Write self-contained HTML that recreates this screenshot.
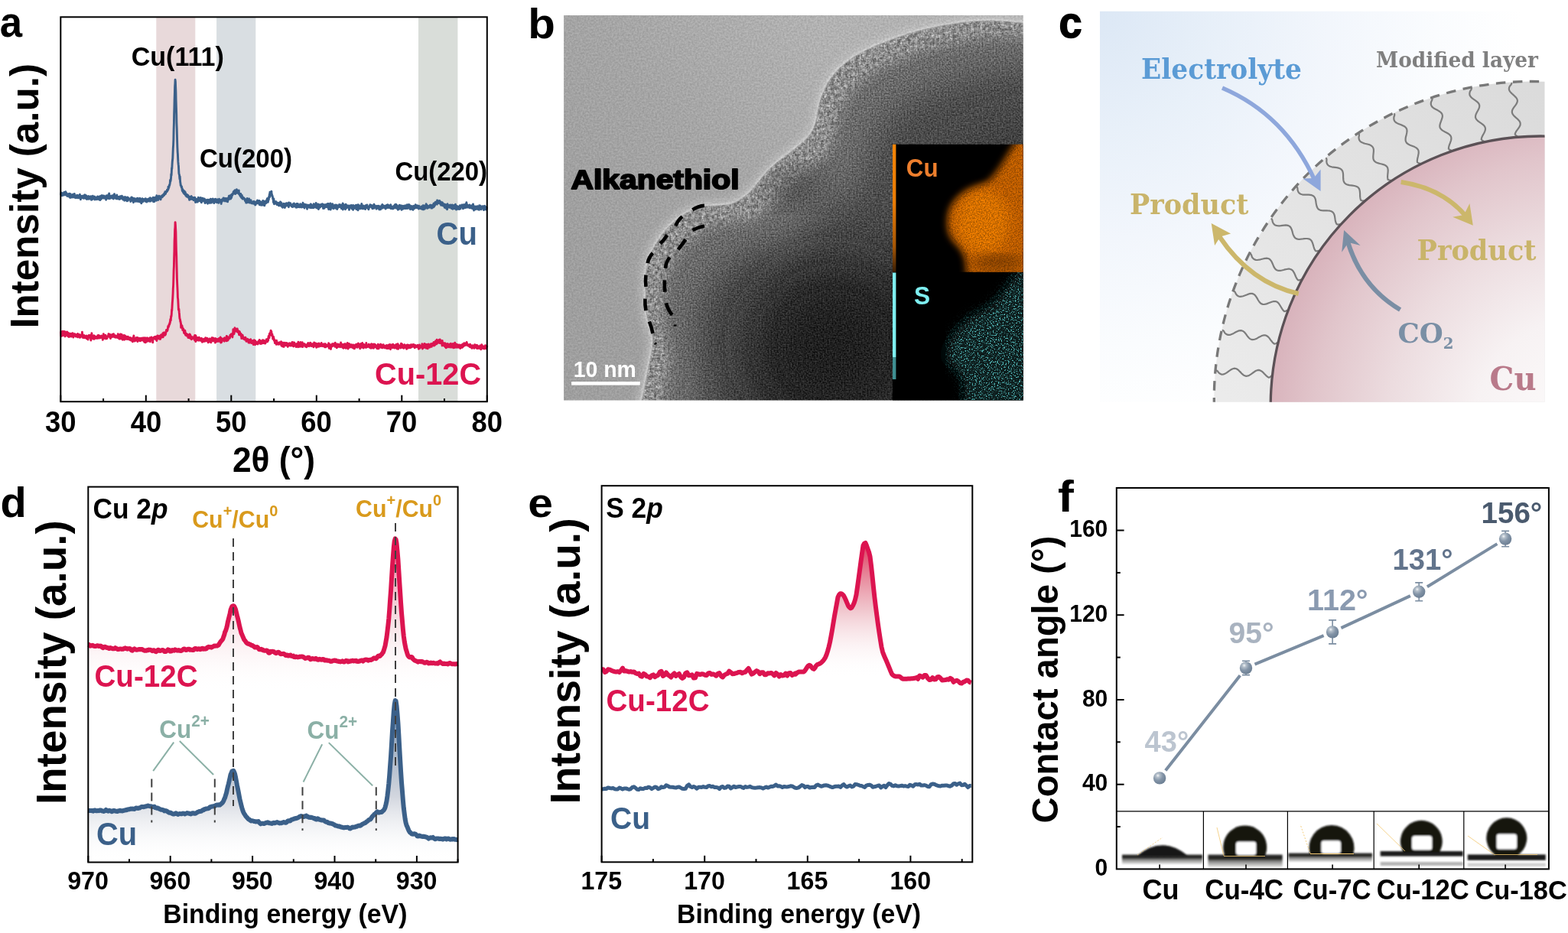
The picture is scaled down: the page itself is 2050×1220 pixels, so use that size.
<!DOCTYPE html>
<html lang="en"><head><meta charset="utf-8"><title>Figure</title>
<style>
html,body{margin:0;padding:0;background:#fff;overflow:hidden}
svg{display:block;position:absolute;left:0;top:0}
text{font-family:"Liberation Sans",sans-serif}
.sf{font-family:"DejaVu Serif","Liberation Serif",serif}
</style></head><body>
<svg width="2050" height="1220" viewBox="0 0 2050 1220">
<rect width="2050" height="1220" fill="#fff"/>
<defs>
<clipPath id="cb"><rect x="737.1" y="19.9" width="600.7" height="503.6"/></clipPath>
<linearGradient id="bbg" gradientUnits="userSpaceOnUse" x1="737" y1="330" x2="1080" y2="40"><stop offset="0" stop-color="#9f9f9f"/><stop offset="0.5" stop-color="#a5a5a5"/><stop offset="1" stop-color="#b2b2b2"/></linearGradient>
<filter id="bl1" x="-20%" y="-20%" width="140%" height="140%"><feGaussianBlur stdDeviation="1.3"/></filter>
<filter id="bl3" x="-20%" y="-20%" width="140%" height="140%"><feGaussianBlur stdDeviation="2.5"/></filter>
<filter id="bl5" x="-20%" y="-20%" width="140%" height="140%"><feGaussianBlur stdDeviation="5"/></filter>
<filter id="bl8" x="-20%" y="-20%" width="140%" height="140%"><feGaussianBlur stdDeviation="8"/></filter>
<filter id="bl20" x="-30%" y="-30%" width="160%" height="160%"><feGaussianBlur stdDeviation="20"/></filter>
<filter id="bl40" x="-40%" y="-40%" width="180%" height="180%"><feGaussianBlur stdDeviation="36"/></filter>
<filter id="temn" x="0" y="0" width="100%" height="100%" color-interpolation-filters="sRGB">
<feTurbulence type="fractalNoise" baseFrequency="0.42" numOctaves="2" seed="5" result="t"/>
<feColorMatrix in="t" type="matrix" values="1.6 0 0 0 -0.3  1.6 0 0 0 -0.3  1.6 0 0 0 -0.3  0 0 0 0 1" result="g"/>
<feComposite in="SourceGraphic" in2="g" operator="arithmetic" k1="0.16" k2="0.92" k3="0" k4="0"/>
</filter>
<filter id="shn" x="-5%" y="-5%" width="110%" height="110%" color-interpolation-filters="sRGB">
<feGaussianBlur in="SourceGraphic" stdDeviation="1.3" result="b"/>
<feTurbulence type="fractalNoise" baseFrequency="0.22" numOctaves="2" seed="17" result="t"/>
<feColorMatrix in="t" type="matrix" values="2 0 0 0 -0.5  2 0 0 0 -0.5  2 0 0 0 -0.5  0 0 0 0 1" result="g"/>
<feComposite in="b" in2="g" operator="arithmetic" k1="0.5" k2="0.75" k3="0" k4="0" result="c"/>
<feComposite in="c" in2="b" operator="in"/>
</filter>
<filter id="pn" x="0" y="0" width="100%" height="100%" color-interpolation-filters="sRGB">
<feTurbulence type="fractalNoise" baseFrequency="0.5" numOctaves="2" seed="33" result="t"/>
<feColorMatrix in="t" type="matrix" values="1.8 0 0 0 -0.4  1.8 0 0 0 -0.4  1.8 0 0 0 -0.4  0 0 0 0 1" result="g"/>
<feComposite in="SourceGraphic" in2="g" operator="arithmetic" k1="0.25" k2="0.875" k3="0.16" k4="-0.08" result="c"/>
<feComposite in="c" in2="SourceGraphic" operator="in"/>
</filter>
<filter id="cun" x="0" y="0" width="100%" height="100%" color-interpolation-filters="sRGB">
<feTurbulence type="fractalNoise" baseFrequency="0.6" numOctaves="2" seed="9" result="t"/>
<feColorMatrix in="t" type="matrix" values="0 0 0 0 0  0 0 0 0 0  0 0 0 0 0  -3 0 0 0 1.95" result="g"/>
<feComposite in="g" in2="SourceGraphic" operator="in"/>
</filter>
<filter id="sn" x="0" y="0" width="100%" height="100%" color-interpolation-filters="sRGB">
<feGaussianBlur in="SourceGraphic" stdDeviation="8" result="b"/>
<feTurbulence type="fractalNoise" baseFrequency="0.55" numOctaves="2" seed="21" result="t"/>
<feColorMatrix in="t" type="matrix" values="0 0 0 0 0.32  0 0 0 0 0.72  0 0 0 0 0.72  6.5 0 0 0 -3.5" result="g"/>
<feComposite in="g" in2="b" operator="in"/>
</filter>
</defs>
<g clip-path="url(#cb)">
<g filter="url(#temn)">
<rect x="735.1" y="17.9" width="604.7" height="507.6" fill="url(#bbg)"/>
<path d="M1350.0 31.0C1347.9 30.7 1344.9 29.9 1337.4 29.2C1329.9 28.4 1316.0 26.9 1305.0 26.5C1294.0 26.1 1283.0 26.1 1271.3 27.0C1259.6 27.9 1247.1 29.9 1235.0 32.0C1222.9 34.1 1210.6 36.6 1198.9 39.8C1187.2 43.0 1175.7 47.1 1165.0 51.0C1154.3 54.9 1143.5 59.3 1135.0 63.3C1126.5 67.3 1120.4 70.7 1114.0 75.0C1107.6 79.3 1101.6 84.1 1096.6 88.9C1091.6 93.7 1087.5 98.7 1084.0 104.0C1080.5 109.3 1077.7 115.1 1075.3 120.8C1072.9 126.5 1070.9 132.3 1069.5 138.0C1068.1 143.7 1068.0 149.7 1066.7 154.9C1065.5 160.1 1064.1 164.7 1062.0 169.0C1059.9 173.3 1057.3 176.8 1054.0 180.5C1050.7 184.2 1046.3 187.4 1042.0 191.0C1037.7 194.6 1032.9 198.3 1028.4 201.8C1023.9 205.3 1019.3 208.4 1015.0 212.0C1010.7 215.6 1006.6 219.1 1002.8 223.1C999.0 227.1 995.5 231.7 992.0 236.0C988.5 240.3 985.2 244.9 981.5 248.7C977.8 252.4 974.3 255.7 970.0 258.5C965.7 261.3 961.4 264.1 955.9 265.7C950.4 267.3 943.4 267.4 937.0 268.0C930.6 268.6 923.8 268.2 917.6 269.5C911.4 270.8 905.7 273.1 900.0 276.0C894.3 278.9 888.7 282.9 883.5 287.1C878.3 291.3 873.3 296.0 869.0 301.0C864.7 306.0 861.1 311.9 857.9 316.9C854.7 321.9 852.1 326.0 850.0 331.0C847.9 336.0 846.3 341.2 845.1 346.7C843.9 352.2 843.4 358.3 843.0 364.0C842.6 369.7 842.9 375.1 843.0 380.8C843.1 386.5 843.1 392.3 843.5 398.0C843.9 403.7 844.1 409.7 845.1 415.0C846.1 420.3 848.3 425.0 849.5 430.0C850.7 435.0 852.3 439.5 852.5 444.8C852.7 450.1 851.4 456.3 850.5 462.0C849.6 467.7 848.5 472.6 847.2 478.9C846.0 485.2 844.4 492.9 843.0 500.0C841.6 507.1 839.7 516.2 838.7 521.5C837.7 526.8 837.3 530.2 837.0 532.0L1350 532Z" fill="none" stroke="#c4c4c4" stroke-width="14" filter="url(#bl5)" opacity="0.6"/>
<g filter="url(#pn)">
<path d="M1350.0 31.0C1347.9 30.7 1344.9 29.9 1337.4 29.2C1329.9 28.4 1316.0 26.9 1305.0 26.5C1294.0 26.1 1283.0 26.1 1271.3 27.0C1259.6 27.9 1247.1 29.9 1235.0 32.0C1222.9 34.1 1210.6 36.6 1198.9 39.8C1187.2 43.0 1175.7 47.1 1165.0 51.0C1154.3 54.9 1143.5 59.3 1135.0 63.3C1126.5 67.3 1120.4 70.7 1114.0 75.0C1107.6 79.3 1101.6 84.1 1096.6 88.9C1091.6 93.7 1087.5 98.7 1084.0 104.0C1080.5 109.3 1077.7 115.1 1075.3 120.8C1072.9 126.5 1070.9 132.3 1069.5 138.0C1068.1 143.7 1068.0 149.7 1066.7 154.9C1065.5 160.1 1064.1 164.7 1062.0 169.0C1059.9 173.3 1057.3 176.8 1054.0 180.5C1050.7 184.2 1046.3 187.4 1042.0 191.0C1037.7 194.6 1032.9 198.3 1028.4 201.8C1023.9 205.3 1019.3 208.4 1015.0 212.0C1010.7 215.6 1006.6 219.1 1002.8 223.1C999.0 227.1 995.5 231.7 992.0 236.0C988.5 240.3 985.2 244.9 981.5 248.7C977.8 252.4 974.3 255.7 970.0 258.5C965.7 261.3 961.4 264.1 955.9 265.7C950.4 267.3 943.4 267.4 937.0 268.0C930.6 268.6 923.8 268.2 917.6 269.5C911.4 270.8 905.7 273.1 900.0 276.0C894.3 278.9 888.7 282.9 883.5 287.1C878.3 291.3 873.3 296.0 869.0 301.0C864.7 306.0 861.1 311.9 857.9 316.9C854.7 321.9 852.1 326.0 850.0 331.0C847.9 336.0 846.3 341.2 845.1 346.7C843.9 352.2 843.4 358.3 843.0 364.0C842.6 369.7 842.9 375.1 843.0 380.8C843.1 386.5 843.1 392.3 843.5 398.0C843.9 403.7 844.1 409.7 845.1 415.0C846.1 420.3 848.3 425.0 849.5 430.0C850.7 435.0 852.3 439.5 852.5 444.8C852.7 450.1 851.4 456.3 850.5 462.0C849.6 467.7 848.5 472.6 847.2 478.9C846.0 485.2 844.4 492.9 843.0 500.0C841.6 507.1 839.7 516.2 838.7 521.5C837.7 526.8 837.3 530.2 837.0 532.0L1350 532Z" fill="#8e8e8e" filter="url(#shn)"/>
<path d="M1350.0 31.0C1347.9 30.7 1344.9 29.9 1337.4 29.2C1329.9 28.4 1316.0 26.9 1305.0 26.5C1294.0 26.1 1283.0 26.1 1271.3 27.0C1259.6 27.9 1247.1 29.9 1235.0 32.0C1222.9 34.1 1210.6 36.6 1198.9 39.8C1187.2 43.0 1175.7 47.1 1165.0 51.0C1154.3 54.9 1143.5 59.3 1135.0 63.3C1126.5 67.3 1120.4 70.7 1114.0 75.0C1107.6 79.3 1101.6 84.1 1096.6 88.9C1091.6 93.7 1087.5 98.7 1084.0 104.0C1080.5 109.3 1077.7 115.1 1075.3 120.8C1072.9 126.5 1070.9 132.3 1069.5 138.0C1068.1 143.7 1068.0 149.7 1066.7 154.9C1065.5 160.1 1064.1 164.7 1062.0 169.0C1059.9 173.3 1057.3 176.8 1054.0 180.5C1050.7 184.2 1046.3 187.4 1042.0 191.0C1037.7 194.6 1032.9 198.3 1028.4 201.8C1023.9 205.3 1019.3 208.4 1015.0 212.0C1010.7 215.6 1006.6 219.1 1002.8 223.1C999.0 227.1 995.5 231.7 992.0 236.0C988.5 240.3 985.2 244.9 981.5 248.7C977.8 252.4 974.3 255.7 970.0 258.5C965.7 261.3 961.4 264.1 955.9 265.7C950.4 267.3 943.4 267.4 937.0 268.0C930.6 268.6 923.8 268.2 917.6 269.5C911.4 270.8 905.7 273.1 900.0 276.0C894.3 278.9 888.7 282.9 883.5 287.1C878.3 291.3 873.3 296.0 869.0 301.0C864.7 306.0 861.1 311.9 857.9 316.9C854.7 321.9 852.1 326.0 850.0 331.0C847.9 336.0 846.3 341.2 845.1 346.7C843.9 352.2 843.4 358.3 843.0 364.0C842.6 369.7 842.9 375.1 843.0 380.8C843.1 386.5 843.1 392.3 843.5 398.0C843.9 403.7 844.1 409.7 845.1 415.0C846.1 420.3 848.3 425.0 849.5 430.0C850.7 435.0 852.3 439.5 852.5 444.8C852.7 450.1 851.4 456.3 850.5 462.0C849.6 467.7 848.5 472.6 847.2 478.9C846.0 485.2 844.4 492.9 843.0 500.0C841.6 507.1 839.7 516.2 838.7 521.5C837.7 526.8 837.3 530.2 837.0 532.0L1350 532Z" fill="#6c6c6c" filter="url(#bl8)" transform="translate(25,23)"/>
<path d="M1350.0 31.0C1347.9 30.7 1344.9 29.9 1337.4 29.2C1329.9 28.4 1316.0 26.9 1305.0 26.5C1294.0 26.1 1283.0 26.1 1271.3 27.0C1259.6 27.9 1247.1 29.9 1235.0 32.0C1222.9 34.1 1210.6 36.6 1198.9 39.8C1187.2 43.0 1175.7 47.1 1165.0 51.0C1154.3 54.9 1143.5 59.3 1135.0 63.3C1126.5 67.3 1120.4 70.7 1114.0 75.0C1107.6 79.3 1101.6 84.1 1096.6 88.9C1091.6 93.7 1087.5 98.7 1084.0 104.0C1080.5 109.3 1077.7 115.1 1075.3 120.8C1072.9 126.5 1070.9 132.3 1069.5 138.0C1068.1 143.7 1068.0 149.7 1066.7 154.9C1065.5 160.1 1064.1 164.7 1062.0 169.0C1059.9 173.3 1057.3 176.8 1054.0 180.5C1050.7 184.2 1046.3 187.4 1042.0 191.0C1037.7 194.6 1032.9 198.3 1028.4 201.8C1023.9 205.3 1019.3 208.4 1015.0 212.0C1010.7 215.6 1006.6 219.1 1002.8 223.1C999.0 227.1 995.5 231.7 992.0 236.0C988.5 240.3 985.2 244.9 981.5 248.7C977.8 252.4 974.3 255.7 970.0 258.5C965.7 261.3 961.4 264.1 955.9 265.7C950.4 267.3 943.4 267.4 937.0 268.0C930.6 268.6 923.8 268.2 917.6 269.5C911.4 270.8 905.7 273.1 900.0 276.0C894.3 278.9 888.7 282.9 883.5 287.1C878.3 291.3 873.3 296.0 869.0 301.0C864.7 306.0 861.1 311.9 857.9 316.9C854.7 321.9 852.1 326.0 850.0 331.0C847.9 336.0 846.3 341.2 845.1 346.7C843.9 352.2 843.4 358.3 843.0 364.0C842.6 369.7 842.9 375.1 843.0 380.8C843.1 386.5 843.1 392.3 843.5 398.0C843.9 403.7 844.1 409.7 845.1 415.0C846.1 420.3 848.3 425.0 849.5 430.0C850.7 435.0 852.3 439.5 852.5 444.8C852.7 450.1 851.4 456.3 850.5 462.0C849.6 467.7 848.5 472.6 847.2 478.9C846.0 485.2 844.4 492.9 843.0 500.0C841.6 507.1 839.7 516.2 838.7 521.5C837.7 526.8 837.3 530.2 837.0 532.0L1350 532Z" fill="#4e4e4e" filter="url(#bl20)" transform="translate(66,60)"/>
<path d="M1350.0 31.0C1347.9 30.7 1344.9 29.9 1337.4 29.2C1329.9 28.4 1316.0 26.9 1305.0 26.5C1294.0 26.1 1283.0 26.1 1271.3 27.0C1259.6 27.9 1247.1 29.9 1235.0 32.0C1222.9 34.1 1210.6 36.6 1198.9 39.8C1187.2 43.0 1175.7 47.1 1165.0 51.0C1154.3 54.9 1143.5 59.3 1135.0 63.3C1126.5 67.3 1120.4 70.7 1114.0 75.0C1107.6 79.3 1101.6 84.1 1096.6 88.9C1091.6 93.7 1087.5 98.7 1084.0 104.0C1080.5 109.3 1077.7 115.1 1075.3 120.8C1072.9 126.5 1070.9 132.3 1069.5 138.0C1068.1 143.7 1068.0 149.7 1066.7 154.9C1065.5 160.1 1064.1 164.7 1062.0 169.0C1059.9 173.3 1057.3 176.8 1054.0 180.5C1050.7 184.2 1046.3 187.4 1042.0 191.0C1037.7 194.6 1032.9 198.3 1028.4 201.8C1023.9 205.3 1019.3 208.4 1015.0 212.0C1010.7 215.6 1006.6 219.1 1002.8 223.1C999.0 227.1 995.5 231.7 992.0 236.0C988.5 240.3 985.2 244.9 981.5 248.7C977.8 252.4 974.3 255.7 970.0 258.5C965.7 261.3 961.4 264.1 955.9 265.7C950.4 267.3 943.4 267.4 937.0 268.0C930.6 268.6 923.8 268.2 917.6 269.5C911.4 270.8 905.7 273.1 900.0 276.0C894.3 278.9 888.7 282.9 883.5 287.1C878.3 291.3 873.3 296.0 869.0 301.0C864.7 306.0 861.1 311.9 857.9 316.9C854.7 321.9 852.1 326.0 850.0 331.0C847.9 336.0 846.3 341.2 845.1 346.7C843.9 352.2 843.4 358.3 843.0 364.0C842.6 369.7 842.9 375.1 843.0 380.8C843.1 386.5 843.1 392.3 843.5 398.0C843.9 403.7 844.1 409.7 845.1 415.0C846.1 420.3 848.3 425.0 849.5 430.0C850.7 435.0 852.3 439.5 852.5 444.8C852.7 450.1 851.4 456.3 850.5 462.0C849.6 467.7 848.5 472.6 847.2 478.9C846.0 485.2 844.4 492.9 843.0 500.0C841.6 507.1 839.7 516.2 838.7 521.5C837.7 526.8 837.3 530.2 837.0 532.0L1350 532Z" fill="#343434" filter="url(#bl40)" transform="translate(140,135)"/>
<ellipse cx="1090" cy="450" rx="110" ry="110" fill="#1a1a1a" filter="url(#bl40)" opacity="0.85"/>
<ellipse cx="1040" cy="245" rx="38" ry="22" fill="#333" filter="url(#bl20)" opacity="0.55"/>
</g>
<path d="M1350.0 31.0C1347.9 30.7 1344.9 29.9 1337.4 29.2C1329.9 28.4 1316.0 26.9 1305.0 26.5C1294.0 26.1 1283.0 26.1 1271.3 27.0C1259.6 27.9 1247.1 29.9 1235.0 32.0C1222.9 34.1 1210.6 36.6 1198.9 39.8C1187.2 43.0 1175.7 47.1 1165.0 51.0C1154.3 54.9 1143.5 59.3 1135.0 63.3C1126.5 67.3 1120.4 70.7 1114.0 75.0C1107.6 79.3 1101.6 84.1 1096.6 88.9C1091.6 93.7 1087.5 98.7 1084.0 104.0C1080.5 109.3 1077.7 115.1 1075.3 120.8C1072.9 126.5 1070.9 132.3 1069.5 138.0C1068.1 143.7 1068.0 149.7 1066.7 154.9C1065.5 160.1 1064.1 164.7 1062.0 169.0C1059.9 173.3 1057.3 176.8 1054.0 180.5C1050.7 184.2 1046.3 187.4 1042.0 191.0C1037.7 194.6 1032.9 198.3 1028.4 201.8C1023.9 205.3 1019.3 208.4 1015.0 212.0C1010.7 215.6 1006.6 219.1 1002.8 223.1C999.0 227.1 995.5 231.7 992.0 236.0C988.5 240.3 985.2 244.9 981.5 248.7C977.8 252.4 974.3 255.7 970.0 258.5C965.7 261.3 961.4 264.1 955.9 265.7C950.4 267.3 943.4 267.4 937.0 268.0C930.6 268.6 923.8 268.2 917.6 269.5C911.4 270.8 905.7 273.1 900.0 276.0C894.3 278.9 888.7 282.9 883.5 287.1C878.3 291.3 873.3 296.0 869.0 301.0C864.7 306.0 861.1 311.9 857.9 316.9C854.7 321.9 852.1 326.0 850.0 331.0C847.9 336.0 846.3 341.2 845.1 346.7C843.9 352.2 843.4 358.3 843.0 364.0C842.6 369.7 842.9 375.1 843.0 380.8C843.1 386.5 843.1 392.3 843.5 398.0C843.9 403.7 844.1 409.7 845.1 415.0C846.1 420.3 848.3 425.0 849.5 430.0C850.7 435.0 852.3 439.5 852.5 444.8C852.7 450.1 851.4 456.3 850.5 462.0C849.6 467.7 848.5 472.6 847.2 478.9C846.0 485.2 844.4 492.9 843.0 500.0C841.6 507.1 839.7 516.2 838.7 521.5C837.7 526.8 837.3 530.2 837.0 532.0L1350 532Z" fill="none" stroke="#dadada" stroke-width="2.4" filter="url(#bl1)" opacity="0.85"/>
</g>
<path d="M920.9 268.9Q912.9 269.4 905.4 274.4" stroke="#000" stroke-width="4.6" fill="none"/>
<path d="M892 283.2Q886.4 287.7 883.2 295.4" stroke="#000" stroke-width="4.6" fill="none"/>
<path d="M872.2 307.6Q868.2 313.9 863.3 318.7" stroke="#000" stroke-width="4.6" fill="none"/>
<path d="M853.4 330.8Q848.0 336.5 846.7 344.1" stroke="#000" stroke-width="4.6" fill="none"/>
<path d="M844.5 359.6Q843.5 366.6 844.5 375.1" stroke="#000" stroke-width="4.6" fill="none"/>
<path d="M843.4 390.6Q843.0 398.6 844.5 406.1" stroke="#000" stroke-width="4.6" fill="none"/>
<path d="M848.9 420.5Q851.9 427.8 853.4 436" stroke="#000" stroke-width="4.6" fill="none"/>
<path d="M920.9 295.4Q912.9 296.8 905.4 301" stroke="#000" stroke-width="4.6" fill="none"/>
<path d="M896.5 313.1Q891.5 320.2 886.6 326.4" stroke="#000" stroke-width="4.6" fill="none"/>
<path d="M875.5 336.4Q870.8 342.4 870 350.8" stroke="#000" stroke-width="4.6" fill="none"/>
<path d="M868.9 366.3Q868.4 373.9 869.5 381.8" stroke="#000" stroke-width="4.6" fill="none"/>
<path d="M871 396.2Q873.1 405.1 878.8 411.7" stroke="#000" stroke-width="4.6" fill="none"/>
<path d="M880.5 425.5h4M855.5 450l3-1.5" stroke="#000" stroke-width="2" fill="none"/>
<rect x="1167" y="188.8" width="171" height="335" fill="#000"/>
<clipPath id="ccu"><rect x="1167" y="188.8" width="170.8" height="166.9"/></clipPath>
<g clip-path="url(#ccu)">
<path d="M1334.0 176.0C1332.7 178.2 1329.0 184.2 1326.0 189.0C1323.0 193.8 1319.5 199.5 1316.0 205.0C1312.5 210.5 1309.0 216.7 1305.0 222.0C1301.0 227.3 1296.7 233.3 1292.0 237.0C1287.3 240.7 1282.0 241.7 1277.0 244.0C1272.0 246.3 1266.5 248.2 1262.0 251.0C1257.5 253.8 1253.3 257.3 1250.0 261.0C1246.7 264.7 1243.8 268.7 1242.0 273.0C1240.2 277.3 1239.3 282.2 1239.0 287.0C1238.7 291.8 1238.8 297.5 1240.0 302.0C1241.2 306.5 1243.5 310.5 1246.0 314.0C1248.5 317.5 1252.5 319.5 1255.0 323.0C1257.5 326.5 1259.6 330.5 1261.0 335.0C1262.4 339.5 1263.0 345.2 1263.5 350.0C1264.0 354.8 1263.9 361.7 1264.0 364.0L1350 364L1350 176Z" fill="#d66a06" filter="url(#bl5)"/>
<ellipse cx="1285" cy="290" rx="34" ry="42" fill="#fb8506" filter="url(#bl8)" opacity="0.9"/>
<ellipse cx="1305" cy="343" rx="34" ry="9" fill="#5e2e04" filter="url(#bl8)" opacity="0.6"/>
<g filter="url(#cun)" opacity="0.3"><path d="M1334.0 176.0C1332.7 178.2 1329.0 184.2 1326.0 189.0C1323.0 193.8 1319.5 199.5 1316.0 205.0C1312.5 210.5 1309.0 216.7 1305.0 222.0C1301.0 227.3 1296.7 233.3 1292.0 237.0C1287.3 240.7 1282.0 241.7 1277.0 244.0C1272.0 246.3 1266.5 248.2 1262.0 251.0C1257.5 253.8 1253.3 257.3 1250.0 261.0C1246.7 264.7 1243.8 268.7 1242.0 273.0C1240.2 277.3 1239.3 282.2 1239.0 287.0C1238.7 291.8 1238.8 297.5 1240.0 302.0C1241.2 306.5 1243.5 310.5 1246.0 314.0C1248.5 317.5 1252.5 319.5 1255.0 323.0C1257.5 326.5 1259.6 330.5 1261.0 335.0C1262.4 339.5 1263.0 345.2 1263.5 350.0C1264.0 354.8 1263.9 361.7 1264.0 364.0L1350 364L1350 176Z" fill="#000"/></g>
</g>
<linearGradient id="lno" x1="0" y1="0" x2="0" y2="1"><stop offset="0" stop-color="#f38406"/><stop offset="0.45" stop-color="#e97c06"/><stop offset="0.8" stop-color="#a45606"/><stop offset="1" stop-color="#3a1e04"/></linearGradient><rect x="1167" y="188.8" width="4.4" height="167" fill="url(#lno)"/>
<clipPath id="ccs"><rect x="1167" y="356.2" width="170.8" height="167.3"/></clipPath>
<g clip-path="url(#ccs)">
<path d="M1338.0 343.0C1336.7 345.3 1332.8 352.5 1330.0 357.0C1327.2 361.5 1324.0 365.8 1321.0 370.0C1318.0 374.2 1315.2 378.6 1312.0 382.4C1308.8 386.2 1305.2 389.8 1302.0 393.0C1298.8 396.2 1296.3 399.1 1293.0 401.6C1289.7 404.1 1285.8 405.9 1282.0 408.0C1278.2 410.1 1273.5 411.7 1270.0 414.0C1266.5 416.3 1264.0 419.2 1261.0 422.0C1258.0 424.8 1254.7 427.8 1252.0 431.0C1249.3 434.2 1247.0 437.7 1245.0 441.0C1243.0 444.3 1241.3 447.8 1240.0 451.0C1238.7 454.2 1237.5 457.2 1237.0 460.0C1236.5 462.8 1236.2 465.3 1237.0 468.0C1237.8 470.7 1239.8 473.5 1242.0 476.0C1244.2 478.5 1247.7 480.7 1250.0 483.0C1252.3 485.3 1254.3 487.6 1256.0 490.0C1257.7 492.4 1259.2 494.2 1260.0 497.5C1260.8 500.8 1261.0 504.2 1261.0 510.0C1261.0 515.8 1260.2 528.3 1260.0 532.0L1350 532L1350 343Z" fill="#0a1f1f" filter="url(#bl8)"/>
<g filter="url(#sn)"><path d="M1338.0 343.0C1336.7 345.3 1332.8 352.5 1330.0 357.0C1327.2 361.5 1324.0 365.8 1321.0 370.0C1318.0 374.2 1315.2 378.6 1312.0 382.4C1308.8 386.2 1305.2 389.8 1302.0 393.0C1298.8 396.2 1296.3 399.1 1293.0 401.6C1289.7 404.1 1285.8 405.9 1282.0 408.0C1278.2 410.1 1273.5 411.7 1270.0 414.0C1266.5 416.3 1264.0 419.2 1261.0 422.0C1258.0 424.8 1254.7 427.8 1252.0 431.0C1249.3 434.2 1247.0 437.7 1245.0 441.0C1243.0 444.3 1241.3 447.8 1240.0 451.0C1238.7 454.2 1237.5 457.2 1237.0 460.0C1236.5 462.8 1236.2 465.3 1237.0 468.0C1237.8 470.7 1239.8 473.5 1242.0 476.0C1244.2 478.5 1247.7 480.7 1250.0 483.0C1252.3 485.3 1254.3 487.6 1256.0 490.0C1257.7 492.4 1259.2 494.2 1260.0 497.5C1260.8 500.8 1261.0 504.2 1261.0 510.0C1261.0 515.8 1260.2 528.3 1260.0 532.0L1350 532L1350 343Z" fill="#000"/></g>
</g>
<rect x="1167" y="356.5" width="4.4" height="110.5" fill="#7eeef0"/><rect x="1167" y="467" width="4.4" height="29" fill="#3f8f92"/>
</g>
<text x="1184.8" y="230.9" font-size="32.7" font-weight="bold" fill="#ee7f2d" textLength="41.7" lengthAdjust="spacingAndGlyphs">Cu</text>
<text x="1195.0" y="398.4" font-size="33.1" font-weight="bold" fill="#7eeef0" textLength="21.1" lengthAdjust="spacingAndGlyphs">S</text>
<rect x="747.1" y="499" width="89.7" height="4.6" fill="#fff"/>
<text x="749.7" y="492.9" font-size="29.7" font-weight="bold" fill="#fff" textLength="82.2" lengthAdjust="spacingAndGlyphs">10 nm</text>
<text x="746.5" y="247" font-size="34.5" font-weight="bold" fill="#000" stroke="#000" stroke-width="1.9" stroke-linejoin="round" textLength="220" lengthAdjust="spacingAndGlyphs">Alkanethiol</text>
<text x="690.2" y="50.0" font-size="55.2" font-weight="bold" textLength="35.6" lengthAdjust="spacingAndGlyphs">b</text>
<defs>
<clipPath id="cc"><rect x="1438" y="14.6" width="581.5" height="511.1"/></clipPath>
<radialGradient id="cbg" gradientUnits="userSpaceOnUse" cx="1430" cy="5" r="560"><stop offset="0" stop-color="#dbe7f5"/><stop offset="0.3" stop-color="#e8f0f9"/><stop offset="0.55" stop-color="#f2f6fc"/><stop offset="0.8" stop-color="#fafcfe"/><stop offset="1" stop-color="#ffffff"/></radialGradient>
<radialGradient id="cpk" gradientUnits="userSpaceOnUse" cx="2074.1" cy="560.9" r="420.9"><stop offset="0" stop-color="#fdfcfc"/><stop offset="0.35" stop-color="#f7f2f3"/><stop offset="0.62" stop-color="#ecdcdf"/><stop offset="0.85" stop-color="#e1c5cb"/><stop offset="1" stop-color="#d8b2bb"/></radialGradient>
<linearGradient id="cring" gradientUnits="userSpaceOnUse" x1="2000" y1="110" x2="1600" y2="520"><stop offset="0" stop-color="#dbdbdb"/><stop offset="1" stop-color="#ebebeb"/></linearGradient>
</defs>
<g clip-path="url(#cc)">
<rect x="1438" y="14.6" width="581.5" height="511.1" fill="url(#cbg)"/>
<circle cx="2002.7" cy="521.9" r="415.4" fill="url(#cring)"/>
<circle cx="2014.1" cy="530.9" r="352.9" fill="url(#cpk)"/>
<path d="M1976.4 108.9L1975.7 110.5L1974.2 112.2L1973.3 113.8L1972.9 115.4L1972.9 117.0L1973.4 118.5L1974.3 119.9L1975.6 121.4L1977.1 122.8L1978.7 124.2L1980.3 125.7L1981.7 127.1L1982.9 128.6L1983.6 130.1L1983.9 131.6L1983.7 133.2L1983.1 134.8L1982.2 136.4L1981.0 138.1L1979.8 139.7L1978.6 141.4L1977.6 143.0L1977.0 144.6L1976.8 146.2L1977.0 147.7L1977.6 149.2L1978.7 150.7L1980.1 152.1L1981.7 153.6L1983.3 155.0L1984.8 156.4L1986.2 157.9L1987.1 159.3L1987.6 160.8L1987.7 162.4L1987.4 164.0L1986.6 165.6L1985.6 167.2L1984.4 168.9L1983.1 170.6L1982.0 172.2L1981.2 173.9L1980.7 175.4L1981.7 176.9L1983.7 178.3" fill="none" stroke="#7c7c7c" stroke-width="2.2" stroke-linejoin="round" stroke-linecap="round"/>
<path d="M1923.9 115.6L1923.4 117.3L1922.1 119.2L1921.5 121.0L1921.3 122.6L1921.5 124.2L1922.2 125.7L1923.2 127.0L1924.7 128.4L1926.4 129.6L1928.2 130.8L1929.9 132.1L1931.5 133.4L1932.8 134.7L1933.7 136.1L1934.2 137.6L1934.2 139.2L1933.9 140.9L1933.1 142.7L1932.2 144.5L1931.2 146.3L1930.2 148.2L1929.5 149.9L1929.1 151.6L1929.0 153.3L1929.5 154.8L1930.3 156.2L1931.6 157.6L1933.1 158.9L1934.9 160.1L1936.7 161.3L1938.4 162.6L1939.9 163.9L1941.0 165.2L1941.7 166.7L1942.0 168.3L1941.8 169.9L1941.3 171.6L1940.5 173.4L1939.5 175.3L1938.5 177.1L1937.6 178.9L1937.0 180.6L1936.7 182.3L1937.9 183.7L1940.0 184.8" fill="none" stroke="#7c7c7c" stroke-width="2.2" stroke-linejoin="round" stroke-linecap="round"/>
<path d="M1872.6 129.0L1872.3 130.8L1871.2 132.9L1870.8 134.7L1870.8 136.4L1871.3 138.0L1872.1 139.4L1873.4 140.6L1875.0 141.8L1876.8 142.8L1878.8 143.8L1880.7 144.9L1882.4 146.0L1883.9 147.2L1885.0 148.5L1885.6 149.9L1885.9 151.6L1885.7 153.3L1885.2 155.2L1884.5 157.1L1883.8 159.1L1883.1 161.0L1882.6 162.9L1882.3 164.7L1882.5 166.3L1883.1 167.8L1884.2 169.1L1885.6 170.3L1887.3 171.4L1889.2 172.5L1891.2 173.5L1893.0 174.5L1894.7 175.7L1896.0 176.9L1896.9 178.3L1897.3 179.8L1897.4 181.5L1897.1 183.3L1896.5 185.2L1895.8 187.2L1895.0 189.1L1894.4 191.1L1894.0 192.9L1893.9 194.6L1895.3 195.8L1897.5 196.8" fill="none" stroke="#7c7c7c" stroke-width="2.2" stroke-linejoin="round" stroke-linecap="round"/>
<path d="M1823.2 149.0L1823.2 150.8L1822.4 153.0L1822.3 154.9L1822.5 156.6L1823.1 158.1L1824.1 159.4L1825.6 160.5L1827.3 161.4L1829.3 162.3L1831.3 163.1L1833.4 163.9L1835.2 164.8L1836.9 165.8L1838.1 167.0L1839.0 168.3L1839.4 169.9L1839.5 171.7L1839.2 173.7L1838.8 175.7L1838.3 177.7L1837.8 179.8L1837.6 181.7L1837.6 183.5L1838.0 185.1L1838.8 186.6L1840.0 187.8L1841.6 188.8L1843.4 189.7L1845.4 190.5L1847.5 191.3L1849.5 192.1L1851.3 193.1L1852.7 194.2L1853.8 195.4L1854.5 196.9L1854.7 198.6L1854.7 200.4L1854.3 202.4L1853.9 204.5L1853.4 206.5L1853.0 208.5L1852.8 210.4L1853.0 212.1L1854.5 213.2L1856.8 213.9" fill="none" stroke="#7c7c7c" stroke-width="2.2" stroke-linejoin="round" stroke-linecap="round"/>
<path d="M1776.8 175.1L1777.0 176.9L1776.5 179.2L1776.6 181.1L1777.0 182.8L1777.9 184.2L1779.0 185.4L1780.6 186.3L1782.5 187.1L1784.5 187.7L1786.7 188.2L1788.8 188.8L1790.8 189.4L1792.5 190.3L1793.9 191.3L1794.9 192.6L1795.6 194.1L1795.9 195.9L1795.9 197.8L1795.7 199.9L1795.5 202.0L1795.3 204.1L1795.3 206.1L1795.5 207.9L1796.1 209.5L1797.1 210.8L1798.5 211.9L1800.2 212.7L1802.1 213.4L1804.2 214.0L1806.4 214.5L1808.5 215.1L1810.4 215.8L1812.0 216.7L1813.2 217.9L1814.1 219.2L1814.5 220.9L1814.7 222.7L1814.6 224.8L1814.4 226.9L1814.2 229.0L1814.1 231.0L1814.2 232.9L1814.5 234.7L1816.2 235.5L1818.6 235.9" fill="none" stroke="#7c7c7c" stroke-width="2.2" stroke-linejoin="round" stroke-linecap="round"/>
<path d="M1734.1 207.0L1734.5 208.8L1734.3 211.2L1734.6 213.1L1735.3 214.7L1736.3 216.0L1737.6 217.0L1739.3 217.8L1741.2 218.3L1743.3 218.6L1745.5 218.9L1747.7 219.2L1749.8 219.6L1751.6 220.2L1753.1 221.1L1754.3 222.3L1755.2 223.7L1755.7 225.4L1756.0 227.4L1756.1 229.5L1756.1 231.6L1756.2 233.7L1756.4 235.7L1756.9 237.5L1757.7 238.9L1758.8 240.1L1760.3 241.0L1762.1 241.7L1764.1 242.1L1766.3 242.4L1768.5 242.7L1770.7 243.0L1772.6 243.5L1774.3 244.2L1775.7 245.2L1776.8 246.5L1777.4 248.1L1777.8 249.9L1778.0 251.9L1778.1 254.0L1778.1 256.2L1778.3 258.2L1778.6 260.1L1779.2 261.8L1780.9 262.5L1783.4 262.5" fill="none" stroke="#7c7c7c" stroke-width="2.2" stroke-linejoin="round" stroke-linecap="round"/>
<path d="M1695.7 244.3L1696.4 246.0L1696.5 248.4L1697.1 250.2L1697.9 251.7L1699.1 252.9L1700.5 253.8L1702.3 254.3L1704.3 254.6L1706.4 254.6L1708.7 254.6L1710.9 254.7L1713.0 254.8L1714.9 255.2L1716.5 255.9L1717.8 256.9L1718.8 258.2L1719.6 259.9L1720.1 261.8L1720.4 263.8L1720.7 266.0L1721.1 268.0L1721.6 270.0L1722.3 271.7L1723.3 273.1L1724.5 274.1L1726.1 274.8L1728.0 275.2L1730.1 275.4L1732.3 275.4L1734.5 275.4L1736.7 275.5L1738.7 275.7L1740.5 276.2L1742.0 277.1L1743.2 278.2L1744.0 279.7L1744.7 281.5L1745.1 283.4L1745.4 285.6L1745.7 287.7L1746.1 289.7L1746.7 291.5L1747.5 293.1L1749.3 293.6L1751.8 293.3" fill="none" stroke="#7c7c7c" stroke-width="2.2" stroke-linejoin="round" stroke-linecap="round"/>
<path d="M1662.5 286.1L1663.4 287.7L1663.8 290.1L1664.6 291.8L1665.6 293.2L1666.9 294.3L1668.5 294.9L1670.3 295.2L1672.3 295.3L1674.4 295.1L1676.6 294.8L1678.8 294.6L1680.9 294.4L1682.9 294.6L1684.6 295.1L1686.0 295.9L1687.2 297.1L1688.1 298.6L1688.9 300.5L1689.5 302.5L1690.0 304.5L1690.6 306.6L1691.4 308.4L1692.3 310.0L1693.4 311.3L1694.8 312.1L1696.5 312.6L1698.4 312.8L1700.5 312.7L1702.7 312.5L1704.9 312.2L1707.0 312.0L1709.1 312.0L1710.9 312.3L1712.5 312.9L1713.8 313.9L1714.9 315.3L1715.7 316.9L1716.4 318.8L1717.0 320.9L1717.6 323.0L1718.2 324.9L1719.0 326.7L1720.0 328.1L1721.9 328.4L1724.3 327.8" fill="none" stroke="#7c7c7c" stroke-width="2.2" stroke-linejoin="round" stroke-linecap="round"/>
<path d="M1635.0 331.9L1636.1 333.4L1636.7 335.7L1637.7 337.3L1638.9 338.5L1640.3 339.4L1642.0 339.9L1643.8 340.0L1645.8 339.7L1647.9 339.3L1650.0 338.7L1652.2 338.2L1654.2 337.8L1656.2 337.7L1657.9 338.0L1659.4 338.6L1660.7 339.7L1661.9 341.1L1662.8 342.8L1663.7 344.7L1664.5 346.7L1665.3 348.6L1666.3 350.4L1667.4 351.8L1668.7 352.9L1670.2 353.6L1671.9 353.9L1673.8 353.9L1675.8 353.5L1678.0 353.0L1680.1 352.4L1682.2 352.0L1684.3 351.7L1686.1 351.7L1687.7 352.2L1689.2 353.0L1690.4 354.2L1691.4 355.8L1692.4 357.6L1693.2 359.5L1694.0 361.5L1694.9 363.4L1695.9 365.0L1697.1 366.3L1698.9 366.3L1701.2 365.5" fill="none" stroke="#7c7c7c" stroke-width="2.2" stroke-linejoin="round" stroke-linecap="round"/>
<path d="M1613.6 380.8L1614.8 382.1L1615.8 384.3L1617.0 385.8L1618.3 386.9L1619.8 387.6L1621.4 387.8L1623.2 387.7L1625.2 387.2L1627.2 386.5L1629.3 385.7L1631.3 384.9L1633.3 384.2L1635.2 383.9L1637.0 383.9L1638.5 384.4L1640.0 385.2L1641.2 386.5L1642.4 388.1L1643.5 389.9L1644.5 391.7L1645.6 393.5L1646.7 395.1L1648.0 396.5L1649.4 397.4L1651.0 397.9L1652.7 398.0L1654.6 397.7L1656.5 397.1L1658.6 396.3L1660.7 395.5L1662.7 394.7L1664.6 394.2L1666.5 394.0L1668.1 394.2L1669.7 394.8L1671.0 395.9L1672.2 397.3L1673.3 399.0L1674.4 400.8L1675.5 402.7L1676.6 404.4L1677.7 405.9L1679.1 407.1L1680.9 406.8L1683.1 405.7" fill="none" stroke="#7c7c7c" stroke-width="2.2" stroke-linejoin="round" stroke-linecap="round"/>
<path d="M1598.7 431.9L1600.1 433.1L1601.2 435.2L1602.6 436.5L1604.0 437.4L1605.6 437.9L1607.3 437.9L1609.0 437.6L1610.9 436.8L1612.8 435.9L1614.7 434.8L1616.6 433.8L1618.5 432.9L1620.3 432.3L1622.0 432.1L1623.7 432.4L1625.2 433.0L1626.6 434.1L1627.9 435.5L1629.2 437.2L1630.4 438.9L1631.7 440.6L1633.0 442.0L1634.4 443.1L1635.9 443.9L1637.5 444.2L1639.2 444.0L1641.0 443.5L1642.9 442.7L1644.8 441.6L1646.8 440.6L1648.7 439.6L1650.5 438.8L1652.3 438.4L1654.0 438.4L1655.5 438.8L1657.0 439.7L1658.4 440.9L1659.7 442.4L1660.9 444.1L1662.2 445.8L1663.5 447.4L1664.8 448.8L1666.3 449.7L1668.1 449.3L1670.1 447.9" fill="none" stroke="#7c7c7c" stroke-width="2.2" stroke-linejoin="round" stroke-linecap="round"/>
<path d="M1590.5 484.5L1592.0 485.5L1593.4 487.4L1594.9 488.5L1596.4 489.3L1598.0 489.6L1599.6 489.4L1601.3 488.8L1603.0 487.9L1604.8 486.7L1606.5 485.3L1608.3 484.1L1610.0 483.0L1611.7 482.2L1613.4 481.7L1615.0 481.8L1616.6 482.3L1618.1 483.2L1619.6 484.4L1621.0 485.9L1622.5 487.4L1623.9 488.9L1625.4 490.2L1626.9 491.1L1628.4 491.7L1630.0 491.8L1631.7 491.4L1633.4 490.7L1635.1 489.6L1636.9 488.3L1638.7 487.0L1640.4 485.8L1642.1 484.8L1643.8 484.2L1645.5 483.9L1647.1 484.2L1648.6 484.9L1650.1 485.9L1651.6 487.3L1653.0 488.8L1654.5 490.3L1655.9 491.7L1657.4 492.9L1658.9 493.7L1660.6 493.0L1662.4 491.4" fill="none" stroke="#7c7c7c" stroke-width="2.2" stroke-linejoin="round" stroke-linecap="round"/>
<circle cx="2002.7" cy="521.9" r="415.4" fill="none" stroke="#787878" stroke-width="3.3" stroke-dasharray="12.5 9.5" stroke-dashoffset="4"/>
<circle cx="2014.1" cy="530.9" r="352.9" fill="none" stroke="#5b5156" stroke-width="3.3"/>
</g>
<path d="M1598 115 Q1680 150 1719 236" fill="none" stroke="#8ea7dc" stroke-width="5.5"/>
<path d="M1726.6 250L1703.3 233.6L1717.5 233L1726.6 221.4Z" fill="#8ea7dc"/>
<path d="M1697.7 384 Q1635 370 1594 309" fill="none" stroke="#ccb76b" stroke-width="6"/>
<path d="M1583.7 292.1L1609.1 305.4L1595.5 309.5L1588.1 320.9Z" fill="#ccb76b"/>
<path d="M1831.7 238 Q1885 246 1916 282" fill="none" stroke="#ccb76b" stroke-width="6"/>
<path d="M1925.8 294.8L1899.2 283.7L1914 281L1921.4 266Z" fill="#ccb76b"/>
<path d="M1830.6 405 Q1780 375 1762 316" fill="none" stroke="#7a8ea4" stroke-width="6"/>
<path d="M1757.1 301L1778.6 320.9L1763 317L1754.2 329.8Z" fill="#7a8ea4"/>
<text x="1492" y="103.2" font-size="36.5" font-weight="bold" fill="#5b9bd5" class="sf" textLength="210" lengthAdjust="spacingAndGlyphs">Electrolyte</text>
<text x="1799" y="88.1" font-size="27.5" font-weight="bold" fill="#7f7f7f" class="sf" textLength="212" lengthAdjust="spacingAndGlyphs">Modified layer</text>
<text x="1477" y="280" font-size="36.5" font-weight="bold" fill="#c9b46a" class="sf" textLength="155.5" lengthAdjust="spacingAndGlyphs">Product</text>
<text x="1852.5" y="340.4" font-size="36.5" font-weight="bold" fill="#c9b46a" class="sf" textLength="156" lengthAdjust="spacingAndGlyphs">Product</text>
<text x="1827.5" y="448.2" font-size="36" font-weight="bold" fill="#7a8fa5" class="sf" textLength="73" lengthAdjust="spacingAndGlyphs">CO<tspan dy="7.5" font-size="20">2</tspan></text>
<text x="1947.5" y="510.2" font-size="42" font-weight="bold" fill="#b97a8a" class="sf" textLength="61" lengthAdjust="spacingAndGlyphs">Cu</text>
<text x="1384.5" y="49.3" font-size="57" font-weight="bold" stroke="#000" stroke-width="1.6" textLength="30" lengthAdjust="spacingAndGlyphs">c</text>
<rect x="204.3" y="22.3" width="51" height="502.9" fill="#e8d9da"/>
<rect x="283.1" y="22.3" width="51.2" height="502.9" fill="#d9dee2"/>
<rect x="547" y="22.3" width="51.4" height="502.9" fill="#d9ddd9"/>
<polyline points="79.3,253.5 79.6,254.0 79.8,253.2 80.1,252.3 80.3,253.0 80.6,252.2 80.8,253.8 81.1,255.8 81.3,253.1 81.6,252.9 81.8,254.7 82.1,254.5 82.3,254.2 82.6,252.7 82.8,254.1 83.1,255.2 83.4,252.2 83.6,253.5 83.9,251.4 84.1,252.4 84.4,251.6 84.6,254.0 84.9,252.5 85.1,254.9 85.4,254.8 85.6,254.3 85.9,250.8 86.1,253.8 86.4,254.6 86.7,254.9 86.9,252.5 87.2,254.1 87.4,253.4 87.7,253.7 87.9,256.5 88.2,253.8 88.4,255.0 88.7,256.4 88.9,254.2 89.2,255.0 89.4,255.3 89.7,255.3 89.9,253.4 90.2,255.4 90.5,257.4 90.7,253.1 91.0,256.7 91.2,255.6 91.5,254.5 91.7,258.5 92.0,256.7 92.2,253.8 92.5,255.8 92.7,256.6 93.0,255.4 93.2,256.8 93.5,255.7 93.8,256.8 94.0,258.0 94.3,254.9 94.5,256.3 94.8,255.3 95.0,256.2 95.3,254.3 95.5,255.2 95.8,255.8 96.0,257.5 96.3,257.9 96.5,254.3 96.8,255.1 97.0,257.3 97.3,253.4 97.6,255.7 97.8,256.3 98.1,258.3 98.3,257.5 98.6,256.0 98.8,256.0 99.1,256.2 99.3,258.9 99.6,256.0 99.8,256.2 100.1,257.3 100.3,256.6 100.6,256.5 100.8,255.2 101.1,256.8 101.4,256.2 101.6,258.7 101.9,257.9 102.1,257.0 102.4,258.0 102.6,256.5 102.9,258.7 103.1,257.1 103.4,258.0 103.6,255.2 103.9,257.7 104.1,254.7 104.4,254.2 104.7,256.9 104.9,256.0 105.2,257.6 105.4,260.8 105.7,256.2 105.9,256.5 106.2,257.8 106.4,258.3 106.7,257.3 106.9,257.3 107.2,258.7 107.4,258.4 107.7,256.1 107.9,257.6 108.2,257.8 108.5,256.2 108.7,258.2 109.0,256.5 109.2,259.3 109.5,258.2 109.7,258.0 110.0,257.1 110.2,257.8 110.5,255.0 110.7,256.3 111.0,258.6 111.2,254.9 111.5,259.4 111.8,255.5 112.0,259.3 112.3,256.9 112.5,259.4 112.8,258.4 113.0,256.0 113.3,260.2 113.5,260.5 113.8,258.2 114.0,257.9 114.3,258.1 114.5,256.9 114.8,260.1 115.0,257.6 115.3,258.4 115.6,257.3 115.8,257.6 116.1,256.6 116.3,260.4 116.6,258.3 116.8,260.0 117.1,258.6 117.3,257.6 117.6,258.2 117.8,257.8 118.1,258.7 118.3,258.1 118.6,258.3 118.8,256.7 119.1,257.6 119.4,261.3 119.6,257.8 119.9,257.2 120.1,259.3 120.4,260.9 120.6,256.7 120.9,258.5 121.1,257.9 121.4,256.2 121.6,260.0 121.9,258.9 122.1,259.0 122.4,257.8 122.7,259.6 122.9,258.1 123.2,258.7 123.4,257.3 123.7,257.1 123.9,261.0 124.2,258.2 124.4,259.4 124.7,258.9 124.9,258.3 125.2,258.2 125.4,259.9 125.7,258.5 125.9,258.7 126.2,259.0 126.5,260.7 126.7,260.0 127.0,259.5 127.2,258.1 127.5,256.9 127.7,260.4 128.0,260.4 128.2,258.7 128.5,259.7 128.7,260.1 129.0,260.2 129.2,260.3 129.5,258.2 129.8,261.1 130.0,257.0 130.3,260.1 130.5,259.6 130.8,260.1 131.0,261.6 131.3,261.0 131.5,257.1 131.8,256.2 132.0,260.0 132.3,257.2 132.5,258.7 132.8,259.9 133.0,256.2 133.3,255.5 133.6,259.0 133.8,258.7 134.1,258.2 134.3,258.6 134.6,257.3 134.8,256.2 135.1,258.2 135.3,257.0 135.6,256.0 135.8,259.2 136.1,258.3 136.3,259.0 136.6,256.9 136.9,257.3 137.1,256.8 137.4,256.9 137.6,258.5 137.9,257.0 138.1,258.7 138.4,258.7 138.6,261.2 138.9,256.0 139.1,259.4 139.4,257.9 139.6,258.0 139.9,255.8 140.1,257.3 140.4,259.1 140.7,257.8 140.9,258.0 141.2,257.4 141.4,259.6 141.7,257.8 141.9,254.5 142.2,256.8 142.4,254.8 142.7,252.9 142.9,256.9 143.2,259.7 143.4,257.8 143.7,255.9 143.9,256.2 144.2,259.3 144.5,257.8 144.7,257.7 145.0,257.5 145.2,257.6 145.5,258.8 145.7,258.4 146.0,257.8 146.2,256.0 146.5,258.3 146.7,256.5 147.0,259.1 147.2,255.6 147.5,257.3 147.8,257.5 148.0,255.5 148.3,260.0 148.5,259.7 148.8,256.8 149.0,258.6 149.3,258.0 149.5,253.6 149.8,257.9 150.0,257.4 150.3,257.6 150.5,255.9 150.8,257.1 151.0,257.3 151.3,259.3 151.6,258.1 151.8,257.6 152.1,259.9 152.3,256.8 152.6,257.0 152.8,254.9 153.1,260.0 153.3,259.1 153.6,259.1 153.8,258.7 154.1,257.9 154.3,258.1 154.6,257.4 154.9,257.5 155.1,258.0 155.4,260.2 155.6,258.8 155.9,257.9 156.1,257.1 156.4,257.1 156.6,260.5 156.9,258.9 157.1,258.3 157.4,257.7 157.6,256.6 157.9,258.2 158.1,259.6 158.4,257.8 158.7,258.1 158.9,258.1 159.2,258.7 159.4,256.2 159.7,258.2 159.9,257.4 160.2,260.0 160.4,257.6 160.7,259.6 160.9,261.1 161.2,258.4 161.4,258.0 161.7,259.3 161.9,259.0 162.2,257.6 162.5,259.8 162.7,262.2 163.0,258.8 163.2,259.0 163.5,257.8 163.7,259.9 164.0,257.6 164.2,257.8 164.5,261.5 164.7,258.2 165.0,261.3 165.2,262.0 165.5,260.1 165.8,260.6 166.0,262.8 166.3,259.6 166.5,259.1 166.8,258.0 167.0,260.1 167.3,262.3 167.5,261.6 167.8,258.8 168.0,259.0 168.3,259.5 168.5,260.8 168.8,260.1 169.0,260.7 169.3,260.9 169.6,260.1 169.8,260.5 170.1,260.9 170.3,260.5 170.6,261.4 170.8,263.5 171.1,261.7 171.3,260.9 171.6,258.3 171.8,261.5 172.1,258.0 172.3,258.9 172.6,262.3 172.9,262.1 173.1,260.9 173.4,258.6 173.6,260.6 173.9,260.2 174.1,262.2 174.4,264.7 174.6,261.6 174.9,260.2 175.1,259.6 175.4,261.3 175.6,261.2 175.9,259.8 176.1,261.7 176.4,259.8 176.7,263.2 176.9,263.2 177.2,263.3 177.4,260.9 177.7,262.5 177.9,261.5 178.2,261.2 178.4,261.3 178.7,259.8 178.9,259.6 179.2,263.0 179.4,261.6 179.7,262.2 179.9,263.4 180.2,259.3 180.5,260.8 180.7,262.2 181.0,262.5 181.2,261.4 181.5,263.5 181.7,262.3 182.0,260.2 182.2,260.6 182.5,263.3 182.7,262.7 183.0,259.2 183.2,264.1 183.5,263.0 183.8,264.1 184.0,261.5 184.3,261.7 184.5,260.4 184.8,265.9 185.0,261.9 185.3,264.5 185.5,261.1 185.8,262.4 186.0,259.6 186.3,261.5 186.5,263.6 186.8,260.2 187.0,263.7 187.3,262.6 187.6,260.5 187.8,261.3 188.1,261.4 188.3,262.0 188.6,261.3 188.8,260.8 189.1,261.6 189.3,260.5 189.6,260.1 189.8,262.0 190.1,263.3 190.3,259.7 190.6,262.0 190.9,261.0 191.1,260.5 191.4,263.2 191.6,261.1 191.9,264.1 192.1,260.7 192.4,262.4 192.6,261.5 192.9,260.7 193.1,262.7 193.4,261.5 193.6,262.7 193.9,261.7 194.1,260.1 194.4,261.5 194.7,261.7 194.9,263.1 195.2,260.2 195.4,261.5 195.7,259.0 195.9,262.5 196.2,259.9 196.4,258.8 196.7,261.4 196.9,263.1 197.2,259.1 197.4,259.7 197.7,260.2 197.9,259.6 198.2,261.8 198.5,260.0 198.7,260.1 199.0,262.0 199.2,260.0 199.5,261.7 199.7,259.6 200.0,259.2 200.2,258.2 200.5,263.7 200.7,260.4 201.0,261.2 201.2,260.7 201.5,261.0 201.8,260.8 202.0,263.5 202.3,259.0 202.5,258.2 202.8,259.0 203.0,258.4 203.3,261.5 203.5,261.5 203.8,258.8 204.0,258.1 204.3,259.6 204.5,262.2 204.8,255.8 205.0,260.7 205.3,258.3 205.6,261.4 205.8,258.1 206.1,259.2 206.3,257.3 206.6,258.0 206.8,261.5 207.1,260.6 207.3,258.6 207.6,257.8 207.8,256.2 208.1,258.4 208.3,258.8 208.6,258.6 208.9,258.5 209.1,256.9 209.4,258.3 209.6,258.3 209.9,260.1 210.1,260.9 210.4,257.8 210.6,256.7 210.9,257.6 211.1,256.7 211.4,256.3 211.6,257.2 211.9,255.6 212.1,257.9 212.4,256.6 212.7,257.0 212.9,256.2 213.2,255.2 213.4,254.6 213.7,255.5 213.9,254.8 214.2,255.8 214.4,255.2 214.7,253.0 214.9,254.9 215.2,252.5 215.4,253.3 215.7,253.5 215.9,250.6 216.2,253.5 216.5,253.3 216.7,252.5 217.0,251.8 217.2,251.5 217.5,250.2 217.7,250.9 218.0,250.1 218.2,250.6 218.5,248.2 218.7,249.9 219.0,249.3 219.2,248.3 219.5,247.3 219.8,248.2 220.0,244.3 220.3,246.8 220.5,245.8 220.8,245.1 221.0,244.5 221.3,242.1 221.5,241.8 221.8,242.1 222.0,240.8 222.3,239.3 222.5,235.5 222.8,237.3 223.0,236.8 223.3,235.0 223.6,232.2 223.8,227.6 224.1,229.3 224.3,225.4 224.6,219.3 224.8,220.8 225.1,214.8 225.3,211.5 225.6,208.5 225.8,206.8 226.1,199.1 226.3,194.2 226.6,189.7 226.9,182.0 227.1,171.0 227.4,161.5 227.6,150.0 227.9,140.3 228.1,131.5 228.4,121.8 228.6,113.3 228.9,109.1 229.1,104.3 229.4,106.9 229.6,113.0 229.9,120.4 230.1,130.6 230.4,140.0 230.7,149.5 230.9,160.7 231.2,168.0 231.4,175.7 231.7,186.7 231.9,192.6 232.2,199.1 232.4,201.4 232.7,208.1 232.9,211.9 233.2,215.2 233.4,216.3 233.7,222.1 233.9,226.5 234.2,228.1 234.5,228.7 234.7,231.5 235.0,234.4 235.2,230.7 235.5,236.1 235.7,238.4 236.0,239.9 236.2,242.5 236.5,242.7 236.7,242.5 237.0,243.4 237.2,245.0 237.5,243.8 237.8,245.3 238.0,247.4 238.3,249.6 238.5,247.1 238.8,247.8 239.0,248.8 239.3,251.0 239.5,249.5 239.8,252.2 240.0,249.0 240.3,250.6 240.5,251.0 240.8,252.9 241.0,253.6 241.3,250.1 241.6,251.4 241.8,253.6 242.1,252.4 242.3,251.4 242.6,255.5 242.8,255.0 243.1,255.3 243.3,254.1 243.6,256.6 243.8,254.9 244.1,257.1 244.3,254.3 244.6,254.6 244.9,256.4 245.1,255.3 245.4,257.5 245.6,257.1 245.9,255.5 246.1,257.1 246.4,256.7 246.6,258.7 246.9,256.6 247.1,257.0 247.4,259.6 247.6,261.3 247.9,261.1 248.1,258.3 248.4,258.6 248.7,260.7 248.9,258.4 249.2,257.2 249.4,259.0 249.7,259.6 249.9,257.7 250.2,256.6 250.4,257.0 250.7,260.3 250.9,258.2 251.2,259.3 251.4,259.9 251.7,260.6 252.0,259.2 252.2,260.5 252.5,258.5 252.7,259.4 253.0,258.5 253.2,261.8 253.5,260.1 253.7,259.1 254.0,259.8 254.2,260.0 254.5,261.5 254.7,258.1 255.0,259.0 255.2,260.0 255.5,264.5 255.8,262.2 256.0,260.6 256.3,261.9 256.5,264.0 256.8,260.6 257.0,260.4 257.3,262.8 257.5,261.8 257.8,262.1 258.0,260.4 258.3,264.1 258.5,263.8 258.8,262.1 259.0,262.4 259.3,258.3 259.6,262.4 259.8,261.2 260.1,262.1 260.3,262.6 260.6,261.1 260.8,259.1 261.1,262.2 261.3,260.6 261.6,261.2 261.8,260.8 262.1,261.3 262.3,258.4 262.6,263.7 262.9,262.3 263.1,263.6 263.4,264.9 263.6,262.0 263.9,259.3 264.1,260.7 264.4,260.3 264.6,261.4 264.9,262.3 265.1,259.2 265.4,262.7 265.6,260.0 265.9,262.7 266.1,262.1 266.4,261.8 266.7,262.2 266.9,261.5 267.2,261.5 267.4,259.9 267.7,262.4 267.9,265.2 268.2,265.5 268.4,264.5 268.7,263.6 268.9,261.5 269.2,264.7 269.4,262.5 269.7,262.5 270.0,262.2 270.2,262.8 270.5,262.0 270.7,262.6 271.0,261.1 271.2,262.2 271.5,266.2 271.7,262.7 272.0,262.4 272.2,263.6 272.5,263.9 272.7,261.2 273.0,262.6 273.2,264.3 273.5,263.3 273.8,263.1 274.0,265.3 274.3,261.9 274.5,263.1 274.8,262.2 275.0,265.2 275.3,260.1 275.5,262.0 275.8,262.2 276.0,264.0 276.3,263.9 276.5,265.1 276.8,260.7 277.0,264.2 277.3,262.6 277.6,262.1 277.8,263.9 278.1,261.7 278.3,260.0 278.6,262.5 278.8,260.9 279.1,262.1 279.3,263.7 279.6,263.6 279.8,265.5 280.1,262.8 280.3,260.8 280.6,262.0 280.9,261.7 281.1,261.3 281.4,263.8 281.6,262.1 281.9,260.1 282.1,264.1 282.4,262.9 282.6,263.6 282.9,263.2 283.1,264.0 283.4,263.1 283.6,264.9 283.9,263.7 284.1,263.6 284.4,263.6 284.7,260.8 284.9,262.8 285.2,262.6 285.4,263.3 285.7,260.9 285.9,265.4 286.2,263.1 286.4,261.1 286.7,260.3 286.9,262.4 287.2,262.7 287.4,261.7 287.7,262.9 288.0,261.8 288.2,263.6 288.5,261.6 288.7,262.6 289.0,264.1 289.2,266.5 289.5,261.1 289.7,261.8 290.0,261.2 290.2,263.6 290.5,260.7 290.7,261.6 291.0,262.3 291.2,260.8 291.5,260.8 291.8,261.5 292.0,259.0 292.3,259.9 292.5,261.4 292.8,262.2 293.0,261.6 293.3,259.1 293.5,261.0 293.8,262.9 294.0,262.4 294.3,261.4 294.5,260.1 294.8,262.3 295.0,260.4 295.3,259.4 295.6,259.8 295.8,263.1 296.1,261.2 296.3,262.5 296.6,259.9 296.8,261.9 297.1,259.4 297.3,260.0 297.6,263.8 297.8,261.1 298.1,259.0 298.3,259.5 298.6,259.9 298.9,261.1 299.1,258.4 299.4,256.3 299.6,258.3 299.9,258.5 300.1,258.5 300.4,260.1 300.6,258.3 300.9,258.8 301.1,255.7 301.4,258.4 301.6,260.0 301.9,257.8 302.1,256.7 302.4,256.3 302.7,258.4 302.9,254.1 303.2,255.0 303.4,255.5 303.7,255.6 303.9,253.5 304.2,254.3 304.4,253.1 304.7,253.4 304.9,252.7 305.2,250.8 305.4,252.2 305.7,253.2 306.0,250.2 306.2,251.0 306.5,252.1 306.7,249.2 307.0,250.8 307.2,248.8 307.5,251.9 307.7,253.5 308.0,252.9 308.2,249.4 308.5,250.8 308.7,249.8 309.0,249.8 309.2,252.0 309.5,247.7 309.8,251.4 310.0,249.9 310.3,252.2 310.5,250.6 310.8,249.5 311.0,251.1 311.3,252.1 311.5,251.3 311.8,252.3 312.0,251.1 312.3,249.0 312.5,253.9 312.8,253.9 313.0,253.4 313.3,253.6 313.6,255.4 313.8,253.5 314.1,253.5 314.3,254.6 314.6,257.0 314.8,253.5 315.1,257.7 315.3,255.3 315.6,254.9 315.8,258.7 316.1,257.0 316.3,255.5 316.6,257.2 316.9,259.4 317.1,260.0 317.4,257.9 317.6,259.4 317.9,260.1 318.1,258.2 318.4,260.0 318.6,259.6 318.9,259.1 319.1,259.3 319.4,260.4 319.6,260.5 319.9,259.8 320.1,260.1 320.4,262.6 320.7,261.4 320.9,262.6 321.2,263.2 321.4,262.4 321.7,265.1 321.9,260.6 322.2,263.2 322.4,261.6 322.7,265.0 322.9,264.9 323.2,259.5 323.4,261.1 323.7,263.6 324.0,263.9 324.2,264.0 324.5,262.8 324.7,263.7 325.0,264.1 325.2,263.1 325.5,264.8 325.7,260.0 326.0,264.4 326.2,262.0 326.5,265.0 326.7,263.3 327.0,262.4 327.2,264.4 327.5,262.5 327.8,262.6 328.0,261.7 328.3,264.0 328.5,264.9 328.8,265.7 329.0,264.0 329.3,265.9 329.5,264.4 329.8,264.3 330.0,265.3 330.3,266.1 330.5,264.0 330.8,264.2 331.0,264.4 331.3,264.8 331.6,263.4 331.8,266.3 332.1,264.2 332.3,265.5 332.6,263.6 332.8,265.4 333.1,265.5 333.3,264.3 333.6,268.0 333.8,265.6 334.1,267.7 334.3,266.5 334.6,264.1 334.9,264.6 335.1,265.9 335.4,265.3 335.6,265.3 335.9,264.8 336.1,262.6 336.4,265.0 336.6,262.0 336.9,265.9 337.1,264.3 337.4,264.3 337.6,265.1 337.9,265.9 338.1,263.3 338.4,262.9 338.7,263.9 338.9,262.4 339.2,264.1 339.4,267.9 339.7,264.0 339.9,266.5 340.2,263.5 340.4,266.0 340.7,265.1 340.9,265.5 341.2,266.4 341.4,268.2 341.7,265.9 342.0,265.7 342.2,264.1 342.5,266.4 342.7,265.2 343.0,266.8 343.2,265.4 343.5,268.1 343.7,262.5 344.0,265.0 344.2,266.7 344.5,264.8 344.7,264.1 345.0,264.9 345.2,263.2 345.5,265.4 345.8,268.8 346.0,266.8 346.3,263.3 346.5,263.6 346.8,264.2 347.0,266.2 347.3,263.4 347.5,263.4 347.8,265.6 348.0,265.5 348.3,263.4 348.5,262.1 348.8,261.3 349.0,262.3 349.3,259.7 349.6,263.9 349.8,261.5 350.1,262.8 350.3,264.4 350.6,262.9 350.8,258.9 351.1,261.4 351.3,261.2 351.6,257.7 351.8,256.6 352.1,257.1 352.3,254.0 352.6,257.8 352.9,251.2 353.1,252.4 353.4,253.0 353.6,252.5 353.9,252.8 354.1,252.8 354.4,252.2 354.6,254.5 354.9,250.1 355.1,254.0 355.4,253.7 355.6,255.8 355.9,256.8 356.1,256.0 356.4,257.2 356.7,260.2 356.9,260.2 357.2,259.4 357.4,264.1 357.7,265.0 357.9,259.9 358.2,263.0 358.4,266.7 358.7,264.5 358.9,264.0 359.2,263.7 359.4,263.5 359.7,264.2 360.0,263.9 360.2,266.1 360.5,264.6 360.7,264.7 361.0,263.7 361.2,265.6 361.5,264.5 361.7,265.7 362.0,267.6 362.2,266.7 362.5,267.0 362.7,266.9 363.0,266.6 363.2,266.4 363.5,266.2 363.8,267.8 364.0,265.2 364.3,268.9 364.5,267.0 364.8,265.8 365.0,266.3 365.3,266.1 365.5,267.4 365.8,266.1 366.0,268.9 366.3,266.1 366.5,263.9 366.8,266.3 367.1,264.4 367.3,267.4 367.6,269.1 367.8,268.5 368.1,265.5 368.3,266.4 368.6,270.3 368.8,268.1 369.1,267.7 369.3,269.3 369.6,271.4 369.8,269.7 370.1,268.0 370.3,268.3 370.6,268.7 370.9,266.9 371.1,266.3 371.4,268.0 371.6,266.5 371.9,267.8 372.1,268.1 372.4,271.5 372.6,266.7 372.9,267.8 373.1,267.8 373.4,268.7 373.6,269.6 373.9,267.3 374.1,266.9 374.4,265.6 374.7,266.7 374.9,268.9 375.2,268.2 375.4,266.6 375.7,267.6 375.9,268.2 376.2,269.0 376.4,267.3 376.7,267.9 376.9,265.5 377.2,266.5 377.4,270.7 377.7,265.0 378.0,267.8 378.2,268.6 378.5,267.8 378.7,267.1 379.0,268.3 379.2,268.4 379.5,268.3 379.7,265.6 380.0,268.2 380.2,267.1 380.5,267.6 380.7,268.8 381.0,269.4 381.2,269.8 381.5,267.7 381.8,269.9 382.0,270.3 382.3,270.2 382.5,270.6 382.8,268.3 383.0,268.3 383.3,269.8 383.5,266.5 383.8,268.9 384.0,267.8 384.3,268.0 384.5,266.0 384.8,267.3 385.1,268.6 385.3,270.0 385.6,270.1 385.8,268.5 386.1,268.4 386.3,267.4 386.6,269.3 386.8,268.3 387.1,269.6 387.3,271.3 387.6,268.7 387.8,266.5 388.1,267.4 388.3,266.5 388.6,266.9 388.9,270.7 389.1,269.1 389.4,266.5 389.6,269.7 389.9,270.7 390.1,268.2 390.4,267.8 390.6,268.3 390.9,269.2 391.1,269.8 391.4,270.6 391.6,270.6 391.9,270.6 392.1,270.9 392.4,269.8 392.7,266.6 392.9,268.7 393.2,269.3 393.4,268.3 393.7,270.3 393.9,268.4 394.2,267.5 394.4,271.1 394.7,269.9 394.9,269.3 395.2,270.3 395.4,270.5 395.7,269.5 396.0,265.3 396.2,267.9 396.5,268.3 396.7,267.5 397.0,269.3 397.2,270.8 397.5,268.3 397.7,267.3 398.0,272.1 398.2,268.3 398.5,267.2 398.7,269.4 399.0,269.7 399.2,268.0 399.5,270.2 399.8,268.3 400.0,267.7 400.3,269.3 400.5,270.2 400.8,268.1 401.0,269.6 401.3,269.0 401.5,273.3 401.8,268.0 402.0,271.2 402.3,269.0 402.5,268.9 402.8,270.2 403.1,270.5 403.3,271.0 403.6,269.6 403.8,268.3 404.1,268.4 404.3,269.9 404.6,270.0 404.8,271.3 405.1,269.8 405.3,270.8 405.6,271.5 405.8,269.5 406.1,267.0 406.3,267.4 406.6,267.1 406.9,271.6 407.1,268.0 407.4,271.1 407.6,270.1 407.9,271.8 408.1,270.8 408.4,269.1 408.6,269.0 408.9,269.4 409.1,269.5 409.4,268.5 409.6,269.2 409.9,271.7 410.1,266.8 410.4,269.7 410.7,268.0 410.9,269.6 411.2,270.6 411.4,269.3 411.7,270.5 411.9,267.0 412.2,271.0 412.4,268.5 412.7,270.3 412.9,269.6 413.2,265.5 413.4,268.3 413.7,269.7 414.0,271.7 414.2,269.8 414.5,269.8 414.7,267.3 415.0,271.6 415.2,272.1 415.5,269.5 415.7,269.1 416.0,267.0 416.2,270.8 416.5,273.5 416.7,270.5 417.0,271.4 417.2,270.3 417.5,268.0 417.8,271.5 418.0,267.6 418.3,269.2 418.5,269.9 418.8,270.8 419.0,270.1 419.3,270.1 419.5,268.4 419.8,267.6 420.0,269.6 420.3,268.5 420.5,267.6 420.8,267.7 421.1,268.8 421.3,266.8 421.6,267.6 421.8,267.1 422.1,269.9 422.3,270.2 422.6,272.6 422.8,267.4 423.1,268.6 423.3,271.0 423.6,269.3 423.8,269.1 424.1,272.2 424.3,269.1 424.6,267.9 424.9,267.7 425.1,270.2 425.4,270.1 425.6,267.6 425.9,268.2 426.1,270.5 426.4,270.6 426.6,268.7 426.9,270.6 427.1,270.6 427.4,267.0 427.6,269.2 427.9,270.3 428.1,268.9 428.4,266.5 428.7,269.3 428.9,270.9 429.2,272.1 429.4,266.5 429.7,273.7 429.9,268.1 430.2,271.2 430.4,271.6 430.7,271.3 430.9,270.0 431.2,268.0 431.4,270.7 431.7,268.7 432.0,266.0 432.2,274.1 432.5,270.9 432.7,272.6 433.0,268.5 433.2,272.0 433.5,272.2 433.7,272.2 434.0,269.8 434.2,268.1 434.5,269.6 434.7,266.6 435.0,267.3 435.2,270.0 435.5,268.4 435.8,269.6 436.0,269.7 436.3,272.8 436.5,271.9 436.8,269.8 437.0,271.7 437.3,268.8 437.5,269.4 437.8,271.3 438.0,268.1 438.3,269.5 438.5,268.0 438.8,270.1 439.1,272.4 439.3,268.8 439.6,270.3 439.8,268.6 440.1,268.3 440.3,268.1 440.6,272.2 440.8,273.5 441.1,270.7 441.3,268.9 441.6,271.1 441.8,269.5 442.1,271.2 442.3,270.5 442.6,270.5 442.9,270.9 443.1,269.2 443.4,269.4 443.6,267.5 443.9,269.4 444.1,267.9 444.4,269.9 444.6,268.6 444.9,270.2 445.1,270.8 445.4,268.0 445.6,268.9 445.9,268.7 446.1,271.2 446.4,272.7 446.7,271.4 446.9,269.6 447.2,272.3 447.4,267.9 447.7,272.4 447.9,269.2 448.2,266.0 448.4,274.1 448.7,272.5 448.9,268.6 449.2,270.4 449.4,269.8 449.7,270.3 450.0,267.9 450.2,269.2 450.5,270.9 450.7,270.5 451.0,272.0 451.2,270.3 451.5,273.7 451.7,269.1 452.0,270.6 452.2,267.3 452.5,268.3 452.7,272.2 453.0,268.8 453.2,271.0 453.5,270.1 453.8,268.7 454.0,269.7 454.3,269.5 454.5,269.5 454.8,271.4 455.0,271.2 455.3,269.4 455.5,268.9 455.8,270.7 456.0,270.1 456.3,271.8 456.5,274.3 456.8,271.6 457.1,270.2 457.3,270.0 457.6,269.0 457.8,269.0 458.1,268.8 458.3,269.7 458.6,269.7 458.8,271.4 459.1,269.7 459.3,270.0 459.6,268.5 459.8,272.8 460.1,271.1 460.3,273.0 460.6,271.6 460.9,272.6 461.1,270.0 461.4,271.4 461.6,274.4 461.9,268.5 462.1,272.1 462.4,272.9 462.6,271.0 462.9,271.5 463.1,272.3 463.4,269.4 463.6,271.0 463.9,269.1 464.1,269.4 464.4,269.5 464.7,270.2 464.9,270.6 465.2,271.1 465.4,268.3 465.7,273.5 465.9,272.2 466.2,271.6 466.4,269.9 466.7,270.3 466.9,271.3 467.2,271.1 467.4,267.9 467.7,271.6 468.0,274.9 468.2,267.6 468.5,272.0 468.7,271.0 469.0,270.3 469.2,272.6 469.5,268.7 469.7,270.7 470.0,272.7 470.2,270.2 470.5,269.8 470.7,270.7 471.0,269.8 471.2,272.9 471.5,269.1 471.8,271.9 472.0,268.6 472.3,271.5 472.5,270.4 472.8,266.5 473.0,270.5 473.3,268.9 473.5,269.8 473.8,272.9 474.0,268.8 474.3,268.9 474.5,272.8 474.8,270.7 475.1,272.9 475.3,271.0 475.6,269.2 475.8,270.5 476.1,272.5 476.3,272.0 476.6,270.6 476.8,270.6 477.1,270.4 477.3,269.7 477.6,273.6 477.8,270.6 478.1,268.8 478.3,269.8 478.6,271.7 478.9,271.6 479.1,270.4 479.4,269.6 479.6,270.6 479.9,268.0 480.1,268.6 480.4,271.8 480.6,269.9 480.9,271.2 481.1,272.5 481.4,271.6 481.6,270.6 481.9,273.9 482.2,271.6 482.4,270.1 482.7,271.8 482.9,271.3 483.2,269.3 483.4,270.7 483.7,270.4 483.9,267.6 484.2,270.4 484.4,270.2 484.7,270.0 484.9,268.1 485.2,270.1 485.4,270.6 485.7,270.8 486.0,268.9 486.2,271.6 486.5,268.8 486.7,270.3 487.0,272.7 487.2,269.6 487.5,269.9 487.7,272.3 488.0,270.1 488.2,270.2 488.5,271.0 488.7,272.3 489.0,267.3 489.2,269.4 489.5,269.1 489.8,269.0 490.0,269.4 490.3,269.4 490.5,271.2 490.8,269.3 491.0,270.9 491.3,271.3 491.5,269.6 491.8,270.9 492.0,273.2 492.3,271.2 492.5,269.7 492.8,270.6 493.1,269.3 493.3,271.1 493.6,272.0 493.8,269.5 494.1,270.4 494.3,272.4 494.6,270.0 494.8,271.0 495.1,269.2 495.3,269.5 495.6,269.9 495.8,274.0 496.1,270.1 496.3,269.9 496.6,269.9 496.9,270.5 497.1,271.7 497.4,271.0 497.6,273.8 497.9,271.1 498.1,272.9 498.4,271.2 498.6,271.7 498.9,268.6 499.1,270.6 499.4,270.7 499.6,270.4 499.9,267.5 500.2,272.1 500.4,270.2 500.7,270.1 500.9,270.4 501.2,270.4 501.4,271.4 501.7,268.9 501.9,269.4 502.2,271.2 502.4,271.0 502.7,270.2 502.9,269.9 503.2,269.5 503.4,270.7 503.7,272.6 504.0,269.2 504.2,273.1 504.5,272.1 504.7,270.1 505.0,272.0 505.2,268.6 505.5,268.2 505.7,268.9 506.0,270.2 506.2,270.3 506.5,270.0 506.7,271.0 507.0,267.6 507.2,271.6 507.5,268.7 507.8,269.8 508.0,270.2 508.3,269.1 508.5,268.8 508.8,269.3 509.0,270.8 509.3,271.7 509.5,271.7 509.8,269.3 510.0,269.6 510.3,269.5 510.5,271.5 510.8,267.8 511.1,272.7 511.3,270.1 511.6,269.7 511.8,271.4 512.1,272.4 512.3,271.4 512.6,272.4 512.8,271.0 513.1,272.7 513.3,272.7 513.6,270.7 513.8,273.0 514.1,271.1 514.3,271.0 514.6,269.5 514.9,270.4 515.1,272.0 515.4,268.9 515.6,271.8 515.9,271.4 516.1,271.3 516.4,267.6 516.6,270.7 516.9,271.8 517.1,269.7 517.4,271.0 517.6,267.3 517.9,271.9 518.2,269.9 518.4,272.2 518.7,268.1 518.9,271.9 519.2,270.5 519.4,272.1 519.7,269.5 519.9,270.0 520.2,274.2 520.4,269.6 520.7,269.8 520.9,270.5 521.2,269.4 521.4,272.7 521.7,273.5 522.0,269.8 522.2,268.3 522.5,272.7 522.7,272.6 523.0,272.1 523.2,272.6 523.5,269.6 523.7,270.6 524.0,268.8 524.2,268.8 524.5,272.4 524.7,269.9 525.0,274.3 525.2,271.0 525.5,269.9 525.8,272.1 526.0,273.6 526.3,271.6 526.5,269.1 526.8,271.5 527.0,273.0 527.3,270.2 527.5,269.8 527.8,272.4 528.0,271.1 528.3,269.3 528.5,270.3 528.8,269.8 529.1,271.4 529.3,271.1 529.6,272.6 529.8,272.0 530.1,268.6 530.3,271.5 530.6,272.3 530.8,271.6 531.1,272.5 531.3,270.1 531.6,269.5 531.8,272.3 532.1,269.3 532.3,267.7 532.6,272.5 532.9,269.8 533.1,270.5 533.4,268.8 533.6,268.9 533.9,269.2 534.1,270.4 534.4,271.5 534.6,267.5 534.9,272.1 535.1,269.1 535.4,269.3 535.6,271.9 535.9,270.8 536.2,268.6 536.4,273.7 536.7,269.6 536.9,271.3 537.2,271.2 537.4,273.0 537.7,270.2 537.9,272.4 538.2,269.8 538.4,272.6 538.7,269.8 538.9,270.4 539.2,273.8 539.4,271.4 539.7,271.1 540.0,274.3 540.2,271.4 540.5,269.7 540.7,272.0 541.0,269.1 541.2,272.6 541.5,272.7 541.7,270.0 542.0,269.9 542.2,271.1 542.5,270.9 542.7,269.4 543.0,271.7 543.2,267.8 543.5,270.2 543.8,270.3 544.0,270.5 544.3,271.3 544.5,269.0 544.8,271.7 545.0,270.6 545.3,269.9 545.5,268.8 545.8,269.1 546.0,271.4 546.3,269.4 546.5,270.9 546.8,272.4 547.1,272.4 547.3,273.1 547.6,270.4 547.8,269.2 548.1,272.3 548.3,271.2 548.6,272.5 548.8,270.8 549.1,272.6 549.3,272.0 549.6,271.8 549.8,271.5 550.1,271.3 550.3,271.1 550.6,271.0 550.9,272.2 551.1,269.9 551.4,273.3 551.6,270.5 551.9,272.1 552.1,270.5 552.4,270.3 552.6,273.7 552.9,270.1 553.1,268.7 553.4,269.5 553.6,270.1 553.9,273.8 554.2,270.8 554.4,271.9 554.7,269.0 554.9,271.0 555.2,271.5 555.4,273.1 555.7,269.4 555.9,271.3 556.2,270.8 556.4,268.8 556.7,270.3 556.9,269.9 557.2,266.8 557.4,271.2 557.7,271.0 558.0,269.6 558.2,268.2 558.5,272.4 558.7,270.5 559.0,271.6 559.2,272.2 559.5,269.2 559.7,271.2 560.0,269.6 560.2,269.8 560.5,269.7 560.7,269.8 561.0,271.4 561.2,269.9 561.5,269.4 561.8,269.2 562.0,270.0 562.3,268.1 562.5,268.7 562.8,269.3 563.0,268.4 563.3,269.0 563.5,268.2 563.8,272.1 564.0,271.0 564.3,269.6 564.5,268.7 564.8,272.0 565.1,269.1 565.3,268.4 565.6,268.8 565.8,268.7 566.1,270.3 566.3,268.0 566.6,271.0 566.8,266.4 567.1,268.7 567.3,266.0 567.6,270.1 567.8,266.7 568.1,266.9 568.3,268.2 568.6,268.6 568.9,264.9 569.1,265.8 569.4,264.1 569.6,266.2 569.9,265.7 570.1,265.2 570.4,264.5 570.6,264.8 570.9,264.1 571.1,265.9 571.4,267.2 571.6,261.9 571.9,264.5 572.2,264.0 572.4,265.3 572.7,263.1 572.9,264.3 573.2,262.9 573.4,265.5 573.7,264.6 573.9,264.3 574.2,265.2 574.4,264.3 574.7,262.4 574.9,265.8 575.2,265.4 575.4,264.9 575.7,266.8 576.0,267.3 576.2,264.0 576.5,264.6 576.7,268.3 577.0,268.3 577.2,265.2 577.5,264.7 577.7,265.7 578.0,266.1 578.2,264.6 578.5,267.2 578.7,265.4 579.0,265.7 579.2,269.0 579.5,266.7 579.8,267.8 580.0,269.0 580.3,269.4 580.5,267.8 580.8,268.5 581.0,267.3 581.3,271.3 581.5,269.7 581.8,267.2 582.0,268.9 582.3,270.1 582.5,269.8 582.8,272.0 583.1,271.3 583.3,268.6 583.6,269.3 583.8,267.6 584.1,270.0 584.3,269.9 584.6,273.8 584.8,269.9 585.1,266.7 585.3,268.9 585.6,270.1 585.8,268.1 586.1,268.7 586.3,269.5 586.6,270.6 586.9,269.9 587.1,268.9 587.4,271.4 587.6,269.5 587.9,269.6 588.1,268.3 588.4,269.2 588.6,271.4 588.9,268.0 589.1,270.4 589.4,271.6 589.6,270.0 589.9,270.9 590.2,268.9 590.4,272.6 590.7,272.3 590.9,271.0 591.2,268.0 591.4,269.1 591.7,272.2 591.9,273.3 592.2,271.2 592.4,272.6 592.7,269.9 592.9,270.5 593.2,270.8 593.4,271.4 593.7,268.5 594.0,272.2 594.2,272.8 594.5,269.1 594.7,268.8 595.0,271.4 595.2,269.9 595.5,267.3 595.7,272.1 596.0,271.1 596.2,270.2 596.5,274.1 596.7,271.1 597.0,269.8 597.3,271.1 597.5,269.4 597.8,269.8 598.0,271.5 598.3,270.1 598.5,270.2 598.8,273.4 599.0,272.2 599.3,272.1 599.5,271.7 599.8,271.6 600.0,273.1 600.3,270.8 600.5,273.6 600.8,269.4 601.1,270.4 601.3,268.7 601.6,270.3 601.8,271.5 602.1,272.9 602.3,269.7 602.6,270.7 602.8,270.1 603.1,269.5 603.3,268.8 603.6,270.6 603.8,267.9 604.1,270.6 604.3,270.4 604.6,269.3 604.9,268.7 605.1,268.1 605.4,272.9 605.6,268.0 605.9,272.2 606.1,270.7 606.4,269.1 606.6,267.8 606.9,271.0 607.1,271.9 607.4,267.8 607.6,268.6 607.9,270.4 608.2,269.2 608.4,271.6 608.7,267.6 608.9,269.2 609.2,266.4 609.4,271.3 609.7,267.0 609.9,264.8 610.2,267.9 610.4,267.9 610.7,271.1 610.9,267.8 611.2,268.4 611.4,269.4 611.7,271.1 612.0,268.7 612.2,270.5 612.5,269.9 612.7,268.8 613.0,269.5 613.2,269.6 613.5,268.3 613.7,271.7 614.0,267.9 614.2,271.8 614.5,271.6 614.7,270.1 615.0,269.2 615.3,270.1 615.5,271.2 615.8,271.7 616.0,271.1 616.3,272.2 616.5,270.0 616.8,271.2 617.0,268.6 617.3,272.1 617.5,271.2 617.8,270.4 618.0,272.8 618.3,272.2 618.5,266.9 618.8,271.2 619.1,269.0 619.3,272.8 619.6,275.0 619.8,270.5 620.1,271.4 620.3,271.0 620.6,271.9 620.8,272.4 621.1,273.3 621.3,269.9 621.6,273.8 621.8,270.1 622.1,271.9 622.3,273.2 622.6,272.6 622.9,270.1 623.1,270.5 623.4,270.9 623.6,271.5 623.9,273.3 624.1,269.7 624.4,272.3 624.6,272.5 624.9,272.5 625.1,272.3 625.4,273.9 625.6,272.4 625.9,273.0 626.2,272.5 626.4,274.4 626.7,268.8 626.9,273.6 627.2,271.3 627.4,271.3 627.7,270.3 627.9,268.9 628.2,271.2 628.4,270.7 628.7,272.5 628.9,269.6 629.2,273.9 629.4,272.2 629.7,271.4 630.0,270.7 630.2,270.6 630.5,270.1 630.7,271.0 631.0,271.8 631.2,271.6 631.5,269.7 631.7,271.4 632.0,270.5 632.2,272.1 632.5,274.6 632.7,272.8 633.0,271.4 633.3,269.4 633.5,269.7 633.8,269.3 634.0,273.0 634.3,270.7 634.5,272.0 634.8,271.0 635.0,272.0 635.3,274.0 635.5,270.9 635.8,271.4 636.0,270.7 636.3,273.2 636.5,270.4 636.8,270.2" fill="none" stroke="#3b6089" stroke-width="2.9" stroke-linejoin="round"/>
<polyline points="79.3,433.4 79.6,433.4 79.8,436.3 80.1,439.5 80.3,434.2 80.6,437.1 80.8,436.1 81.1,434.1 81.3,435.4 81.6,435.5 81.8,434.9 82.1,438.9 82.3,433.2 82.6,436.6 82.8,436.6 83.1,435.3 83.4,436.4 83.6,437.5 83.9,436.5 84.1,436.9 84.4,437.4 84.6,433.4 84.9,438.7 85.1,439.9 85.4,438.0 85.6,438.1 85.9,434.5 86.1,436.5 86.4,435.5 86.7,435.9 86.9,438.2 87.2,435.6 87.4,436.7 87.7,434.0 87.9,436.7 88.2,437.1 88.4,436.0 88.7,436.0 88.9,439.9 89.2,435.3 89.4,435.6 89.7,436.0 89.9,439.1 90.2,440.5 90.5,437.8 90.7,436.3 91.0,436.8 91.2,439.1 91.5,436.1 91.7,439.7 92.0,439.7 92.2,437.7 92.5,438.6 92.7,438.8 93.0,440.1 93.2,436.2 93.5,439.6 93.8,437.3 94.0,436.7 94.3,438.1 94.5,437.6 94.8,436.5 95.0,435.6 95.3,436.7 95.5,440.3 95.8,441.1 96.0,439.2 96.3,440.0 96.5,437.5 96.8,438.2 97.0,438.7 97.3,436.7 97.6,436.9 97.8,438.6 98.1,438.0 98.3,436.9 98.6,439.1 98.8,438.2 99.1,440.1 99.3,438.6 99.6,438.2 99.8,438.9 100.1,438.5 100.3,437.8 100.6,438.2 100.8,440.0 101.1,439.8 101.4,440.8 101.6,436.4 101.9,438.4 102.1,438.4 102.4,439.3 102.6,438.4 102.9,438.3 103.1,440.3 103.4,439.4 103.6,437.4 103.9,441.2 104.1,440.7 104.4,438.4 104.7,440.6 104.9,438.2 105.2,441.1 105.4,439.1 105.7,438.2 105.9,438.9 106.2,438.4 106.4,439.8 106.7,439.8 106.9,439.6 107.2,438.8 107.4,434.2 107.7,439.8 107.9,436.9 108.2,440.1 108.5,441.5 108.7,440.2 109.0,439.2 109.2,439.6 109.5,439.7 109.7,439.1 110.0,439.1 110.2,438.6 110.5,441.8 110.7,440.0 111.0,441.5 111.2,439.7 111.5,440.2 111.8,439.9 112.0,440.9 112.3,441.4 112.5,440.6 112.8,439.2 113.0,439.1 113.3,442.8 113.5,439.9 113.8,439.9 114.0,442.6 114.3,442.0 114.5,441.2 114.8,439.8 115.0,444.0 115.3,441.1 115.6,441.3 115.8,440.3 116.1,438.4 116.3,438.6 116.6,441.2 116.8,441.2 117.1,440.3 117.3,438.9 117.6,438.5 117.8,440.2 118.1,438.5 118.3,442.1 118.6,442.5 118.8,445.0 119.1,442.1 119.4,439.9 119.6,439.5 119.9,435.6 120.1,439.9 120.4,440.6 120.6,442.3 120.9,441.8 121.1,441.8 121.4,441.2 121.6,441.9 121.9,443.1 122.1,439.3 122.4,440.2 122.7,438.8 122.9,443.4 123.2,442.9 123.4,442.1 123.7,439.2 123.9,441.2 124.2,440.6 124.4,441.1 124.7,440.7 124.9,441.8 125.2,440.4 125.4,442.3 125.7,441.3 125.9,440.5 126.2,440.8 126.5,440.3 126.7,442.2 127.0,440.6 127.2,441.4 127.5,440.4 127.7,438.7 128.0,442.3 128.2,439.3 128.5,441.9 128.7,441.6 129.0,438.4 129.2,439.5 129.5,440.1 129.8,439.6 130.0,439.1 130.3,442.0 130.5,440.5 130.8,441.4 131.0,440.2 131.3,441.3 131.5,439.7 131.8,440.7 132.0,441.6 132.3,440.8 132.5,440.0 132.8,439.1 133.0,440.9 133.3,441.2 133.6,440.2 133.8,439.5 134.1,441.4 134.3,444.3 134.6,440.1 134.8,441.0 135.1,441.1 135.3,436.6 135.6,440.6 135.8,439.4 136.1,442.5 136.3,440.0 136.6,439.2 136.9,440.0 137.1,440.6 137.4,439.4 137.6,440.2 137.9,438.2 138.1,439.9 138.4,441.3 138.6,443.1 138.9,441.2 139.1,440.5 139.4,441.8 139.6,441.6 139.9,442.5 140.1,441.6 140.4,439.8 140.7,440.3 140.9,440.2 141.2,440.3 141.4,440.2 141.7,438.7 141.9,436.7 142.2,438.8 142.4,436.7 142.7,439.9 142.9,439.7 143.2,437.2 143.4,440.7 143.7,441.0 143.9,439.8 144.2,442.1 144.5,442.4 144.7,437.8 145.0,441.1 145.2,440.2 145.5,440.2 145.7,440.9 146.0,438.5 146.2,438.6 146.5,438.3 146.7,438.4 147.0,439.3 147.2,437.3 147.5,437.9 147.8,440.3 148.0,439.4 148.3,440.0 148.5,436.6 148.8,438.3 149.0,438.6 149.3,439.5 149.5,438.6 149.8,440.9 150.0,439.4 150.3,439.5 150.5,439.5 150.8,440.6 151.0,438.8 151.3,441.2 151.6,440.2 151.8,439.8 152.1,439.6 152.3,440.4 152.6,441.1 152.8,441.1 153.1,440.2 153.3,441.0 153.6,439.9 153.8,441.6 154.1,439.7 154.3,436.7 154.6,441.8 154.9,440.0 155.1,438.1 155.4,439.6 155.6,438.6 155.9,443.1 156.1,440.8 156.4,437.7 156.6,440.9 156.9,439.5 157.1,443.0 157.4,438.6 157.6,436.9 157.9,440.4 158.1,439.8 158.4,439.7 158.7,437.2 158.9,441.1 159.2,443.0 159.4,437.7 159.7,442.3 159.9,439.8 160.2,444.2 160.4,441.4 160.7,440.5 160.9,442.5 161.2,441.7 161.4,440.0 161.7,442.0 161.9,440.3 162.2,438.4 162.5,444.2 162.7,440.7 163.0,440.3 163.2,441.8 163.5,439.0 163.7,439.4 164.0,440.7 164.2,440.7 164.5,441.7 164.7,443.3 165.0,440.9 165.2,442.4 165.5,442.7 165.8,440.2 166.0,442.2 166.3,440.5 166.5,443.5 166.8,442.7 167.0,442.1 167.3,440.1 167.5,442.3 167.8,441.0 168.0,443.3 168.3,442.1 168.5,441.1 168.8,443.8 169.0,443.5 169.3,441.6 169.6,444.3 169.8,442.1 170.1,442.1 170.3,442.8 170.6,441.6 170.8,442.1 171.1,442.5 171.3,445.1 171.6,445.1 171.8,442.5 172.1,445.4 172.3,442.9 172.6,443.6 172.9,444.4 173.1,443.5 173.4,446.8 173.6,443.6 173.9,441.4 174.1,445.2 174.4,442.7 174.6,442.9 174.9,438.9 175.1,444.9 175.4,444.7 175.6,444.7 175.9,445.0 176.1,446.1 176.4,443.5 176.7,445.0 176.9,442.5 177.2,443.1 177.4,445.3 177.7,444.3 177.9,441.7 178.2,444.3 178.4,443.5 178.7,442.6 178.9,444.5 179.2,443.2 179.4,441.5 179.7,442.2 179.9,446.6 180.2,441.6 180.5,444.3 180.7,444.9 181.0,444.9 181.2,442.1 181.5,443.5 181.7,444.2 182.0,445.2 182.2,443.1 182.5,442.3 182.7,445.6 183.0,445.7 183.2,444.6 183.5,443.2 183.8,444.7 184.0,444.3 184.3,445.4 184.5,442.2 184.8,444.3 185.0,443.9 185.3,442.5 185.5,444.5 185.8,444.2 186.0,443.5 186.3,444.7 186.5,442.0 186.8,444.1 187.0,444.8 187.3,444.6 187.6,445.7 187.8,442.3 188.1,441.8 188.3,444.5 188.6,444.8 188.8,447.3 189.1,445.0 189.3,442.8 189.6,445.3 189.8,442.8 190.1,441.8 190.3,447.9 190.6,444.5 190.9,445.1 191.1,444.8 191.4,446.7 191.6,444.4 191.9,445.7 192.1,442.4 192.4,441.8 192.6,446.0 192.9,446.0 193.1,444.6 193.4,444.1 193.6,444.0 193.9,442.7 194.1,446.0 194.4,444.7 194.7,444.4 194.9,444.2 195.2,445.2 195.4,444.4 195.7,444.7 195.9,441.8 196.2,444.3 196.4,446.8 196.7,442.7 196.9,443.2 197.2,444.7 197.4,444.8 197.7,444.3 197.9,440.9 198.2,444.0 198.5,441.5 198.7,442.0 199.0,444.0 199.2,442.7 199.5,444.3 199.7,447.8 200.0,444.2 200.2,444.1 200.5,441.6 200.7,441.9 201.0,441.3 201.2,442.0 201.5,441.1 201.8,441.7 202.0,442.4 202.3,441.1 202.5,440.4 202.8,440.5 203.0,443.1 203.3,442.5 203.5,443.9 203.8,443.9 204.0,441.7 204.3,443.2 204.5,439.9 204.8,445.5 205.0,443.8 205.3,441.6 205.6,440.1 205.8,442.3 206.1,438.9 206.3,440.4 206.6,442.7 206.8,441.6 207.1,440.6 207.3,442.7 207.6,439.6 207.8,441.5 208.1,440.3 208.3,439.7 208.6,441.5 208.9,439.2 209.1,443.5 209.4,439.6 209.6,443.4 209.9,438.6 210.1,441.1 210.4,438.2 210.6,437.9 210.9,440.0 211.1,440.7 211.4,437.6 211.6,441.1 211.9,438.0 212.1,439.2 212.4,439.4 212.7,439.6 212.9,435.8 213.2,440.8 213.4,439.0 213.7,437.3 213.9,436.2 214.2,435.0 214.4,435.3 214.7,437.9 214.9,436.4 215.2,434.9 215.4,435.6 215.7,438.4 215.9,435.3 216.2,434.7 216.5,437.3 216.7,435.6 217.0,434.6 217.2,433.3 217.5,431.5 217.7,431.7 218.0,432.4 218.2,432.3 218.5,432.8 218.7,432.6 219.0,431.6 219.2,431.1 219.5,428.7 219.8,426.4 220.0,428.3 220.3,427.0 220.5,426.8 220.8,426.6 221.0,424.4 221.3,423.8 221.5,424.4 221.8,423.8 222.0,421.6 222.3,422.2 222.5,420.0 222.8,417.5 223.0,417.7 223.3,419.0 223.6,413.5 223.8,414.4 224.1,412.8 224.3,410.7 224.6,404.8 224.8,406.3 225.1,400.4 225.3,396.4 225.6,392.5 225.8,389.3 226.1,383.5 226.3,377.5 226.6,373.2 226.9,362.9 227.1,354.3 227.4,348.1 227.6,338.3 227.9,328.7 228.1,315.4 228.4,309.2 228.6,300.5 228.9,297.2 229.1,290.6 229.4,294.2 229.6,298.2 229.9,303.7 230.1,314.1 230.4,326.9 230.7,334.7 230.9,344.1 231.2,355.6 231.4,364.1 231.7,371.5 231.9,375.4 232.2,382.3 232.4,389.1 232.7,391.1 232.9,395.0 233.2,400.9 233.4,405.1 233.7,403.8 233.9,404.2 234.2,408.2 234.5,410.8 234.7,414.0 235.0,416.8 235.2,417.2 235.5,417.8 235.7,420.4 236.0,419.9 236.2,422.4 236.5,422.5 236.7,428.4 237.0,426.5 237.2,424.9 237.5,425.4 237.8,427.0 238.0,425.9 238.3,427.9 238.5,428.5 238.8,431.5 239.0,430.1 239.3,430.0 239.5,429.7 239.8,430.4 240.0,432.5 240.3,432.7 240.5,435.2 240.8,432.9 241.0,435.8 241.3,435.0 241.6,434.9 241.8,432.2 242.1,433.6 242.3,437.0 242.6,438.2 242.8,436.7 243.1,437.8 243.3,436.3 243.6,436.6 243.8,436.4 244.1,439.1 244.3,438.3 244.6,437.7 244.9,437.7 245.1,439.2 245.4,439.1 245.6,437.5 245.9,441.5 246.1,439.5 246.4,439.3 246.6,441.6 246.9,441.1 247.1,439.6 247.4,440.7 247.6,438.4 247.9,439.2 248.1,436.9 248.4,442.2 248.7,437.7 248.9,441.6 249.2,439.5 249.4,439.4 249.7,440.6 249.9,441.4 250.2,442.1 250.4,443.9 250.7,441.9 250.9,442.7 251.2,440.6 251.4,442.7 251.7,441.9 252.0,441.1 252.2,441.7 252.5,441.8 252.7,442.3 253.0,442.7 253.2,441.4 253.5,441.1 253.7,443.4 254.0,439.8 254.2,441.5 254.5,444.8 254.7,438.5 255.0,441.5 255.2,443.7 255.5,440.2 255.8,446.6 256.0,438.9 256.3,445.0 256.5,445.2 256.8,444.3 257.0,442.7 257.3,443.6 257.5,441.8 257.8,444.4 258.0,441.5 258.3,442.8 258.5,444.8 258.8,441.6 259.0,442.8 259.3,443.6 259.6,441.4 259.8,445.2 260.1,444.0 260.3,441.3 260.6,443.5 260.8,442.5 261.1,442.7 261.3,443.8 261.6,442.7 261.8,445.2 262.1,442.7 262.3,445.3 262.6,443.8 262.9,445.2 263.1,443.1 263.4,443.2 263.6,442.3 263.9,444.9 264.1,445.5 264.4,447.3 264.6,446.1 264.9,444.5 265.1,443.9 265.4,444.8 265.6,444.2 265.9,446.5 266.1,445.7 266.4,443.1 266.7,443.3 266.9,446.4 267.2,444.9 267.4,444.1 267.7,446.2 267.9,443.9 268.2,444.1 268.4,443.8 268.7,441.6 268.9,445.9 269.2,442.8 269.4,443.8 269.7,443.5 270.0,445.7 270.2,444.6 270.5,444.7 270.7,442.2 271.0,444.6 271.2,442.5 271.5,445.2 271.7,445.3 272.0,444.8 272.2,447.9 272.5,445.6 272.7,445.8 273.0,445.1 273.2,444.6 273.5,446.4 273.8,446.6 274.0,443.0 274.3,446.5 274.5,445.7 274.8,446.4 275.0,445.7 275.3,443.1 275.5,443.3 275.8,447.8 276.0,445.4 276.3,442.9 276.5,445.6 276.8,444.5 277.0,442.3 277.3,441.6 277.6,442.7 277.8,445.5 278.1,445.0 278.3,444.7 278.6,445.5 278.8,446.0 279.1,442.0 279.3,444.7 279.6,443.9 279.8,443.3 280.1,444.3 280.3,444.9 280.6,444.7 280.9,442.9 281.1,444.4 281.4,448.1 281.6,443.5 281.9,442.6 282.1,445.5 282.4,446.0 282.6,445.8 282.9,443.4 283.1,446.6 283.4,443.9 283.6,443.4 283.9,444.1 284.1,444.9 284.4,446.1 284.7,446.0 284.9,445.0 285.2,446.4 285.4,445.1 285.7,446.3 285.9,442.8 286.2,442.6 286.4,446.1 286.7,442.8 286.9,444.4 287.2,444.7 287.4,444.1 287.7,444.1 288.0,446.9 288.2,441.0 288.5,446.0 288.7,448.1 289.0,444.7 289.2,444.6 289.5,445.7 289.7,447.3 290.0,442.7 290.2,444.6 290.5,444.1 290.7,445.2 291.0,444.6 291.2,445.3 291.5,443.6 291.8,444.3 292.0,443.1 292.3,443.1 292.5,443.8 292.8,443.7 293.0,442.1 293.3,446.2 293.5,443.5 293.8,441.6 294.0,445.2 294.3,442.4 294.5,444.2 294.8,443.3 295.0,443.6 295.3,443.4 295.6,442.2 295.8,443.0 296.1,445.9 296.3,439.4 296.6,442.7 296.8,443.1 297.1,440.8 297.3,440.2 297.6,445.3 297.8,441.4 298.1,444.9 298.3,442.4 298.6,441.6 298.9,442.0 299.1,442.1 299.4,442.7 299.6,441.4 299.9,440.7 300.1,440.6 300.4,442.1 300.6,441.1 300.9,438.1 301.1,438.4 301.4,439.6 301.6,437.9 301.9,438.0 302.1,436.9 302.4,437.6 302.7,438.4 302.9,438.9 303.2,437.2 303.4,439.9 303.7,436.4 303.9,441.0 304.2,437.4 304.4,436.3 304.7,434.5 304.9,430.6 305.2,434.3 305.4,434.5 305.7,436.8 306.0,431.6 306.2,436.2 306.5,432.7 306.7,433.9 307.0,428.8 307.2,432.6 307.5,431.7 307.7,433.0 308.0,432.0 308.2,430.0 308.5,433.1 308.7,432.7 309.0,432.5 309.2,433.2 309.5,433.4 309.8,431.8 310.0,429.9 310.3,430.0 310.5,434.3 310.8,433.6 311.0,432.9 311.3,432.3 311.5,433.3 311.8,433.6 312.0,433.4 312.3,433.1 312.5,437.8 312.8,435.2 313.0,434.3 313.3,433.6 313.6,434.8 313.8,437.3 314.1,437.7 314.3,436.6 314.6,437.3 314.8,437.1 315.1,436.3 315.3,440.2 315.6,439.1 315.8,442.6 316.1,438.0 316.3,439.2 316.6,441.0 316.9,439.6 317.1,438.2 317.4,439.1 317.6,440.9 317.9,441.5 318.1,441.1 318.4,442.9 318.6,443.1 318.9,442.3 319.1,442.1 319.4,441.9 319.6,443.3 319.9,444.0 320.1,442.9 320.4,443.6 320.7,442.6 320.9,441.2 321.2,441.9 321.4,444.7 321.7,444.4 321.9,446.2 322.2,444.1 322.4,445.4 322.7,446.2 322.9,445.8 323.2,443.5 323.4,444.3 323.7,444.8 324.0,443.3 324.2,445.6 324.5,446.5 324.7,444.3 325.0,448.1 325.2,444.8 325.5,445.0 325.7,445.0 326.0,444.4 326.2,446.2 326.5,445.6 326.7,448.2 327.0,446.7 327.2,446.6 327.5,445.6 327.8,443.8 328.0,445.9 328.3,444.8 328.5,447.6 328.8,446.1 329.0,448.7 329.3,447.4 329.5,447.6 329.8,446.7 330.0,446.8 330.3,447.5 330.5,447.9 330.8,445.5 331.0,447.4 331.3,450.6 331.6,446.6 331.8,446.4 332.1,445.8 332.3,444.7 332.6,448.7 332.8,447.0 333.1,447.4 333.3,449.8 333.6,450.8 333.8,445.7 334.1,448.7 334.3,448.0 334.6,447.7 334.9,447.9 335.1,447.2 335.4,449.6 335.6,448.2 335.9,447.8 336.1,449.2 336.4,448.7 336.6,448.0 336.9,447.9 337.1,450.0 337.4,448.2 337.6,447.3 337.9,446.2 338.1,447.0 338.4,445.9 338.7,447.7 338.9,447.9 339.2,444.4 339.4,447.6 339.7,448.5 339.9,447.8 340.2,446.1 340.4,449.5 340.7,446.5 340.9,445.7 341.2,446.0 341.4,447.6 341.7,449.0 342.0,449.3 342.2,447.9 342.5,445.8 342.7,446.6 343.0,446.2 343.2,447.2 343.5,444.8 343.7,447.6 344.0,448.4 344.2,447.2 344.5,448.1 344.7,445.9 345.0,445.1 345.2,446.3 345.5,448.9 345.8,448.7 346.0,446.4 346.3,448.8 346.5,446.4 346.8,449.1 347.0,447.4 347.3,445.9 347.5,447.7 347.8,445.2 348.0,444.8 348.3,443.8 348.5,446.2 348.8,445.5 349.0,445.2 349.3,444.5 349.6,446.9 349.8,443.8 350.1,443.0 350.3,445.5 350.6,445.3 350.8,443.2 351.1,439.5 351.3,440.6 351.6,441.7 351.8,440.1 352.1,441.6 352.3,436.4 352.6,438.6 352.9,435.8 353.1,438.0 353.4,435.2 353.6,436.4 353.9,433.5 354.1,432.3 354.4,432.8 354.6,433.9 354.9,433.8 355.1,437.8 355.4,438.8 355.6,438.0 355.9,436.9 356.1,439.2 356.4,439.2 356.7,443.2 356.9,442.2 357.2,443.1 357.4,442.4 357.7,440.5 357.9,442.9 358.2,442.9 358.4,445.5 358.7,445.5 358.9,444.5 359.2,445.4 359.4,448.6 359.7,445.1 360.0,445.4 360.2,446.6 360.5,446.1 360.7,446.7 361.0,448.3 361.2,450.3 361.5,445.1 361.7,447.9 362.0,448.1 362.2,448.0 362.5,448.0 362.7,447.9 363.0,450.0 363.2,447.9 363.5,448.4 363.8,448.7 364.0,448.9 364.3,448.6 364.5,450.4 364.8,449.0 365.0,449.3 365.3,449.0 365.5,447.6 365.8,447.9 366.0,447.7 366.3,449.6 366.5,448.2 366.8,447.8 367.1,449.8 367.3,450.2 367.6,446.8 367.8,452.0 368.1,449.6 368.3,449.4 368.6,451.2 368.8,449.7 369.1,448.8 369.3,453.0 369.6,448.1 369.8,449.6 370.1,451.0 370.3,448.2 370.6,449.7 370.9,450.4 371.1,453.5 371.4,448.5 371.6,449.8 371.9,450.9 372.1,450.1 372.4,448.2 372.6,450.6 372.9,450.2 373.1,450.7 373.4,451.7 373.6,451.6 373.9,450.7 374.1,450.6 374.4,448.5 374.7,449.9 374.9,450.5 375.2,449.6 375.4,450.3 375.7,448.9 375.9,452.5 376.2,453.4 376.4,449.6 376.7,450.8 376.9,449.9 377.2,452.2 377.4,450.9 377.7,450.4 378.0,450.0 378.2,450.5 378.5,448.8 378.7,451.4 379.0,449.3 379.2,451.2 379.5,450.6 379.7,452.0 380.0,450.4 380.2,452.0 380.5,449.0 380.7,451.4 381.0,450.1 381.2,450.8 381.5,450.6 381.8,451.9 382.0,447.5 382.3,451.0 382.5,448.3 382.8,452.3 383.0,447.6 383.3,449.0 383.5,448.0 383.8,453.0 384.0,448.6 384.3,450.8 384.5,449.8 384.8,447.9 385.1,450.1 385.3,451.6 385.6,450.4 385.8,452.1 386.1,450.1 386.3,450.7 386.6,450.1 386.8,451.2 387.1,453.5 387.3,451.2 387.6,451.0 387.8,449.8 388.1,449.6 388.3,452.9 388.6,449.1 388.9,449.4 389.1,450.6 389.4,450.1 389.6,453.7 389.9,447.2 390.1,451.3 390.4,451.9 390.6,449.1 390.9,449.8 391.1,451.5 391.4,453.3 391.6,449.4 391.9,448.5 392.1,452.3 392.4,453.1 392.7,450.4 392.9,447.5 393.2,453.1 393.4,450.6 393.7,452.6 393.9,450.8 394.2,450.3 394.4,450.2 394.7,453.1 394.9,453.1 395.2,447.7 395.4,449.5 395.7,453.6 396.0,450.4 396.2,448.9 396.5,451.0 396.7,450.8 397.0,450.8 397.2,450.3 397.5,450.5 397.7,450.3 398.0,451.5 398.2,449.8 398.5,450.6 398.7,450.8 399.0,453.0 399.2,451.6 399.5,450.9 399.8,451.9 400.0,451.7 400.3,452.7 400.5,451.8 400.8,453.8 401.0,453.1 401.3,451.0 401.5,450.5 401.8,452.4 402.0,451.9 402.3,451.0 402.5,448.9 402.8,448.4 403.1,451.7 403.3,452.3 403.6,452.4 403.8,449.2 404.1,452.7 404.3,450.4 404.6,451.8 404.8,451.8 405.1,450.0 405.3,450.3 405.6,448.1 405.8,449.8 406.1,448.5 406.3,451.9 406.6,451.3 406.9,452.6 407.1,451.8 407.4,450.3 407.6,451.8 407.9,450.7 408.1,452.2 408.4,451.7 408.6,449.8 408.9,451.3 409.1,451.4 409.4,450.8 409.6,452.6 409.9,453.9 410.1,450.8 410.4,450.8 410.7,447.9 410.9,451.1 411.2,450.7 411.4,448.1 411.7,451.8 411.9,452.2 412.2,450.3 412.4,450.8 412.7,449.9 412.9,452.5 413.2,449.1 413.4,450.9 413.7,454.3 414.0,451.5 414.2,452.1 414.5,451.2 414.7,449.7 415.0,451.4 415.2,452.0 415.5,449.9 415.7,452.0 416.0,453.3 416.2,453.1 416.5,449.1 416.7,450.0 417.0,449.0 417.2,453.1 417.5,452.4 417.8,452.5 418.0,450.2 418.3,449.7 418.5,451.6 418.8,451.7 419.0,450.2 419.3,451.7 419.5,452.5 419.8,451.9 420.0,450.0 420.3,448.4 420.5,451.2 420.8,451.8 421.1,451.2 421.3,450.9 421.6,450.5 421.8,452.7 422.1,451.5 422.3,451.8 422.6,450.1 422.8,450.7 423.1,451.9 423.3,450.1 423.6,449.7 423.8,451.1 424.1,453.4 424.3,451.9 424.6,453.8 424.9,451.5 425.1,451.2 425.4,449.6 425.6,450.8 425.9,453.8 426.1,452.2 426.4,452.8 426.6,452.7 426.9,451.7 427.1,451.4 427.4,451.9 427.6,452.7 427.9,452.4 428.1,452.5 428.4,452.0 428.7,450.6 428.9,451.3 429.2,450.3 429.4,453.3 429.7,448.6 429.9,451.4 430.2,455.4 430.4,451.3 430.7,450.1 430.9,451.8 431.2,453.7 431.4,451.6 431.7,452.7 432.0,452.0 432.2,451.3 432.5,456.5 432.7,451.9 433.0,451.0 433.2,451.1 433.5,452.4 433.7,452.5 434.0,453.0 434.2,452.1 434.5,449.7 434.7,452.7 435.0,451.4 435.2,451.5 435.5,449.7 435.8,451.0 436.0,450.8 436.3,451.8 436.5,449.7 436.8,452.0 437.0,452.1 437.3,450.2 437.5,451.0 437.8,450.6 438.0,453.3 438.3,448.2 438.5,451.4 438.8,449.5 439.1,451.3 439.3,453.2 439.6,451.0 439.8,452.2 440.1,450.7 440.3,454.9 440.6,453.4 440.8,453.7 441.1,450.0 441.3,450.4 441.6,453.6 441.8,451.7 442.1,451.6 442.3,452.5 442.6,450.1 442.9,453.2 443.1,452.1 443.4,452.8 443.6,451.0 443.9,452.8 444.1,451.0 444.4,453.5 444.6,453.8 444.9,453.4 445.1,452.9 445.4,453.0 445.6,448.0 445.9,453.4 446.1,451.7 446.4,452.3 446.7,451.7 446.9,450.0 447.2,451.3 447.4,453.1 447.7,454.3 447.9,451.2 448.2,450.8 448.4,454.3 448.7,450.8 448.9,455.3 449.2,452.2 449.4,450.8 449.7,453.6 450.0,454.7 450.2,450.0 450.5,454.5 450.7,451.8 451.0,454.4 451.2,451.6 451.5,449.8 451.7,453.0 452.0,453.6 452.2,455.4 452.5,454.8 452.7,453.3 453.0,451.9 453.2,451.5 453.5,451.8 453.8,451.0 454.0,451.8 454.3,448.4 454.5,452.5 454.8,452.2 455.0,456.1 455.3,453.4 455.5,451.6 455.8,453.1 456.0,450.4 456.3,451.4 456.5,449.5 456.8,454.4 457.1,453.2 457.3,450.5 457.6,452.2 457.8,453.7 458.1,453.1 458.3,452.9 458.6,451.0 458.8,451.4 459.1,452.5 459.3,453.7 459.6,451.1 459.8,450.7 460.1,454.1 460.3,451.0 460.6,454.0 460.9,452.7 461.1,453.7 461.4,455.0 461.6,453.4 461.9,453.5 462.1,451.0 462.4,451.3 462.6,453.4 462.9,454.7 463.1,454.5 463.4,455.9 463.6,452.9 463.9,452.7 464.1,453.9 464.4,452.4 464.7,452.3 464.9,450.8 465.2,453.9 465.4,450.8 465.7,453.2 465.9,450.3 466.2,454.1 466.4,450.9 466.7,453.7 466.9,450.1 467.2,451.8 467.4,454.2 467.7,451.3 468.0,452.6 468.2,451.7 468.5,449.0 468.7,452.9 469.0,453.1 469.2,450.8 469.5,453.3 469.7,451.3 470.0,451.0 470.2,452.5 470.5,451.5 470.7,455.9 471.0,450.2 471.2,453.6 471.5,454.0 471.8,449.5 472.0,449.9 472.3,453.4 472.5,451.8 472.8,453.1 473.0,454.2 473.3,452.0 473.5,450.9 473.8,448.4 474.0,452.8 474.3,451.1 474.5,453.0 474.8,452.9 475.1,450.5 475.3,455.1 475.6,454.2 475.8,453.8 476.1,450.8 476.3,451.9 476.6,451.7 476.8,451.9 477.1,450.9 477.3,453.2 477.6,452.9 477.8,453.1 478.1,451.8 478.3,454.5 478.6,452.9 478.9,448.5 479.1,451.6 479.4,452.5 479.6,454.0 479.9,452.1 480.1,452.2 480.4,451.6 480.6,453.6 480.9,451.9 481.1,451.7 481.4,451.5 481.6,453.4 481.9,451.8 482.2,450.1 482.4,453.6 482.7,451.6 482.9,453.2 483.2,453.2 483.4,454.4 483.7,454.2 483.9,451.8 484.2,452.4 484.4,450.7 484.7,455.2 484.9,453.3 485.2,454.7 485.4,452.2 485.7,449.6 486.0,455.0 486.2,452.8 486.5,452.9 486.7,452.7 487.0,453.6 487.2,453.5 487.5,450.3 487.7,454.3 488.0,451.9 488.2,452.0 488.5,455.3 488.7,454.1 489.0,452.2 489.2,449.9 489.5,452.9 489.8,453.5 490.0,452.6 490.3,450.8 490.5,451.5 490.8,450.8 491.0,453.0 491.3,453.9 491.5,454.2 491.8,451.6 492.0,453.1 492.3,453.5 492.5,451.9 492.8,452.5 493.1,455.9 493.3,453.0 493.6,454.0 493.8,452.1 494.1,452.8 494.3,450.2 494.6,452.7 494.8,454.5 495.1,455.9 495.3,454.5 495.6,453.8 495.8,452.8 496.1,451.8 496.3,452.5 496.6,453.7 496.9,451.6 497.1,454.1 497.4,451.3 497.6,450.1 497.9,451.2 498.1,450.3 498.4,450.7 498.6,454.5 498.9,452.5 499.1,453.1 499.4,454.5 499.6,454.7 499.9,452.0 500.2,454.8 500.4,453.3 500.7,452.8 500.9,453.4 501.2,450.6 501.4,451.6 501.7,452.6 501.9,453.7 502.2,452.2 502.4,452.6 502.7,454.2 502.9,454.9 503.2,453.9 503.4,454.7 503.7,452.2 504.0,452.3 504.2,453.3 504.5,452.3 504.7,452.0 505.0,455.3 505.2,452.5 505.5,451.4 505.7,453.5 506.0,455.6 506.2,452.9 506.5,454.7 506.7,452.2 507.0,452.1 507.2,451.8 507.5,452.6 507.8,455.6 508.0,451.1 508.3,455.3 508.5,451.3 508.8,452.5 509.0,454.1 509.3,453.8 509.5,453.3 509.8,450.4 510.0,453.4 510.3,451.3 510.5,456.7 510.8,452.5 511.1,453.1 511.3,451.1 511.6,452.1 511.8,450.9 512.1,454.3 512.3,452.5 512.6,453.7 512.8,451.8 513.1,452.1 513.3,454.8 513.6,451.4 513.8,450.2 514.1,453.5 514.3,451.1 514.6,452.2 514.9,454.2 515.1,451.6 515.4,454.2 515.6,451.8 515.9,455.1 516.1,454.9 516.4,452.2 516.6,452.5 516.9,451.6 517.1,453.2 517.4,454.6 517.6,450.7 517.9,454.3 518.2,450.9 518.4,451.6 518.7,450.2 518.9,456.0 519.2,453.0 519.4,453.2 519.7,451.9 519.9,454.5 520.2,449.7 520.4,452.9 520.7,456.2 520.9,452.3 521.2,452.9 521.4,453.9 521.7,451.7 522.0,452.9 522.2,454.3 522.5,453.2 522.7,453.5 523.0,452.4 523.2,453.4 523.5,453.0 523.7,455.1 524.0,454.0 524.2,452.5 524.5,449.2 524.7,454.0 525.0,454.0 525.2,451.5 525.5,449.9 525.8,451.2 526.0,454.3 526.3,451.3 526.5,452.2 526.8,453.2 527.0,454.8 527.3,452.9 527.5,452.8 527.8,452.1 528.0,455.4 528.3,454.5 528.5,452.8 528.8,450.8 529.1,451.7 529.3,453.8 529.6,451.8 529.8,454.3 530.1,453.5 530.3,453.4 530.6,453.9 530.8,453.7 531.1,451.6 531.3,452.4 531.6,456.4 531.8,451.1 532.1,452.2 532.3,454.5 532.6,452.7 532.9,451.7 533.1,450.9 533.4,453.7 533.6,454.5 533.9,455.0 534.1,453.0 534.4,454.5 534.6,451.4 534.9,453.2 535.1,451.9 535.4,453.2 535.6,454.0 535.9,454.5 536.2,451.4 536.4,454.8 536.7,452.2 536.9,451.4 537.2,452.7 537.4,450.7 537.7,452.9 537.9,453.3 538.2,452.6 538.4,453.7 538.7,452.4 538.9,452.9 539.2,450.7 539.4,453.0 539.7,451.6 540.0,452.2 540.2,452.8 540.5,453.2 540.7,450.4 541.0,450.6 541.2,452.4 541.5,453.6 541.7,453.4 542.0,454.2 542.2,454.8 542.5,453.6 542.7,452.8 543.0,451.3 543.2,451.5 543.5,452.2 543.8,453.3 544.0,453.2 544.3,452.9 544.5,452.6 544.8,453.8 545.0,453.2 545.3,453.3 545.5,453.3 545.8,452.0 546.0,451.3 546.3,453.6 546.5,453.4 546.8,452.5 547.1,452.2 547.3,456.2 547.6,451.7 547.8,452.5 548.1,453.2 548.3,451.0 548.6,452.9 548.8,455.5 549.1,454.2 549.3,453.7 549.6,453.6 549.8,452.9 550.1,454.2 550.3,452.5 550.6,452.1 550.9,452.9 551.1,454.0 551.4,453.2 551.6,453.7 551.9,449.6 552.1,454.4 552.4,456.1 552.6,454.6 552.9,452.1 553.1,451.3 553.4,453.0 553.6,451.1 553.9,453.6 554.2,451.7 554.4,454.0 554.7,454.5 554.9,449.4 555.2,452.9 555.4,451.4 555.7,450.3 555.9,451.5 556.2,452.1 556.4,453.9 556.7,450.1 556.9,453.9 557.2,455.3 557.4,453.2 557.7,453.1 558.0,452.2 558.2,450.4 558.5,453.0 558.7,452.7 559.0,453.2 559.2,455.9 559.5,453.1 559.7,452.6 560.0,454.3 560.2,449.9 560.5,450.1 560.7,451.2 561.0,450.8 561.2,452.7 561.5,451.2 561.8,454.2 562.0,453.8 562.3,452.6 562.5,450.8 562.8,452.3 563.0,452.5 563.3,449.6 563.5,451.7 563.8,452.1 564.0,451.3 564.3,453.2 564.5,452.6 564.8,449.5 565.1,450.8 565.3,449.2 565.6,451.2 565.8,449.0 566.1,451.5 566.3,450.6 566.6,451.4 566.8,449.5 567.1,447.4 567.3,452.1 567.6,449.1 567.8,451.2 568.1,449.7 568.3,449.9 568.6,451.4 568.9,449.0 569.1,450.5 569.4,446.0 569.6,449.3 569.9,447.5 570.1,447.5 570.4,447.5 570.6,447.9 570.9,449.7 571.1,444.3 571.4,447.0 571.6,445.7 571.9,448.5 572.2,446.0 572.4,447.2 572.7,445.9 572.9,447.5 573.2,448.0 573.4,445.9 573.7,446.6 573.9,444.4 574.2,447.1 574.4,448.0 574.7,445.9 574.9,448.6 575.2,443.9 575.4,444.4 575.7,445.2 576.0,446.7 576.2,447.7 576.5,447.7 576.7,447.9 577.0,449.2 577.2,447.6 577.5,446.6 577.7,446.8 578.0,452.0 578.2,445.5 578.5,448.9 578.7,451.5 579.0,450.2 579.2,448.4 579.5,449.8 579.8,451.2 580.0,451.8 580.3,448.8 580.5,451.4 580.8,450.8 581.0,452.2 581.3,452.7 581.5,450.2 581.8,448.7 582.0,451.5 582.3,453.7 582.5,452.2 582.8,451.6 583.1,454.9 583.3,449.8 583.6,452.8 583.8,450.7 584.1,451.7 584.3,451.8 584.6,454.0 584.8,450.4 585.1,451.0 585.3,449.5 585.6,452.7 585.8,451.3 586.1,452.7 586.3,450.5 586.6,451.6 586.9,453.7 587.1,451.9 587.4,453.2 587.6,453.1 587.9,451.8 588.1,450.0 588.4,453.9 588.6,452.7 588.9,453.9 589.1,449.4 589.4,450.0 589.6,449.3 589.9,451.2 590.2,454.1 590.4,453.4 590.7,452.6 590.9,452.8 591.2,453.8 591.4,452.2 591.7,453.3 591.9,452.9 592.2,449.5 592.4,452.2 592.7,454.8 592.9,452.2 593.2,452.6 593.4,451.9 593.7,452.1 594.0,454.5 594.2,452.4 594.5,451.3 594.7,448.2 595.0,452.0 595.2,449.9 595.5,450.1 595.7,454.1 596.0,454.0 596.2,450.0 596.5,454.2 596.7,453.6 597.0,451.7 597.3,454.0 597.5,450.5 597.8,451.1 598.0,450.8 598.3,451.2 598.5,454.2 598.8,450.9 599.0,451.2 599.3,451.5 599.5,453.2 599.8,452.4 600.0,454.2 600.3,451.8 600.5,450.9 600.8,452.1 601.1,452.9 601.3,451.4 601.6,453.2 601.8,455.5 602.1,451.8 602.3,452.8 602.6,454.7 602.8,451.6 603.1,451.3 603.3,450.9 603.6,453.1 603.8,453.2 604.1,452.2 604.3,452.4 604.6,454.2 604.9,453.5 605.1,450.0 605.4,452.0 605.6,452.1 605.9,452.9 606.1,451.4 606.4,450.7 606.6,450.8 606.9,448.7 607.1,451.2 607.4,450.2 607.6,451.7 607.9,449.3 608.2,450.0 608.4,449.1 608.7,448.8 608.9,451.4 609.2,449.5 609.4,450.8 609.7,448.4 609.9,450.2 610.2,447.5 610.4,449.4 610.7,449.4 610.9,451.1 611.2,450.6 611.4,450.2 611.7,451.9 612.0,451.0 612.2,451.7 612.5,452.2 612.7,451.1 613.0,450.9 613.2,452.0 613.5,451.0 613.7,452.3 614.0,453.5 614.2,453.3 614.5,451.5 614.7,450.3 615.0,452.2 615.3,452.2 615.5,454.1 615.8,452.0 616.0,452.3 616.3,453.8 616.5,452.0 616.8,452.5 617.0,455.4 617.3,455.1 617.5,453.9 617.8,453.4 618.0,451.6 618.3,453.9 618.5,453.2 618.8,453.4 619.1,452.4 619.3,453.2 619.6,452.9 619.8,453.7 620.1,455.4 620.3,453.8 620.6,450.8 620.8,451.9 621.1,451.0 621.3,452.2 621.6,454.2 621.8,454.0 622.1,452.5 622.3,453.8 622.6,452.3 622.9,451.3 623.1,451.4 623.4,452.2 623.6,455.6 623.9,451.5 624.1,455.4 624.4,455.5 624.6,453.3 624.9,453.5 625.1,452.6 625.4,453.5 625.6,454.6 625.9,453.6 626.2,455.1 626.4,455.4 626.7,454.1 626.9,454.1 627.2,453.5 627.4,454.2 627.7,452.0 627.9,454.3 628.2,454.0 628.4,452.4 628.7,456.9 628.9,452.2 629.2,452.4 629.4,454.1 629.7,450.8 630.0,452.5 630.2,451.4 630.5,452.3 630.7,453.5 631.0,454.2 631.2,455.4 631.5,455.0 631.7,455.5 632.0,454.6 632.2,453.1 632.5,455.4 632.7,453.0 633.0,452.9 633.3,456.1 633.5,455.0 633.8,454.1 634.0,454.9 634.3,455.1 634.5,451.8 634.8,453.7 635.0,452.0 635.3,454.0 635.5,452.8 635.8,455.9 636.0,454.6 636.3,452.6 636.5,453.8 636.8,452.0" fill="none" stroke="#dc1450" stroke-width="2.9" stroke-linejoin="round"/>
<rect x="79.3" y="22.3" width="557.5" height="502.9" fill="none" stroke="#000" stroke-width="2"/>
<line x1="79.3" y1="525.2" x2="79.3" y2="516.7" stroke="#000" stroke-width="2"/>
<line x1="135.1" y1="525.2" x2="135.1" y2="521.0" stroke="#000" stroke-width="2"/>
<line x1="190.8" y1="525.2" x2="190.8" y2="516.7" stroke="#000" stroke-width="2"/>
<line x1="246.6" y1="525.2" x2="246.6" y2="521.0" stroke="#000" stroke-width="2"/>
<line x1="302.3" y1="525.2" x2="302.3" y2="516.7" stroke="#000" stroke-width="2"/>
<line x1="358.1" y1="525.2" x2="358.1" y2="521.0" stroke="#000" stroke-width="2"/>
<line x1="413.8" y1="525.2" x2="413.8" y2="516.7" stroke="#000" stroke-width="2"/>
<line x1="469.6" y1="525.2" x2="469.6" y2="521.0" stroke="#000" stroke-width="2"/>
<line x1="525.3" y1="525.2" x2="525.3" y2="516.7" stroke="#000" stroke-width="2"/>
<line x1="581.0" y1="525.2" x2="581.0" y2="521.0" stroke="#000" stroke-width="2"/>
<line x1="636.8" y1="525.2" x2="636.8" y2="516.7" stroke="#000" stroke-width="2"/>
<text x="59.1" y="564.8" font-size="38.0" font-weight="bold" textLength="40.5" lengthAdjust="spacingAndGlyphs">30</text>
<text x="170.8" y="564.8" font-size="38.0" font-weight="bold" textLength="40.5" lengthAdjust="spacingAndGlyphs">40</text>
<text x="282.0" y="564.8" font-size="38.0" font-weight="bold" textLength="40.5" lengthAdjust="spacingAndGlyphs">50</text>
<text x="393.3" y="564.8" font-size="38.0" font-weight="bold" textLength="40.5" lengthAdjust="spacingAndGlyphs">60</text>
<text x="504.8" y="564.8" font-size="38.0" font-weight="bold" textLength="40.5" lengthAdjust="spacingAndGlyphs">70</text>
<text x="616.4" y="564.8" font-size="38.0" font-weight="bold" textLength="40.5" lengthAdjust="spacingAndGlyphs">80</text>
<text x="303.9" y="616.8" font-size="46.3" font-weight="bold" textLength="108.2" lengthAdjust="spacingAndGlyphs">2θ (°)</text>
<text transform="translate(49.7,429.6) rotate(-90)" font-size="52.1" font-weight="bold" textLength="346.5" lengthAdjust="spacingAndGlyphs">Intensity (a.u.)</text>
<text x="-0.3" y="48.2" font-size="55.9" font-weight="bold" textLength="29.3" lengthAdjust="spacingAndGlyphs">a</text>
<text x="171.7" y="86.4" font-size="35.6" font-weight="bold" textLength="121.2" lengthAdjust="spacingAndGlyphs">Cu(111)</text>
<text x="261.0" y="219.2" font-size="34.5" font-weight="bold" textLength="121.1" lengthAdjust="spacingAndGlyphs">Cu(200)</text>
<text x="516.4" y="236.2" font-size="34.4" font-weight="bold" textLength="120.7" lengthAdjust="spacingAndGlyphs">Cu(220)</text>
<text x="570.5" y="319.7" font-size="41.9" font-weight="bold" fill="#3b6089" textLength="53.4" lengthAdjust="spacingAndGlyphs">Cu</text>
<text x="490.0" y="503.1" font-size="41.5" font-weight="bold" fill="#dc1450" textLength="139.1" lengthAdjust="spacingAndGlyphs">Cu-12C</text>
<defs><linearGradient id="gdr" gradientUnits="userSpaceOnUse" x1="0" y1="700" x2="0" y2="905"><stop offset="0" stop-color="#dc1450" stop-opacity="0.6"/><stop offset="0.5" stop-color="#e8a3b0" stop-opacity="0.42"/><stop offset="1" stop-color="#fff" stop-opacity="0"/></linearGradient><linearGradient id="gdb" gradientUnits="userSpaceOnUse" x1="0" y1="915" x2="0" y2="1127"><stop offset="0" stop-color="#3b6089" stop-opacity="0.65"/><stop offset="0.6" stop-color="#c4c9d4" stop-opacity="0.75"/><stop offset="1" stop-color="#fff" stop-opacity="0"/></linearGradient></defs>
<polygon points="115.3,905 115.3,842.8 116.2,843.0 117.2,843.9 118.1,844.6 119.0,844.1 120.0,844.3 120.9,843.7 121.8,844.4 122.7,844.5 123.7,845.1 124.6,844.9 125.5,845.0 126.5,844.4 127.4,844.2 128.3,844.5 129.3,845.0 130.2,845.0 131.1,844.6 132.1,844.8 133.0,846.0 133.9,846.8 134.9,847.2 135.8,846.1 136.7,845.8 137.6,845.8 138.6,846.7 139.5,847.0 140.4,846.8 141.4,847.4 142.3,847.9 143.2,848.0 144.2,847.1 145.1,847.4 146.0,847.4 147.0,848.3 147.9,848.3 148.8,848.2 149.8,848.0 150.7,847.2 151.6,847.9 152.5,847.9 153.5,848.9 154.4,849.0 155.3,848.9 156.3,848.7 157.2,848.4 158.1,848.4 159.1,848.9 160.0,848.7 160.9,848.7 161.9,848.0 162.8,848.0 163.7,847.4 164.7,847.9 165.6,848.0 166.5,848.7 167.4,848.2 168.4,848.2 169.3,848.1 170.2,848.3 171.2,849.6 172.1,850.4 173.0,850.7 174.0,849.3 174.9,849.1 175.8,848.4 176.8,849.3 177.7,849.3 178.6,849.8 179.6,849.5 180.5,849.5 181.4,849.0 182.3,849.3 183.3,849.0 184.2,849.2 185.1,848.9 186.1,849.2 187.0,849.8 187.9,850.3 188.9,850.7 189.8,850.8 190.7,850.4 191.7,850.7 192.6,850.0 193.5,850.2 194.5,849.5 195.4,849.8 196.3,849.7 197.2,849.9 198.2,850.6 199.1,851.1 200.0,850.4 201.0,850.2 201.9,850.5 202.8,851.7 203.8,852.3 204.7,851.6 205.6,850.7 206.6,849.8 207.5,850.0 208.4,850.9 209.4,851.1 210.3,850.7 211.2,850.4 212.1,850.1 213.1,850.0 214.0,850.5 214.9,851.9 215.9,852.0 216.8,852.1 217.7,851.1 218.7,850.8 219.6,849.3 220.5,849.8 221.5,849.9 222.4,851.6 223.3,851.4 224.3,851.5 225.2,850.0 226.1,850.4 227.0,850.2 228.0,850.7 228.9,849.3 229.8,849.8 230.8,850.2 231.7,850.7 232.6,850.4 233.6,850.1 234.5,850.7 235.4,850.6 236.4,851.1 237.3,850.6 238.2,850.3 239.2,849.4 240.1,848.6 241.0,848.4 241.9,848.9 242.9,849.9 243.8,849.9 244.7,849.6 245.7,848.7 246.6,848.8 247.5,848.8 248.5,849.8 249.4,849.6 250.3,849.7 251.3,850.0 252.2,850.1 253.1,850.0 254.1,848.6 255.0,848.0 255.9,847.9 256.8,848.4 257.8,849.1 258.7,848.6 259.6,848.3 260.6,848.5 261.5,849.2 262.4,849.1 263.4,848.1 264.3,847.8 265.2,848.0 266.2,848.7 267.1,848.2 268.0,848.7 269.0,848.4 269.9,848.3 270.8,846.7 271.7,846.3 272.7,845.7 273.6,846.2 274.5,846.3 275.5,846.1 276.4,846.6 277.3,845.9 278.3,845.7 279.2,845.0 280.1,844.6 281.1,844.7 282.0,844.6 282.9,844.5 283.8,844.6 284.8,843.9 285.7,843.5 286.6,841.8 287.6,840.3 288.5,838.9 289.4,837.9 290.4,836.9 291.3,835.6 292.2,832.8 293.2,830.2 294.1,826.5 295.0,824.8 296.0,821.6 296.9,818.4 297.8,813.6 298.7,810.0 299.7,805.9 300.6,802.4 301.5,797.7 302.5,795.1 303.4,792.9 304.3,792.4 305.3,792.2 306.2,792.9 307.1,794.6 308.1,797.2 309.0,800.9 309.9,804.7 310.9,808.5 311.8,812.2 312.7,816.5 313.6,820.6 314.6,824.3 315.5,827.9 316.4,829.8 317.4,832.2 318.3,834.2 319.2,836.5 320.2,837.5 321.1,838.7 322.0,840.2 323.0,841.2 323.9,841.7 324.8,841.8 325.8,842.3 326.7,842.4 327.6,843.1 328.5,843.6 329.5,844.0 330.4,844.2 331.3,845.0 332.3,845.5 333.2,846.5 334.1,846.6 335.1,846.5 336.0,846.1 336.9,846.5 337.9,847.9 338.8,849.0 339.7,849.2 340.7,849.3 341.6,848.8 342.5,849.7 343.4,849.5 344.4,850.4 345.3,850.5 346.2,850.8 347.2,850.8 348.1,850.4 349.0,850.7 350.0,851.2 350.9,853.3 351.8,853.8 352.8,853.6 353.7,851.9 354.6,852.2 355.6,851.8 356.5,852.0 357.4,851.9 358.3,852.3 359.3,853.3 360.2,853.8 361.1,854.2 362.1,853.6 363.0,852.9 363.9,852.8 364.9,853.3 365.8,854.2 366.7,855.0 367.7,855.2 368.6,854.9 369.5,855.1 370.5,854.7 371.4,855.1 372.3,855.6 373.2,856.9 374.2,856.9 375.1,856.4 376.0,856.6 377.0,857.6 377.9,857.4 378.8,856.9 379.8,856.5 380.7,857.7 381.6,857.7 382.6,858.1 383.5,857.7 384.4,859.0 385.4,859.1 386.3,859.3 387.2,858.5 388.1,858.9 389.1,859.4 390.0,859.2 390.9,859.1 391.9,858.5 392.8,858.8 393.7,858.4 394.7,858.5 395.6,858.7 396.5,858.9 397.5,859.8 398.4,860.5 399.3,860.9 400.3,860.4 401.2,860.5 402.1,860.0 403.0,859.8 404.0,860.0 404.9,861.1 405.8,862.3 406.8,862.0 407.7,861.4 408.6,861.0 409.6,861.4 410.5,861.7 411.4,861.8 412.4,861.1 413.3,861.1 414.2,861.8 415.2,862.6 416.1,862.7 417.0,862.1 417.9,861.8 418.9,862.5 419.8,862.6 420.7,862.8 421.7,861.9 422.6,862.0 423.5,862.3 424.5,863.5 425.4,863.6 426.3,863.3 427.3,863.3 428.2,863.7 429.1,863.8 430.1,863.8 431.0,864.1 431.9,864.7 432.8,864.9 433.8,864.7 434.7,864.2 435.6,864.0 436.6,863.7 437.5,863.5 438.4,863.9 439.4,863.8 440.3,864.6 441.2,864.4 442.2,864.9 443.1,864.8 444.0,864.9 444.9,865.4 445.9,865.1 446.8,864.8 447.7,864.3 448.7,865.1 449.6,865.6 450.5,865.3 451.5,864.5 452.4,863.8 453.3,864.1 454.3,864.3 455.2,865.4 456.1,864.7 457.1,865.0 458.0,864.2 458.9,864.6 459.8,864.1 460.8,863.7 461.7,864.0 462.6,864.4 463.6,863.9 464.5,864.3 465.4,863.8 466.4,864.8 467.3,864.4 468.2,865.0 469.2,864.6 470.1,864.7 471.0,864.2 472.0,863.6 472.9,863.4 473.8,863.6 474.7,864.6 475.7,863.5 476.6,863.1 477.5,862.6 478.5,862.7 479.4,862.6 480.3,862.9 481.3,863.7 482.2,863.3 483.1,862.9 484.1,862.7 485.0,863.1 485.9,862.5 486.9,862.0 487.8,861.2 488.7,860.6 489.6,860.5 490.6,860.6 491.5,861.2 492.4,860.4 493.4,859.1 494.3,857.9 495.2,857.6 496.2,858.1 497.1,857.6 498.0,856.3 499.0,855.7 499.9,854.2 500.8,853.1 501.8,850.4 502.7,847.4 503.6,844.2 504.5,838.9 505.5,833.4 506.4,826.1 507.3,818.4 508.3,809.1 509.2,797.4 510.1,784.5 511.1,771.1 512.0,756.6 512.9,742.2 513.9,727.5 514.8,715.9 515.7,707.9 516.7,704.4 517.6,705.4 518.5,710.3 519.4,719.7 520.4,731.3 521.3,745.4 522.2,759.8 523.2,774.7 524.1,788.7 525.0,801.3 526.0,812.6 526.9,822.9 527.8,831.6 528.8,839.1 529.7,843.9 530.6,848.3 531.6,851.6 532.5,854.7 533.4,857.2 534.3,858.4 535.3,859.3 536.2,859.5 537.1,859.1 538.1,859.1 539.0,859.7 539.9,861.7 540.9,862.5 541.8,863.3 542.7,863.8 543.7,864.2 544.6,864.6 545.5,865.0 546.5,865.6 547.4,864.9 548.3,865.0 549.2,864.9 550.2,865.3 551.1,865.0 552.0,865.0 553.0,865.7 553.9,866.0 554.8,866.8 555.8,866.7 556.7,866.3 557.6,865.8 558.6,866.0 559.5,866.3 560.4,867.5 561.4,867.2 562.3,867.2 563.2,866.6 564.1,867.0 565.1,867.3 566.0,866.8 566.9,866.8 567.9,867.2 568.8,867.6 569.7,867.4 570.7,867.3 571.6,867.4 572.5,867.8 573.5,866.6 574.4,866.0 575.3,865.4 576.3,866.5 577.2,867.0 578.1,867.6 579.0,868.0 580.0,867.9 580.9,867.6 581.8,868.1 582.8,867.9 583.7,868.1 584.6,868.0 585.6,868.4 586.5,867.6 587.4,867.2 588.4,867.0 589.3,867.7 590.2,868.0 591.2,868.3 592.1,868.3 593.0,868.3 593.9,868.3 594.9,868.4 595.8,868.3 596.7,868.2 597.7,868.1 598.6,867.8 598.6,905" fill="url(#gdr)"/>
<polygon points="115.3,1127 115.3,1059.8 116.2,1060.0 117.2,1060.0 118.1,1060.1 119.0,1059.9 120.0,1060.2 120.9,1060.0 121.8,1060.6 122.7,1059.7 123.7,1059.6 124.6,1059.6 125.5,1060.2 126.5,1060.3 127.4,1060.2 128.3,1059.9 129.3,1060.2 130.2,1059.4 131.1,1059.6 132.1,1059.4 133.0,1060.2 133.9,1060.6 134.9,1060.6 135.8,1060.9 136.7,1060.4 137.6,1060.1 138.6,1058.9 139.5,1059.5 140.4,1060.1 141.4,1060.7 142.3,1060.0 143.2,1059.7 144.2,1060.3 145.1,1060.5 146.0,1061.3 147.0,1060.9 147.9,1060.2 148.8,1059.9 149.8,1059.9 150.7,1060.5 151.6,1060.7 152.5,1060.7 153.5,1061.1 154.4,1060.5 155.3,1060.3 156.3,1060.0 157.2,1059.8 158.1,1060.3 159.1,1060.3 160.0,1060.4 160.9,1060.1 161.9,1059.8 162.8,1059.6 163.7,1059.5 164.7,1059.1 165.6,1059.3 166.5,1058.5 167.4,1058.5 168.4,1058.3 169.3,1058.2 170.2,1057.9 171.2,1057.4 172.1,1057.8 173.0,1057.5 174.0,1057.7 174.9,1057.8 175.8,1058.0 176.8,1057.2 177.7,1056.6 178.6,1056.6 179.6,1056.8 180.5,1056.9 181.4,1056.6 182.3,1056.6 183.3,1056.0 184.2,1055.5 185.1,1055.1 186.1,1055.0 187.0,1055.1 187.9,1055.2 188.9,1054.9 189.8,1054.6 190.7,1054.5 191.7,1054.1 192.6,1053.8 193.5,1053.4 194.5,1053.9 195.4,1054.1 196.3,1054.3 197.2,1054.2 198.2,1054.7 199.1,1055.0 200.0,1055.0 201.0,1055.0 201.9,1054.8 202.8,1056.1 203.8,1056.2 204.7,1056.7 205.6,1056.4 206.6,1056.8 207.5,1057.1 208.4,1057.8 209.4,1058.2 210.3,1058.7 211.2,1058.8 212.1,1058.7 213.1,1059.3 214.0,1059.5 214.9,1060.4 215.9,1059.9 216.8,1060.3 217.7,1060.5 218.7,1061.0 219.6,1061.8 220.5,1062.2 221.5,1062.7 222.4,1062.4 223.3,1062.8 224.3,1063.5 225.2,1063.9 226.1,1064.3 227.0,1064.6 228.0,1064.2 228.9,1063.9 229.8,1063.3 230.8,1063.8 231.7,1064.4 232.6,1064.9 233.6,1064.5 234.5,1064.0 235.4,1064.1 236.4,1064.2 237.3,1064.2 238.2,1064.0 239.2,1063.6 240.1,1063.8 241.0,1063.8 241.9,1064.4 242.9,1063.8 243.8,1063.5 244.7,1063.1 245.7,1063.4 246.6,1063.5 247.5,1063.7 248.5,1064.1 249.4,1064.4 250.3,1064.1 251.3,1063.2 252.2,1063.3 253.1,1063.3 254.1,1063.8 255.0,1063.7 255.9,1063.5 256.8,1062.9 257.8,1062.2 258.7,1061.8 259.6,1061.4 260.6,1060.9 261.5,1061.1 262.4,1060.9 263.4,1060.6 264.3,1059.8 265.2,1059.1 266.2,1059.3 267.1,1058.3 268.0,1058.1 269.0,1057.5 269.9,1057.4 270.8,1057.4 271.7,1057.2 272.7,1057.0 273.6,1056.4 274.5,1055.2 275.5,1055.2 276.4,1054.7 277.3,1054.6 278.3,1054.5 279.2,1054.3 280.1,1054.3 281.1,1053.8 282.0,1053.2 282.9,1052.7 283.8,1052.6 284.8,1052.5 285.7,1052.7 286.6,1052.4 287.6,1052.7 288.5,1051.6 289.4,1051.0 290.4,1050.1 291.3,1049.0 292.2,1047.5 293.2,1044.9 294.1,1043.1 295.0,1040.0 296.0,1036.9 296.9,1032.6 297.8,1028.8 298.7,1025.4 299.7,1021.1 300.6,1017.2 301.5,1012.9 302.5,1010.6 303.4,1008.5 304.3,1008.3 305.3,1007.8 306.2,1009.7 307.1,1012.0 308.1,1016.7 309.0,1021.5 309.9,1026.5 310.9,1031.3 311.8,1035.9 312.7,1040.8 313.6,1045.4 314.6,1049.5 315.5,1053.2 316.4,1056.6 317.4,1059.8 318.3,1062.1 319.2,1063.8 320.2,1065.3 321.1,1066.9 322.0,1067.9 323.0,1069.0 323.9,1070.1 324.8,1071.2 325.8,1071.4 326.7,1072.3 327.6,1073.1 328.5,1073.5 329.5,1073.2 330.4,1073.4 331.3,1073.6 332.3,1074.1 333.2,1074.1 334.1,1074.4 335.1,1074.4 336.0,1074.2 336.9,1074.5 337.9,1074.1 338.8,1075.4 339.7,1076.2 340.7,1077.3 341.6,1076.8 342.5,1076.7 343.4,1076.7 344.4,1077.0 345.3,1077.0 346.2,1076.4 347.2,1076.2 348.1,1075.8 349.0,1075.7 350.0,1075.3 350.9,1075.6 351.8,1076.2 352.8,1076.2 353.7,1076.6 354.6,1076.7 355.6,1077.0 356.5,1076.3 357.4,1075.8 358.3,1076.2 359.3,1076.2 360.2,1075.8 361.1,1075.6 362.1,1075.1 363.0,1075.4 363.9,1075.6 364.9,1076.3 365.8,1076.4 366.7,1076.2 367.7,1076.3 368.6,1076.0 369.5,1075.6 370.5,1075.2 371.4,1075.0 372.3,1075.5 373.2,1075.8 374.2,1075.7 375.1,1074.8 376.0,1073.8 377.0,1073.3 377.9,1073.5 378.8,1073.5 379.8,1073.1 380.7,1072.0 381.6,1071.7 382.6,1071.4 383.5,1071.2 384.4,1070.5 385.4,1070.5 386.3,1070.1 387.2,1070.2 388.1,1069.7 389.1,1069.5 390.0,1069.0 390.9,1068.3 391.9,1067.9 392.8,1067.4 393.7,1067.1 394.7,1067.4 395.6,1067.5 396.5,1068.0 397.5,1068.1 398.4,1067.3 399.3,1067.3 400.3,1066.6 401.2,1067.8 402.1,1067.5 403.0,1068.3 404.0,1068.8 404.9,1068.8 405.8,1069.0 406.8,1068.8 407.7,1068.9 408.6,1069.3 409.6,1069.6 410.5,1070.2 411.4,1070.0 412.4,1071.2 413.3,1071.5 414.2,1071.4 415.2,1070.4 416.1,1070.7 417.0,1071.4 417.9,1071.8 418.9,1071.9 419.8,1072.4 420.7,1072.4 421.7,1072.6 422.6,1072.4 423.5,1072.7 424.5,1073.7 425.4,1074.3 426.3,1074.7 427.3,1074.7 428.2,1075.0 429.1,1076.0 430.1,1076.1 431.0,1076.6 431.9,1076.5 432.8,1076.7 433.8,1077.0 434.7,1077.2 435.6,1077.7 436.6,1078.1 437.5,1078.7 438.4,1079.5 439.4,1079.6 440.3,1079.7 441.2,1080.3 442.2,1080.4 443.1,1080.7 444.0,1080.5 444.9,1081.1 445.9,1081.5 446.8,1081.5 447.7,1081.9 448.7,1082.2 449.6,1082.3 450.5,1082.2 451.5,1081.9 452.4,1082.0 453.3,1082.0 454.3,1081.7 455.2,1082.0 456.1,1082.5 457.1,1083.3 458.0,1083.4 458.9,1082.5 459.8,1082.4 460.8,1081.6 461.7,1081.8 462.6,1081.7 463.6,1081.4 464.5,1081.5 465.4,1080.8 466.4,1080.8 467.3,1080.1 468.2,1079.9 469.2,1079.5 470.1,1079.8 471.0,1079.7 472.0,1079.1 472.9,1078.3 473.8,1077.6 474.7,1077.3 475.7,1076.7 476.6,1076.3 477.5,1076.1 478.5,1075.2 479.4,1074.3 480.3,1073.8 481.3,1073.1 482.2,1072.1 483.1,1071.6 484.1,1071.5 485.0,1070.5 485.9,1068.8 486.9,1067.5 487.8,1066.5 488.7,1065.8 489.6,1064.5 490.6,1064.2 491.5,1062.9 492.4,1062.1 493.4,1061.3 494.3,1062.2 495.2,1062.7 496.2,1062.4 497.1,1062.0 498.0,1062.0 499.0,1062.0 499.9,1061.1 500.8,1060.1 501.8,1059.3 502.7,1057.8 503.6,1055.6 504.5,1052.0 505.5,1047.4 506.4,1041.2 507.3,1033.8 508.3,1024.6 509.2,1013.9 510.1,1001.5 511.1,987.9 512.0,973.4 512.9,957.7 513.9,943.4 514.8,930.5 515.7,921.4 516.7,916.0 517.6,916.7 518.5,922.6 519.4,932.6 520.4,945.3 521.3,960.5 522.2,977.0 523.2,994.1 524.1,1009.2 525.0,1023.0 526.0,1035.1 526.9,1046.6 527.8,1056.4 528.8,1064.3 529.7,1071.1 530.6,1075.9 531.6,1079.3 532.5,1081.1 533.4,1083.5 534.3,1085.7 535.3,1087.4 536.2,1088.6 537.1,1089.1 538.1,1090.3 539.0,1090.6 539.9,1090.7 540.9,1090.5 541.8,1090.3 542.7,1090.4 543.7,1091.0 544.6,1092.0 545.5,1093.3 546.5,1093.4 547.4,1093.3 548.3,1092.5 549.2,1093.0 550.2,1093.4 551.1,1093.7 552.0,1093.8 553.0,1094.0 553.9,1093.8 554.8,1094.0 555.8,1094.0 556.7,1094.6 557.6,1094.4 558.6,1095.1 559.5,1095.8 560.4,1096.6 561.4,1095.9 562.3,1095.4 563.2,1095.3 564.1,1095.4 565.1,1095.5 566.0,1094.9 566.9,1095.9 567.9,1096.5 568.8,1097.3 569.7,1096.9 570.7,1096.5 571.6,1096.4 572.5,1096.5 573.5,1096.5 574.4,1097.1 575.3,1096.8 576.3,1096.8 577.2,1096.9 578.1,1097.1 579.0,1097.6 580.0,1097.1 580.9,1096.5 581.8,1096.6 582.8,1096.4 583.7,1097.4 584.6,1096.8 585.6,1096.7 586.5,1096.5 587.4,1097.2 588.4,1097.8 589.3,1097.4 590.2,1097.5 591.2,1097.1 592.1,1097.4 593.0,1096.9 593.9,1097.2 594.9,1097.7 595.8,1097.7 596.7,1098.0 597.7,1098.0 598.6,1097.7 598.6,1127" fill="url(#gdb)"/>
<polyline points="115.3,842.8 116.2,843.0 117.2,843.9 118.1,844.6 119.0,844.1 120.0,844.3 120.9,843.7 121.8,844.4 122.7,844.5 123.7,845.1 124.6,844.9 125.5,845.0 126.5,844.4 127.4,844.2 128.3,844.5 129.3,845.0 130.2,845.0 131.1,844.6 132.1,844.8 133.0,846.0 133.9,846.8 134.9,847.2 135.8,846.1 136.7,845.8 137.6,845.8 138.6,846.7 139.5,847.0 140.4,846.8 141.4,847.4 142.3,847.9 143.2,848.0 144.2,847.1 145.1,847.4 146.0,847.4 147.0,848.3 147.9,848.3 148.8,848.2 149.8,848.0 150.7,847.2 151.6,847.9 152.5,847.9 153.5,848.9 154.4,849.0 155.3,848.9 156.3,848.7 157.2,848.4 158.1,848.4 159.1,848.9 160.0,848.7 160.9,848.7 161.9,848.0 162.8,848.0 163.7,847.4 164.7,847.9 165.6,848.0 166.5,848.7 167.4,848.2 168.4,848.2 169.3,848.1 170.2,848.3 171.2,849.6 172.1,850.4 173.0,850.7 174.0,849.3 174.9,849.1 175.8,848.4 176.8,849.3 177.7,849.3 178.6,849.8 179.6,849.5 180.5,849.5 181.4,849.0 182.3,849.3 183.3,849.0 184.2,849.2 185.1,848.9 186.1,849.2 187.0,849.8 187.9,850.3 188.9,850.7 189.8,850.8 190.7,850.4 191.7,850.7 192.6,850.0 193.5,850.2 194.5,849.5 195.4,849.8 196.3,849.7 197.2,849.9 198.2,850.6 199.1,851.1 200.0,850.4 201.0,850.2 201.9,850.5 202.8,851.7 203.8,852.3 204.7,851.6 205.6,850.7 206.6,849.8 207.5,850.0 208.4,850.9 209.4,851.1 210.3,850.7 211.2,850.4 212.1,850.1 213.1,850.0 214.0,850.5 214.9,851.9 215.9,852.0 216.8,852.1 217.7,851.1 218.7,850.8 219.6,849.3 220.5,849.8 221.5,849.9 222.4,851.6 223.3,851.4 224.3,851.5 225.2,850.0 226.1,850.4 227.0,850.2 228.0,850.7 228.9,849.3 229.8,849.8 230.8,850.2 231.7,850.7 232.6,850.4 233.6,850.1 234.5,850.7 235.4,850.6 236.4,851.1 237.3,850.6 238.2,850.3 239.2,849.4 240.1,848.6 241.0,848.4 241.9,848.9 242.9,849.9 243.8,849.9 244.7,849.6 245.7,848.7 246.6,848.8 247.5,848.8 248.5,849.8 249.4,849.6 250.3,849.7 251.3,850.0 252.2,850.1 253.1,850.0 254.1,848.6 255.0,848.0 255.9,847.9 256.8,848.4 257.8,849.1 258.7,848.6 259.6,848.3 260.6,848.5 261.5,849.2 262.4,849.1 263.4,848.1 264.3,847.8 265.2,848.0 266.2,848.7 267.1,848.2 268.0,848.7 269.0,848.4 269.9,848.3 270.8,846.7 271.7,846.3 272.7,845.7 273.6,846.2 274.5,846.3 275.5,846.1 276.4,846.6 277.3,845.9 278.3,845.7 279.2,845.0 280.1,844.6 281.1,844.7 282.0,844.6 282.9,844.5 283.8,844.6 284.8,843.9 285.7,843.5 286.6,841.8 287.6,840.3 288.5,838.9 289.4,837.9 290.4,836.9 291.3,835.6 292.2,832.8 293.2,830.2 294.1,826.5 295.0,824.8 296.0,821.6 296.9,818.4 297.8,813.6 298.7,810.0 299.7,805.9 300.6,802.4 301.5,797.7 302.5,795.1 303.4,792.9 304.3,792.4 305.3,792.2 306.2,792.9 307.1,794.6 308.1,797.2 309.0,800.9 309.9,804.7 310.9,808.5 311.8,812.2 312.7,816.5 313.6,820.6 314.6,824.3 315.5,827.9 316.4,829.8 317.4,832.2 318.3,834.2 319.2,836.5 320.2,837.5 321.1,838.7 322.0,840.2 323.0,841.2 323.9,841.7 324.8,841.8 325.8,842.3 326.7,842.4 327.6,843.1 328.5,843.6 329.5,844.0 330.4,844.2 331.3,845.0 332.3,845.5 333.2,846.5 334.1,846.6 335.1,846.5 336.0,846.1 336.9,846.5 337.9,847.9 338.8,849.0 339.7,849.2 340.7,849.3 341.6,848.8 342.5,849.7 343.4,849.5 344.4,850.4 345.3,850.5 346.2,850.8 347.2,850.8 348.1,850.4 349.0,850.7 350.0,851.2 350.9,853.3 351.8,853.8 352.8,853.6 353.7,851.9 354.6,852.2 355.6,851.8 356.5,852.0 357.4,851.9 358.3,852.3 359.3,853.3 360.2,853.8 361.1,854.2 362.1,853.6 363.0,852.9 363.9,852.8 364.9,853.3 365.8,854.2 366.7,855.0 367.7,855.2 368.6,854.9 369.5,855.1 370.5,854.7 371.4,855.1 372.3,855.6 373.2,856.9 374.2,856.9 375.1,856.4 376.0,856.6 377.0,857.6 377.9,857.4 378.8,856.9 379.8,856.5 380.7,857.7 381.6,857.7 382.6,858.1 383.5,857.7 384.4,859.0 385.4,859.1 386.3,859.3 387.2,858.5 388.1,858.9 389.1,859.4 390.0,859.2 390.9,859.1 391.9,858.5 392.8,858.8 393.7,858.4 394.7,858.5 395.6,858.7 396.5,858.9 397.5,859.8 398.4,860.5 399.3,860.9 400.3,860.4 401.2,860.5 402.1,860.0 403.0,859.8 404.0,860.0 404.9,861.1 405.8,862.3 406.8,862.0 407.7,861.4 408.6,861.0 409.6,861.4 410.5,861.7 411.4,861.8 412.4,861.1 413.3,861.1 414.2,861.8 415.2,862.6 416.1,862.7 417.0,862.1 417.9,861.8 418.9,862.5 419.8,862.6 420.7,862.8 421.7,861.9 422.6,862.0 423.5,862.3 424.5,863.5 425.4,863.6 426.3,863.3 427.3,863.3 428.2,863.7 429.1,863.8 430.1,863.8 431.0,864.1 431.9,864.7 432.8,864.9 433.8,864.7 434.7,864.2 435.6,864.0 436.6,863.7 437.5,863.5 438.4,863.9 439.4,863.8 440.3,864.6 441.2,864.4 442.2,864.9 443.1,864.8 444.0,864.9 444.9,865.4 445.9,865.1 446.8,864.8 447.7,864.3 448.7,865.1 449.6,865.6 450.5,865.3 451.5,864.5 452.4,863.8 453.3,864.1 454.3,864.3 455.2,865.4 456.1,864.7 457.1,865.0 458.0,864.2 458.9,864.6 459.8,864.1 460.8,863.7 461.7,864.0 462.6,864.4 463.6,863.9 464.5,864.3 465.4,863.8 466.4,864.8 467.3,864.4 468.2,865.0 469.2,864.6 470.1,864.7 471.0,864.2 472.0,863.6 472.9,863.4 473.8,863.6 474.7,864.6 475.7,863.5 476.6,863.1 477.5,862.6 478.5,862.7 479.4,862.6 480.3,862.9 481.3,863.7 482.2,863.3 483.1,862.9 484.1,862.7 485.0,863.1 485.9,862.5 486.9,862.0 487.8,861.2 488.7,860.6 489.6,860.5 490.6,860.6 491.5,861.2 492.4,860.4 493.4,859.1 494.3,857.9 495.2,857.6 496.2,858.1 497.1,857.6 498.0,856.3 499.0,855.7 499.9,854.2 500.8,853.1 501.8,850.4 502.7,847.4 503.6,844.2 504.5,838.9 505.5,833.4 506.4,826.1 507.3,818.4 508.3,809.1 509.2,797.4 510.1,784.5 511.1,771.1 512.0,756.6 512.9,742.2 513.9,727.5 514.8,715.9 515.7,707.9 516.7,704.4 517.6,705.4 518.5,710.3 519.4,719.7 520.4,731.3 521.3,745.4 522.2,759.8 523.2,774.7 524.1,788.7 525.0,801.3 526.0,812.6 526.9,822.9 527.8,831.6 528.8,839.1 529.7,843.9 530.6,848.3 531.6,851.6 532.5,854.7 533.4,857.2 534.3,858.4 535.3,859.3 536.2,859.5 537.1,859.1 538.1,859.1 539.0,859.7 539.9,861.7 540.9,862.5 541.8,863.3 542.7,863.8 543.7,864.2 544.6,864.6 545.5,865.0 546.5,865.6 547.4,864.9 548.3,865.0 549.2,864.9 550.2,865.3 551.1,865.0 552.0,865.0 553.0,865.7 553.9,866.0 554.8,866.8 555.8,866.7 556.7,866.3 557.6,865.8 558.6,866.0 559.5,866.3 560.4,867.5 561.4,867.2 562.3,867.2 563.2,866.6 564.1,867.0 565.1,867.3 566.0,866.8 566.9,866.8 567.9,867.2 568.8,867.6 569.7,867.4 570.7,867.3 571.6,867.4 572.5,867.8 573.5,866.6 574.4,866.0 575.3,865.4 576.3,866.5 577.2,867.0 578.1,867.6 579.0,868.0 580.0,867.9 580.9,867.6 581.8,868.1 582.8,867.9 583.7,868.1 584.6,868.0 585.6,868.4 586.5,867.6 587.4,867.2 588.4,867.0 589.3,867.7 590.2,868.0 591.2,868.3 592.1,868.3 593.0,868.3 593.9,868.3 594.9,868.4 595.8,868.3 596.7,868.2 597.7,868.1 598.6,867.8" fill="none" stroke="#dc1450" stroke-width="6" stroke-linejoin="round"/>
<polyline points="115.3,1059.8 116.2,1060.0 117.2,1060.0 118.1,1060.1 119.0,1059.9 120.0,1060.2 120.9,1060.0 121.8,1060.6 122.7,1059.7 123.7,1059.6 124.6,1059.6 125.5,1060.2 126.5,1060.3 127.4,1060.2 128.3,1059.9 129.3,1060.2 130.2,1059.4 131.1,1059.6 132.1,1059.4 133.0,1060.2 133.9,1060.6 134.9,1060.6 135.8,1060.9 136.7,1060.4 137.6,1060.1 138.6,1058.9 139.5,1059.5 140.4,1060.1 141.4,1060.7 142.3,1060.0 143.2,1059.7 144.2,1060.3 145.1,1060.5 146.0,1061.3 147.0,1060.9 147.9,1060.2 148.8,1059.9 149.8,1059.9 150.7,1060.5 151.6,1060.7 152.5,1060.7 153.5,1061.1 154.4,1060.5 155.3,1060.3 156.3,1060.0 157.2,1059.8 158.1,1060.3 159.1,1060.3 160.0,1060.4 160.9,1060.1 161.9,1059.8 162.8,1059.6 163.7,1059.5 164.7,1059.1 165.6,1059.3 166.5,1058.5 167.4,1058.5 168.4,1058.3 169.3,1058.2 170.2,1057.9 171.2,1057.4 172.1,1057.8 173.0,1057.5 174.0,1057.7 174.9,1057.8 175.8,1058.0 176.8,1057.2 177.7,1056.6 178.6,1056.6 179.6,1056.8 180.5,1056.9 181.4,1056.6 182.3,1056.6 183.3,1056.0 184.2,1055.5 185.1,1055.1 186.1,1055.0 187.0,1055.1 187.9,1055.2 188.9,1054.9 189.8,1054.6 190.7,1054.5 191.7,1054.1 192.6,1053.8 193.5,1053.4 194.5,1053.9 195.4,1054.1 196.3,1054.3 197.2,1054.2 198.2,1054.7 199.1,1055.0 200.0,1055.0 201.0,1055.0 201.9,1054.8 202.8,1056.1 203.8,1056.2 204.7,1056.7 205.6,1056.4 206.6,1056.8 207.5,1057.1 208.4,1057.8 209.4,1058.2 210.3,1058.7 211.2,1058.8 212.1,1058.7 213.1,1059.3 214.0,1059.5 214.9,1060.4 215.9,1059.9 216.8,1060.3 217.7,1060.5 218.7,1061.0 219.6,1061.8 220.5,1062.2 221.5,1062.7 222.4,1062.4 223.3,1062.8 224.3,1063.5 225.2,1063.9 226.1,1064.3 227.0,1064.6 228.0,1064.2 228.9,1063.9 229.8,1063.3 230.8,1063.8 231.7,1064.4 232.6,1064.9 233.6,1064.5 234.5,1064.0 235.4,1064.1 236.4,1064.2 237.3,1064.2 238.2,1064.0 239.2,1063.6 240.1,1063.8 241.0,1063.8 241.9,1064.4 242.9,1063.8 243.8,1063.5 244.7,1063.1 245.7,1063.4 246.6,1063.5 247.5,1063.7 248.5,1064.1 249.4,1064.4 250.3,1064.1 251.3,1063.2 252.2,1063.3 253.1,1063.3 254.1,1063.8 255.0,1063.7 255.9,1063.5 256.8,1062.9 257.8,1062.2 258.7,1061.8 259.6,1061.4 260.6,1060.9 261.5,1061.1 262.4,1060.9 263.4,1060.6 264.3,1059.8 265.2,1059.1 266.2,1059.3 267.1,1058.3 268.0,1058.1 269.0,1057.5 269.9,1057.4 270.8,1057.4 271.7,1057.2 272.7,1057.0 273.6,1056.4 274.5,1055.2 275.5,1055.2 276.4,1054.7 277.3,1054.6 278.3,1054.5 279.2,1054.3 280.1,1054.3 281.1,1053.8 282.0,1053.2 282.9,1052.7 283.8,1052.6 284.8,1052.5 285.7,1052.7 286.6,1052.4 287.6,1052.7 288.5,1051.6 289.4,1051.0 290.4,1050.1 291.3,1049.0 292.2,1047.5 293.2,1044.9 294.1,1043.1 295.0,1040.0 296.0,1036.9 296.9,1032.6 297.8,1028.8 298.7,1025.4 299.7,1021.1 300.6,1017.2 301.5,1012.9 302.5,1010.6 303.4,1008.5 304.3,1008.3 305.3,1007.8 306.2,1009.7 307.1,1012.0 308.1,1016.7 309.0,1021.5 309.9,1026.5 310.9,1031.3 311.8,1035.9 312.7,1040.8 313.6,1045.4 314.6,1049.5 315.5,1053.2 316.4,1056.6 317.4,1059.8 318.3,1062.1 319.2,1063.8 320.2,1065.3 321.1,1066.9 322.0,1067.9 323.0,1069.0 323.9,1070.1 324.8,1071.2 325.8,1071.4 326.7,1072.3 327.6,1073.1 328.5,1073.5 329.5,1073.2 330.4,1073.4 331.3,1073.6 332.3,1074.1 333.2,1074.1 334.1,1074.4 335.1,1074.4 336.0,1074.2 336.9,1074.5 337.9,1074.1 338.8,1075.4 339.7,1076.2 340.7,1077.3 341.6,1076.8 342.5,1076.7 343.4,1076.7 344.4,1077.0 345.3,1077.0 346.2,1076.4 347.2,1076.2 348.1,1075.8 349.0,1075.7 350.0,1075.3 350.9,1075.6 351.8,1076.2 352.8,1076.2 353.7,1076.6 354.6,1076.7 355.6,1077.0 356.5,1076.3 357.4,1075.8 358.3,1076.2 359.3,1076.2 360.2,1075.8 361.1,1075.6 362.1,1075.1 363.0,1075.4 363.9,1075.6 364.9,1076.3 365.8,1076.4 366.7,1076.2 367.7,1076.3 368.6,1076.0 369.5,1075.6 370.5,1075.2 371.4,1075.0 372.3,1075.5 373.2,1075.8 374.2,1075.7 375.1,1074.8 376.0,1073.8 377.0,1073.3 377.9,1073.5 378.8,1073.5 379.8,1073.1 380.7,1072.0 381.6,1071.7 382.6,1071.4 383.5,1071.2 384.4,1070.5 385.4,1070.5 386.3,1070.1 387.2,1070.2 388.1,1069.7 389.1,1069.5 390.0,1069.0 390.9,1068.3 391.9,1067.9 392.8,1067.4 393.7,1067.1 394.7,1067.4 395.6,1067.5 396.5,1068.0 397.5,1068.1 398.4,1067.3 399.3,1067.3 400.3,1066.6 401.2,1067.8 402.1,1067.5 403.0,1068.3 404.0,1068.8 404.9,1068.8 405.8,1069.0 406.8,1068.8 407.7,1068.9 408.6,1069.3 409.6,1069.6 410.5,1070.2 411.4,1070.0 412.4,1071.2 413.3,1071.5 414.2,1071.4 415.2,1070.4 416.1,1070.7 417.0,1071.4 417.9,1071.8 418.9,1071.9 419.8,1072.4 420.7,1072.4 421.7,1072.6 422.6,1072.4 423.5,1072.7 424.5,1073.7 425.4,1074.3 426.3,1074.7 427.3,1074.7 428.2,1075.0 429.1,1076.0 430.1,1076.1 431.0,1076.6 431.9,1076.5 432.8,1076.7 433.8,1077.0 434.7,1077.2 435.6,1077.7 436.6,1078.1 437.5,1078.7 438.4,1079.5 439.4,1079.6 440.3,1079.7 441.2,1080.3 442.2,1080.4 443.1,1080.7 444.0,1080.5 444.9,1081.1 445.9,1081.5 446.8,1081.5 447.7,1081.9 448.7,1082.2 449.6,1082.3 450.5,1082.2 451.5,1081.9 452.4,1082.0 453.3,1082.0 454.3,1081.7 455.2,1082.0 456.1,1082.5 457.1,1083.3 458.0,1083.4 458.9,1082.5 459.8,1082.4 460.8,1081.6 461.7,1081.8 462.6,1081.7 463.6,1081.4 464.5,1081.5 465.4,1080.8 466.4,1080.8 467.3,1080.1 468.2,1079.9 469.2,1079.5 470.1,1079.8 471.0,1079.7 472.0,1079.1 472.9,1078.3 473.8,1077.6 474.7,1077.3 475.7,1076.7 476.6,1076.3 477.5,1076.1 478.5,1075.2 479.4,1074.3 480.3,1073.8 481.3,1073.1 482.2,1072.1 483.1,1071.6 484.1,1071.5 485.0,1070.5 485.9,1068.8 486.9,1067.5 487.8,1066.5 488.7,1065.8 489.6,1064.5 490.6,1064.2 491.5,1062.9 492.4,1062.1 493.4,1061.3 494.3,1062.2 495.2,1062.7 496.2,1062.4 497.1,1062.0 498.0,1062.0 499.0,1062.0 499.9,1061.1 500.8,1060.1 501.8,1059.3 502.7,1057.8 503.6,1055.6 504.5,1052.0 505.5,1047.4 506.4,1041.2 507.3,1033.8 508.3,1024.6 509.2,1013.9 510.1,1001.5 511.1,987.9 512.0,973.4 512.9,957.7 513.9,943.4 514.8,930.5 515.7,921.4 516.7,916.0 517.6,916.7 518.5,922.6 519.4,932.6 520.4,945.3 521.3,960.5 522.2,977.0 523.2,994.1 524.1,1009.2 525.0,1023.0 526.0,1035.1 526.9,1046.6 527.8,1056.4 528.8,1064.3 529.7,1071.1 530.6,1075.9 531.6,1079.3 532.5,1081.1 533.4,1083.5 534.3,1085.7 535.3,1087.4 536.2,1088.6 537.1,1089.1 538.1,1090.3 539.0,1090.6 539.9,1090.7 540.9,1090.5 541.8,1090.3 542.7,1090.4 543.7,1091.0 544.6,1092.0 545.5,1093.3 546.5,1093.4 547.4,1093.3 548.3,1092.5 549.2,1093.0 550.2,1093.4 551.1,1093.7 552.0,1093.8 553.0,1094.0 553.9,1093.8 554.8,1094.0 555.8,1094.0 556.7,1094.6 557.6,1094.4 558.6,1095.1 559.5,1095.8 560.4,1096.6 561.4,1095.9 562.3,1095.4 563.2,1095.3 564.1,1095.4 565.1,1095.5 566.0,1094.9 566.9,1095.9 567.9,1096.5 568.8,1097.3 569.7,1096.9 570.7,1096.5 571.6,1096.4 572.5,1096.5 573.5,1096.5 574.4,1097.1 575.3,1096.8 576.3,1096.8 577.2,1096.9 578.1,1097.1 579.0,1097.6 580.0,1097.1 580.9,1096.5 581.8,1096.6 582.8,1096.4 583.7,1097.4 584.6,1096.8 585.6,1096.7 586.5,1096.5 587.4,1097.2 588.4,1097.8 589.3,1097.4 590.2,1097.5 591.2,1097.1 592.1,1097.4 593.0,1096.9 593.9,1097.2 594.9,1097.7 595.8,1097.7 596.7,1098.0 597.7,1098.0 598.6,1097.7" fill="none" stroke="#3b6089" stroke-width="6" stroke-linejoin="round"/>
<line x1="305" y1="704" x2="305" y2="1054" stroke="#404040" stroke-width="2" stroke-dasharray="11 7"/>
<line x1="517" y1="684" x2="517" y2="1006" stroke="#404040" stroke-width="2" stroke-dasharray="11 7"/>
<line x1="198.3" y1="1018.5" x2="198.3" y2="1075.5" stroke="#404040" stroke-width="2" stroke-dasharray="11 7"/>
<line x1="280.8" y1="1018.5" x2="280.8" y2="1075.5" stroke="#404040" stroke-width="2" stroke-dasharray="11 7"/>
<line x1="395.5" y1="1029.3" x2="395.5" y2="1086" stroke="#404040" stroke-width="2" stroke-dasharray="11 7"/>
<line x1="491.8" y1="1029.3" x2="491.8" y2="1086" stroke="#404040" stroke-width="2" stroke-dasharray="11 7"/>
<line x1="227.2" y1="970.6" x2="200.2" y2="1008.2" stroke="#8bb0a6" stroke-width="2"/>
<line x1="234.8" y1="969" x2="279.1" y2="1013" stroke="#8bb0a6" stroke-width="2"/>
<line x1="421.2" y1="973.3" x2="396.6" y2="1022.5" stroke="#8bb0a6" stroke-width="2"/>
<line x1="429.8" y1="971.1" x2="487.2" y2="1027.4" stroke="#8bb0a6" stroke-width="2"/>
<text transform="translate(208.3,964.5) scale(0.9569,1)" font-size="32.9" font-weight="bold" fill="#8bb0a6"><tspan dy="0.0">Cu</tspan><tspan dy="-15.0" font-size="21.7">2+</tspan></text>
<text transform="translate(401.5,965.7) scale(0.9569,1)" font-size="32.9" font-weight="bold" fill="#8bb0a6"><tspan dy="0.0">Cu</tspan><tspan dy="-15.0" font-size="21.7">2+</tspan></text>
<text transform="translate(251.2,689.6) scale(0.9569,1)" font-size="31.7" font-weight="bold" fill="#d99a1c"><tspan dy="0.0">Cu</tspan><tspan dy="-14.4" font-size="20.9">+</tspan><tspan dy="14.4">/Cu</tspan><tspan dy="-14.4" font-size="20.9">0</tspan></text>
<text transform="translate(465.1,675.6) scale(0.9569,1)" font-size="31.7" font-weight="bold" fill="#d99a1c"><tspan dy="0.0">Cu</tspan><tspan dy="-14.4" font-size="20.9">+</tspan><tspan dy="14.4">/Cu</tspan><tspan dy="-14.4" font-size="20.9">0</tspan></text>
<text transform="translate(121.4,678) scale(0.9569,1)" font-size="36.9" font-weight="bold" fill="#000"><tspan dy="0.0">Cu 2</tspan><tspan dy="0.0" font-style="italic">p</tspan></text>
<text x="123.5" y="897.5" font-size="40.3" font-weight="bold" fill="#dc1450" textLength="135.1" lengthAdjust="spacingAndGlyphs">Cu-12C</text>
<text x="126.1" y="1105" font-size="41.6" font-weight="bold" fill="#3b6089" textLength="53.1" lengthAdjust="spacingAndGlyphs">Cu</text>
<rect x="115.3" y="636.6" width="483.3" height="490.9" fill="none" stroke="#000" stroke-width="2"/>
<line x1="115.3" y1="1127.5" x2="115.3" y2="1119.0" stroke="#000" stroke-width="2"/>
<line x1="169.0" y1="1127.5" x2="169.0" y2="1123.3" stroke="#000" stroke-width="2"/>
<line x1="222.7" y1="1127.5" x2="222.7" y2="1119.0" stroke="#000" stroke-width="2"/>
<line x1="276.4" y1="1127.5" x2="276.4" y2="1123.3" stroke="#000" stroke-width="2"/>
<line x1="330.1" y1="1127.5" x2="330.1" y2="1119.0" stroke="#000" stroke-width="2"/>
<line x1="383.8" y1="1127.5" x2="383.8" y2="1123.3" stroke="#000" stroke-width="2"/>
<line x1="437.5" y1="1127.5" x2="437.5" y2="1119.0" stroke="#000" stroke-width="2"/>
<line x1="491.2" y1="1127.5" x2="491.2" y2="1123.3" stroke="#000" stroke-width="2"/>
<line x1="544.9" y1="1127.5" x2="544.9" y2="1119.0" stroke="#000" stroke-width="2"/>
<line x1="598.6" y1="1127.5" x2="598.6" y2="1123.3" stroke="#000" stroke-width="2"/>
<text x="88.2" y="1163.2" font-size="33.6" font-weight="bold" textLength="53.7" lengthAdjust="spacingAndGlyphs">970</text>
<text x="195.6" y="1163.2" font-size="33.6" font-weight="bold" textLength="53.7" lengthAdjust="spacingAndGlyphs">960</text>
<text x="303.0" y="1163.2" font-size="33.6" font-weight="bold" textLength="53.7" lengthAdjust="spacingAndGlyphs">950</text>
<text x="410.4" y="1163.2" font-size="33.6" font-weight="bold" textLength="53.7" lengthAdjust="spacingAndGlyphs">940</text>
<text x="517.8" y="1163.2" font-size="33.6" font-weight="bold" textLength="53.7" lengthAdjust="spacingAndGlyphs">930</text>
<text x="213.3" y="1207" font-size="34.5" font-weight="bold" textLength="319.1" lengthAdjust="spacingAndGlyphs">Binding energy (eV)</text>
<text transform="translate(86.4,1051.9) rotate(-90)" font-size="55.9" font-weight="bold" textLength="371.6" lengthAdjust="spacingAndGlyphs">Intensity (a.u.)</text>
<text x="0.5" y="676.2" font-size="54.8" font-weight="bold" textLength="34.2" lengthAdjust="spacingAndGlyphs">d</text>
<defs><linearGradient id="ger" gradientUnits="userSpaceOnUse" x1="0" y1="710" x2="0" y2="885"><stop offset="0" stop-color="#d6173f" stop-opacity="0.85"/><stop offset="0.5" stop-color="#e7a0ac" stop-opacity="0.6"/><stop offset="1" stop-color="#fff" stop-opacity="0"/></linearGradient></defs>
<polygon points="1062.5,886 1062.5,874.1 1064.0,874.9 1065.5,873.3 1067.0,870.4 1068.5,869.1 1070.0,868.5 1071.5,867.9 1073.0,867.0 1074.5,865.7 1076.0,864.2 1077.5,862.2 1079.0,859.8 1080.5,856.3 1082.0,851.6 1083.5,846.2 1085.0,839.9 1086.5,832.1 1088.0,823.7 1089.5,814.5 1091.0,805.6 1092.5,797.2 1094.0,789.1 1095.5,780.8 1097.0,777.7 1098.5,776.3 1100.0,776.2 1101.5,777.2 1103.0,778.8 1104.5,781.6 1106.0,785.0 1107.5,788.6 1109.0,792.2 1110.5,794.2 1112.0,795.3 1113.5,794.5 1115.0,792.0 1116.5,788.8 1118.0,784.1 1119.5,777.7 1121.0,767.5 1122.5,756.7 1124.0,745.6 1125.5,734.4 1127.0,723.6 1128.5,713.5 1130.0,710.6 1131.5,709.9 1133.0,713.5 1134.5,717.7 1136.0,721.7 1137.5,727.7 1139.0,739.7 1140.5,753.3 1142.0,768.0 1143.5,781.8 1145.0,794.2 1146.5,805.7 1148.0,816.8 1149.5,827.1 1151.0,836.9 1152.5,846.1 1154.0,852.4 1155.5,856.6 1157.0,859.9 1158.5,863.3 1160.0,866.9 1161.5,870.5 1163.0,874.1 1164.5,877.9 1166.0,881.3 1167.5,882.8 1169.0,883.9 1170.5,884.4 1170.5,886" fill="url(#ger)"/>
<polyline points="786.6,874.9 788.7,875.5 790.8,879.0 792.9,878.0 795.0,875.3 797.2,875.6 799.3,876.7 801.4,877.6 803.5,878.2 805.6,878.5 807.7,878.1 809.8,879.1 811.9,876.8 814.0,873.6 816.1,877.5 818.3,877.2 820.4,877.9 822.5,878.6 824.6,878.1 826.7,878.8 828.8,878.4 830.9,880.2 833.0,881.0 835.1,880.6 837.2,883.9 839.4,884.7 841.5,880.8 843.6,882.0 845.7,884.4 847.8,884.8 849.9,886.1 852.0,883.3 854.1,882.4 856.2,885.1 858.3,883.8 860.5,882.7 862.6,878.8 864.7,877.8 866.8,884.0 868.9,882.5 871.0,879.5 873.1,882.2 875.2,883.7 877.3,885.5 879.4,882.5 881.6,880.5 883.7,883.9 885.8,882.2 887.9,881.0 890.0,885.2 892.1,887.0 894.2,885.3 896.3,880.2 898.4,879.4 900.5,883.3 902.7,883.0 904.8,882.3 906.9,886.6 909.0,886.3 911.1,880.9 913.2,881.4 915.3,882.1 917.4,881.3 919.5,881.5 921.6,882.8 923.8,883.1 925.9,880.5 928.0,879.9 930.1,881.9 932.2,881.4 934.3,882.2 936.4,883.7 938.5,880.8 940.6,880.1 942.7,883.9 944.9,885.4 947.0,882.6 949.1,881.6 951.2,880.7 953.3,877.6 955.4,879.1 957.5,881.2 959.6,881.0 961.7,880.4 963.8,879.8 966.0,878.9 968.1,878.7 970.2,880.2 972.3,879.2 974.4,878.8 976.5,876.3 978.6,873.9 980.7,878.0 982.8,881.7 984.9,880.6 987.1,878.6 989.2,877.1 991.3,878.1 993.4,881.2 995.5,879.2 997.6,879.3 999.7,882.3 1001.8,882.2 1003.9,880.2 1006.1,880.4 1008.2,879.9 1010.3,881.2 1012.4,883.4 1014.5,880.0 1016.6,881.6 1018.7,884.6 1020.8,882.1 1022.9,883.5 1025.0,883.1 1027.2,880.6 1029.3,883.5 1031.4,880.2 1033.5,880.0 1035.6,882.9 1037.7,881.6 1039.8,880.4 1040.0,881.8 1041.5,880.4 1043.0,879.2 1044.5,878.5 1046.0,878.4 1047.5,878.4 1049.0,878.4 1050.5,878.4 1052.0,877.4 1053.5,875.2 1055.0,872.8 1056.5,870.7 1058.0,869.8 1059.5,870.5 1061.0,872.3 1062.5,874.1 1064.0,874.9 1065.5,873.3 1067.0,870.4 1068.5,869.1 1070.0,868.5 1071.5,867.9 1073.0,867.0 1074.5,865.7 1076.0,864.2 1077.5,862.2 1079.0,859.8 1080.5,856.3 1082.0,851.6 1083.5,846.2 1085.0,839.9 1086.5,832.1 1088.0,823.7 1089.5,814.5 1091.0,805.6 1092.5,797.2 1094.0,789.1 1095.5,780.8 1097.0,777.7 1098.5,776.3 1100.0,776.2 1101.5,777.2 1103.0,778.8 1104.5,781.6 1106.0,785.0 1107.5,788.6 1109.0,792.2 1110.5,794.2 1112.0,795.3 1113.5,794.5 1115.0,792.0 1116.5,788.8 1118.0,784.1 1119.5,777.7 1121.0,767.5 1122.5,756.7 1124.0,745.6 1125.5,734.4 1127.0,723.6 1128.5,713.5 1130.0,710.6 1131.5,709.9 1133.0,713.5 1134.5,717.7 1136.0,721.7 1137.5,727.7 1139.0,739.7 1140.5,753.3 1142.0,768.0 1143.5,781.8 1145.0,794.2 1146.5,805.7 1148.0,816.8 1149.5,827.1 1151.0,836.9 1152.5,846.1 1154.0,852.4 1155.5,856.6 1157.0,859.9 1158.5,863.3 1160.0,866.9 1161.5,870.5 1163.0,874.1 1164.5,877.9 1166.0,881.3 1167.5,882.8 1169.0,883.9 1170.5,884.4 1172.0,884.4 1173.5,884.4 1175.0,884.4 1176.5,884.9 1178.0,886.1 1179.5,887.3 1181.0,887.8 1182.5,887.8 1184.0,887.8 1185.5,887.7 1187.0,887.6 1188.5,887.5 1190.0,887.4 1191.5,887.3 1193.0,887.2 1194.5,887.0 1196.0,886.8 1197.5,886.3 1199.0,885.7 1200.2,887.8 1202.3,883.5 1204.4,884.3 1206.5,885.7 1208.6,883.0 1210.7,883.1 1212.8,886.6 1215.0,888.9 1217.1,888.7 1219.2,886.1 1221.3,888.4 1223.4,888.3 1225.5,885.3 1227.6,885.1 1229.7,886.9 1231.8,889.5 1233.9,889.3 1236.1,889.1 1238.2,888.3 1240.3,888.7 1242.4,886.8 1244.5,888.1 1246.6,891.8 1248.7,890.5 1250.8,889.7 1252.9,890.8 1255.0,893.0 1257.2,893.5 1259.3,891.9 1261.4,891.1 1263.5,889.6 1265.6,889.8 1267.7,892.0 1269.8,892.7" fill="none" stroke="#dc1450" stroke-width="6" stroke-linejoin="round"/>
<polyline points="786.6,1031.9 788.7,1031.8 790.8,1031.2 792.9,1031.4 795.0,1029.9 797.2,1030.5 799.3,1030.9 801.4,1030.5 803.5,1031.7 805.6,1031.9 807.7,1031.9 809.8,1030.0 811.9,1030.9 814.0,1031.9 816.1,1031.0 818.3,1030.9 820.4,1031.7 822.5,1032.3 824.6,1031.6 826.7,1029.4 828.8,1028.8 830.9,1030.3 833.0,1032.3 835.1,1032.5 837.2,1030.8 839.4,1031.5 841.5,1031.4 843.6,1030.3 845.7,1030.5 847.8,1029.2 849.9,1029.9 852.0,1031.6 854.1,1030.4 856.2,1029.0 858.3,1029.4 860.5,1031.7 862.6,1030.9 864.7,1028.7 866.8,1029.6 868.9,1029.1 871.0,1026.7 873.1,1027.7 875.2,1029.0 877.3,1029.2 879.4,1029.3 881.6,1029.8 883.7,1030.1 885.8,1029.2 887.9,1029.0 890.0,1030.1 892.1,1031.3 894.2,1031.5 896.3,1031.3 898.4,1027.5 900.5,1025.9 902.7,1028.6 904.8,1029.6 906.9,1028.4 909.0,1029.5 911.1,1031.2 913.2,1029.3 915.3,1029.2 917.4,1029.4 919.5,1028.6 921.6,1029.3 923.8,1029.5 925.9,1027.8 928.0,1027.6 930.1,1028.8 932.2,1028.3 934.3,1029.5 936.4,1029.5 938.5,1029.9 940.6,1031.7 942.7,1029.2 944.9,1028.5 947.0,1030.4 949.1,1030.1 951.2,1027.9 953.3,1028.2 955.4,1031.0 957.5,1029.6 959.6,1028.2 961.7,1029.6 963.8,1028.9 966.0,1028.6 968.1,1028.4 970.2,1029.6 972.3,1030.4 974.4,1028.6 976.5,1029.4 978.6,1029.1 980.7,1028.3 982.8,1029.6 984.9,1030.0 987.1,1030.2 989.2,1030.0 991.3,1029.7 993.4,1029.6 995.5,1029.9 997.6,1030.9 999.7,1029.9 1001.8,1029.1 1003.9,1030.1 1006.1,1029.2 1008.2,1028.2 1010.3,1028.4 1012.4,1027.6 1014.5,1026.0 1016.6,1027.9 1018.7,1027.7 1020.8,1028.4 1022.9,1029.5 1025.0,1028.4 1027.2,1028.7 1029.3,1028.9 1031.4,1028.5 1033.5,1027.8 1035.6,1027.9 1037.7,1029.2 1039.8,1030.3 1041.9,1030.5 1044.0,1029.8 1046.1,1028.4 1048.3,1026.6 1050.4,1027.3 1052.5,1029.6 1054.6,1028.6 1056.7,1028.6 1058.8,1030.1 1060.9,1029.4 1063.0,1029.2 1065.1,1029.4 1067.2,1026.9 1069.4,1026.1 1071.5,1027.3 1073.6,1028.2 1075.7,1027.8 1077.8,1026.9 1079.9,1026.8 1082.0,1027.1 1084.1,1028.0 1086.2,1028.9 1088.3,1029.6 1090.5,1028.8 1092.6,1028.3 1094.7,1028.3 1096.8,1028.1 1098.9,1029.4 1101.0,1027.0 1103.1,1025.5 1105.2,1028.0 1107.3,1029.1 1109.4,1027.9 1111.6,1027.1 1113.7,1028.9 1115.8,1028.2 1117.9,1025.6 1120.0,1025.7 1122.1,1026.3 1124.2,1027.2 1126.3,1027.5 1128.4,1028.5 1130.5,1029.4 1132.7,1027.1 1134.8,1026.5 1136.9,1026.2 1139.0,1027.0 1141.1,1029.3 1143.2,1028.7 1145.3,1028.2 1147.4,1027.5 1149.5,1027.0 1151.6,1029.9 1153.8,1028.3 1155.9,1027.3 1158.0,1029.6 1160.1,1026.8 1162.2,1024.5 1164.3,1025.3 1166.4,1027.4 1168.5,1027.9 1170.6,1026.8 1172.7,1027.8 1174.9,1028.1 1177.0,1027.6 1179.1,1027.2 1181.2,1028.0 1183.3,1027.6 1185.4,1028.1 1187.5,1028.5 1189.6,1026.2 1191.7,1027.1 1193.9,1028.2 1196.0,1025.8 1198.1,1025.6 1200.2,1026.1 1202.3,1025.2 1204.4,1027.1 1206.5,1027.0 1208.6,1026.6 1210.7,1027.1 1212.8,1028.5 1215.0,1028.7 1217.1,1025.9 1219.2,1025.0 1221.3,1025.2 1223.4,1026.3 1225.5,1027.1 1227.6,1027.8 1229.7,1028.0 1231.8,1027.2 1233.9,1027.3 1236.1,1027.1 1238.2,1027.0 1240.3,1027.8 1242.4,1028.2 1244.5,1027.0 1246.6,1024.7 1248.7,1024.5 1250.8,1026.3 1252.9,1024.8 1255.0,1024.1 1257.2,1026.7 1259.3,1026.6 1261.4,1025.2 1263.5,1027.2 1265.6,1029.5 1267.7,1027.6 1269.8,1027.6" fill="none" stroke="#3b6089" stroke-width="5" stroke-linejoin="round"/>
<text transform="translate(792.2,676.6) scale(0.9569,1)" font-size="36.9" font-weight="bold" fill="#000"><tspan dy="0.0">S 2</tspan><tspan dy="0.0" font-style="italic">p</tspan></text>
<text x="792.5" y="930" font-size="40.3" font-weight="bold" fill="#dc1450" textLength="135.1" lengthAdjust="spacingAndGlyphs">Cu-12C</text>
<text x="798.0" y="1083.5" font-size="40.8" font-weight="bold" fill="#3b6089" textLength="52.0" lengthAdjust="spacingAndGlyphs">Cu</text>
<rect x="786.6" y="635.2" width="484.7" height="492.1" fill="none" stroke="#000" stroke-width="2"/>
<line x1="786.6" y1="1127.3" x2="786.6" y2="1118.8" stroke="#000" stroke-width="2"/>
<line x1="853.9" y1="1127.3" x2="853.9" y2="1123.1" stroke="#000" stroke-width="2"/>
<line x1="921.2" y1="1127.3" x2="921.2" y2="1118.8" stroke="#000" stroke-width="2"/>
<line x1="988.5" y1="1127.3" x2="988.5" y2="1123.1" stroke="#000" stroke-width="2"/>
<line x1="1055.8" y1="1127.3" x2="1055.8" y2="1118.8" stroke="#000" stroke-width="2"/>
<line x1="1123.1" y1="1127.3" x2="1123.1" y2="1123.1" stroke="#000" stroke-width="2"/>
<line x1="1190.4" y1="1127.3" x2="1190.4" y2="1118.8" stroke="#000" stroke-width="2"/>
<line x1="1257.7" y1="1127.3" x2="1257.7" y2="1123.1" stroke="#000" stroke-width="2"/>
<text x="759.4" y="1162.6" font-size="33.6" font-weight="bold" textLength="53.7" lengthAdjust="spacingAndGlyphs">175</text>
<text x="894.2" y="1162.6" font-size="33.6" font-weight="bold" textLength="53.7" lengthAdjust="spacingAndGlyphs">170</text>
<text x="1028.6" y="1162.6" font-size="33.6" font-weight="bold" textLength="53.7" lengthAdjust="spacingAndGlyphs">165</text>
<text x="1163.4" y="1162.6" font-size="33.6" font-weight="bold" textLength="53.7" lengthAdjust="spacingAndGlyphs">160</text>
<text x="885.1" y="1206.5" font-size="34.4" font-weight="bold" textLength="319.0" lengthAdjust="spacingAndGlyphs">Binding energy (eV)</text>
<text transform="translate(757.8,1051.6) rotate(-90)" font-size="56.3" font-weight="bold" textLength="374.2" lengthAdjust="spacingAndGlyphs">Intensity (a.u.)</text>
<text x="690.2" y="675.9" font-size="52.2" font-weight="bold" textLength="32.7" lengthAdjust="spacingAndGlyphs">e</text>
<defs><radialGradient id="sph" cx="0.36" cy="0.3" r="0.8"><stop offset="0" stop-color="#f4f6f8"/><stop offset="0.18" stop-color="#b4bfca"/><stop offset="0.5" stop-color="#8394a7"/><stop offset="1" stop-color="#66798e"/></radialGradient></defs>
<line x1="1523.8" y1="1007.5" x2="1621.3" y2="883.3" stroke="#7b8da1" stroke-width="4"/>
<line x1="1640.5" y1="868.6" x2="1730.6" y2="831.2" stroke="#7b8da1" stroke-width="4"/>
<line x1="1753.4" y1="821.1" x2="1843.9" y2="779.1" stroke="#7b8da1" stroke-width="4"/>
<line x1="1865.9" y1="767.3" x2="1957.4" y2="711.1" stroke="#7b8da1" stroke-width="4"/>
<circle cx="1516.1" cy="1017.4" r="8.2" fill="url(#sph)"/>
<path d="M1629 864.3V882.6M1624 864.3H1634M1624 882.6H1634" stroke="#7b8da1" stroke-width="1.6" fill="none"/>
<circle cx="1629" cy="873.4" r="8.2" fill="url(#sph)"/>
<path d="M1742.1 810.9V841.9M1737.1 810.9H1747.1M1737.1 841.9H1747.1" stroke="#7b8da1" stroke-width="1.6" fill="none"/>
<circle cx="1742.1" cy="826.4" r="8.2" fill="url(#sph)"/>
<path d="M1855.2 761.9V785.7M1850.2 761.9H1860.2M1850.2 785.7H1860.2" stroke="#7b8da1" stroke-width="1.6" fill="none"/>
<circle cx="1855.2" cy="773.8" r="8.2" fill="url(#sph)"/>
<path d="M1968.1 694.4V714.8M1963.1 694.4H1973.1M1963.1 714.8H1973.1" stroke="#7b8da1" stroke-width="1.6" fill="none"/>
<circle cx="1968.1" cy="704.6" r="8.2" fill="url(#sph)"/>
<text x="1496.6" y="982.7" font-size="38.0" font-weight="bold" fill="#bcc5d0" textLength="57.5" lengthAdjust="spacingAndGlyphs">43°</text>
<text x="1606.5" y="841.3" font-size="39.1" font-weight="bold" fill="#a9b3c0" textLength="59.1" lengthAdjust="spacingAndGlyphs">95°</text>
<text x="1709.1" y="798.3" font-size="39.5" font-weight="bold" fill="#8a9ab0" textLength="79.6" lengthAdjust="spacingAndGlyphs">112°</text>
<text x="1820.4" y="745.4" font-size="38.2" font-weight="bold" fill="#62748c" textLength="79.1" lengthAdjust="spacingAndGlyphs">131°</text>
<text x="1936.5" y="684.4" font-size="38.6" font-weight="bold" fill="#4a5a6e" textLength="79.8" lengthAdjust="spacingAndGlyphs">156°</text>
<defs><linearGradient id="sub" x1="0" y1="0" x2="0" y2="1"><stop offset="0" stop-color="#3a3a38"/><stop offset="0.3" stop-color="#1c1c1a"/><stop offset="0.55" stop-color="#8a8a88"/><stop offset="1" stop-color="#e8e8e8"/></linearGradient><filter id="b1" x="-10%" y="-10%" width="120%" height="120%"><feGaussianBlur stdDeviation="0.9"/></filter></defs>
<g filter="url(#b1)">
<rect x="1467" y="1117.5" width="105" height="12.5" fill="url(#sub)"/>
<path d="M1486.5 1119 Q1519.8 1091.5 1553 1119 Z" fill="#151513"/>
<rect x="1579.4" y="1117.5" width="97.3" height="16.5" fill="url(#sub)"/>
<path d="M1601.9 1120 A28.5 28.5 0 1 1 1653.5 1120 Z" fill="#131311"/>
<rect x="1616" y="1100.5" width="26.3" height="17.5" rx="3.5" fill="#fff"/>
<rect x="1684.5" y="1115.5" width="109.5" height="11.5" fill="url(#sub)"/>
<path d="M1712.6 1116.5 A29.5 29.5 0 1 1 1769.4 1116.5 Z" fill="#131311"/>
<rect x="1727.4" y="1099.2" width="25.5" height="16.7" rx="3.5" fill="#fff"/>
<rect x="1804.7" y="1113" width="108" height="6.6" fill="#1d1d1b"/>
<rect x="1804.7" y="1127" width="108" height="5" fill="#b5b5b5"/>
<path d="M1834.9 1114.5 A27.4 27.4 0 1 1 1881.7 1114.5 Z" fill="#131311"/>
<rect x="1846" y="1093" width="26.3" height="18.5" rx="3.5" fill="#fff"/>
<rect x="1918.8" y="1117.4" width="102" height="7.4" fill="#1d1d1b"/>
<rect x="1918.8" y="1128.5" width="102" height="4.5" fill="#cfcfcf"/>
<path d="M1956.1 1118.5 A26.5 26.5 0 1 1 1983.5 1118.5 Z" fill="#131311"/>
<rect x="1956.6" y="1090.4" width="26.4" height="20.2" rx="3.5" fill="#fff"/>
</g>
<path d="M1487 1118 L1520 1095" stroke="#f3c870" stroke-width="0.8" stroke-dasharray="2 2" fill="none"/>
<path d="M1600 1119 L1591 1082 M1600 1119.5 H1654" stroke="#f3c870" stroke-width="0.8" fill="none"/>
<path d="M1713 1116 L1700 1078" stroke="#f3c870" stroke-width="0.9" stroke-dasharray="2 2" fill="none"/><path d="M1713 1116.5 H1770" stroke="#f3c870" stroke-width="1" fill="none"/>
<path d="M1837 1113 L1800 1077" stroke="#f3c870" stroke-width="0.8" fill="none"/>
<path d="M1953 1117 L1919 1093 M1953 1117.5 H2010" stroke="#f3c870" stroke-width="0.8" fill="none"/>
<line x1="1459.8" y1="1060.9" x2="2024.9" y2="1060.9" stroke="#000" stroke-width="1.4"/>
<line x1="1573.4" y1="1060.9" x2="1573.4" y2="1136.4" stroke="#000" stroke-width="1.2"/>
<line x1="1683.4" y1="1060.9" x2="1683.4" y2="1136.4" stroke="#000" stroke-width="1.2"/>
<line x1="1796.2" y1="1060.9" x2="1796.2" y2="1136.4" stroke="#000" stroke-width="1.2"/>
<line x1="1913.8" y1="1060.9" x2="1913.8" y2="1136.4" stroke="#000" stroke-width="1.2"/>
<rect x="1459.8" y="638" width="565.1" height="498.4" fill="none" stroke="#000" stroke-width="2"/>
<line x1="1459.8" y1="1081.0" x2="1464.8" y2="1081.0" stroke="#000" stroke-width="2"/>
<line x1="1459.8" y1="1025.7" x2="1469.6" y2="1025.7" stroke="#000" stroke-width="2"/>
<line x1="1459.8" y1="970.3" x2="1464.8" y2="970.3" stroke="#000" stroke-width="2"/>
<line x1="1459.8" y1="915.0" x2="1469.6" y2="915.0" stroke="#000" stroke-width="2"/>
<line x1="1459.8" y1="859.6" x2="1464.8" y2="859.6" stroke="#000" stroke-width="2"/>
<line x1="1459.8" y1="804.2" x2="1469.6" y2="804.2" stroke="#000" stroke-width="2"/>
<line x1="1459.8" y1="748.9" x2="1464.8" y2="748.9" stroke="#000" stroke-width="2"/>
<line x1="1459.8" y1="693.5" x2="1469.6" y2="693.5" stroke="#000" stroke-width="2"/>
<text x="1431.5" y="1145.1" font-size="31.3" font-weight="bold" textLength="16.7" lengthAdjust="spacingAndGlyphs">0</text>
<text x="1414.9" y="1034.4" font-size="31.3" font-weight="bold" textLength="33.4" lengthAdjust="spacingAndGlyphs">40</text>
<text x="1414.9" y="923.7" font-size="31.3" font-weight="bold" textLength="33.4" lengthAdjust="spacingAndGlyphs">80</text>
<text x="1398.2" y="812.9" font-size="31.3" font-weight="bold" textLength="50.1" lengthAdjust="spacingAndGlyphs">120</text>
<text x="1398.2" y="702.2" font-size="31.3" font-weight="bold" textLength="50.1" lengthAdjust="spacingAndGlyphs">160</text>
<line x1="1516.1" y1="1136.4" x2="1516.1" y2="1130.4" stroke="#000" stroke-width="1.6"/>
<line x1="1629" y1="1136.4" x2="1629" y2="1130.4" stroke="#000" stroke-width="1.6"/>
<line x1="1742.1" y1="1136.4" x2="1742.1" y2="1130.4" stroke="#000" stroke-width="1.6"/>
<line x1="1855.2" y1="1136.4" x2="1855.2" y2="1130.4" stroke="#000" stroke-width="1.6"/>
<line x1="1968.1" y1="1136.4" x2="1968.1" y2="1130.4" stroke="#000" stroke-width="1.6"/>
<text x="1493.4" y="1175.7" font-size="37.6" font-weight="bold" textLength="48.0" lengthAdjust="spacingAndGlyphs">Cu</text>
<text x="1575.2" y="1175.7" font-size="36.5" font-weight="bold" textLength="102.9" lengthAdjust="spacingAndGlyphs">Cu-4C</text>
<text x="1690.6" y="1175.7" font-size="36.2" font-weight="bold" textLength="101.9" lengthAdjust="spacingAndGlyphs">Cu-7C</text>
<text x="1799.7" y="1175.7" font-size="36.2" font-weight="bold" textLength="121.2" lengthAdjust="spacingAndGlyphs">Cu-12C</text>
<text x="1928.4" y="1175.7" font-size="35.9" font-weight="bold" textLength="120.4" lengthAdjust="spacingAndGlyphs">Cu-18C</text>
<text transform="translate(1383.2,1076.4) rotate(-90)" font-size="47.2" font-weight="bold" textLength="375.9" lengthAdjust="spacingAndGlyphs">Contact angle (°)</text>
<text x="1383.0" y="669.4" font-size="56.8" font-weight="bold" textLength="20.8" lengthAdjust="spacingAndGlyphs">f</text>
</svg>
</body></html>
